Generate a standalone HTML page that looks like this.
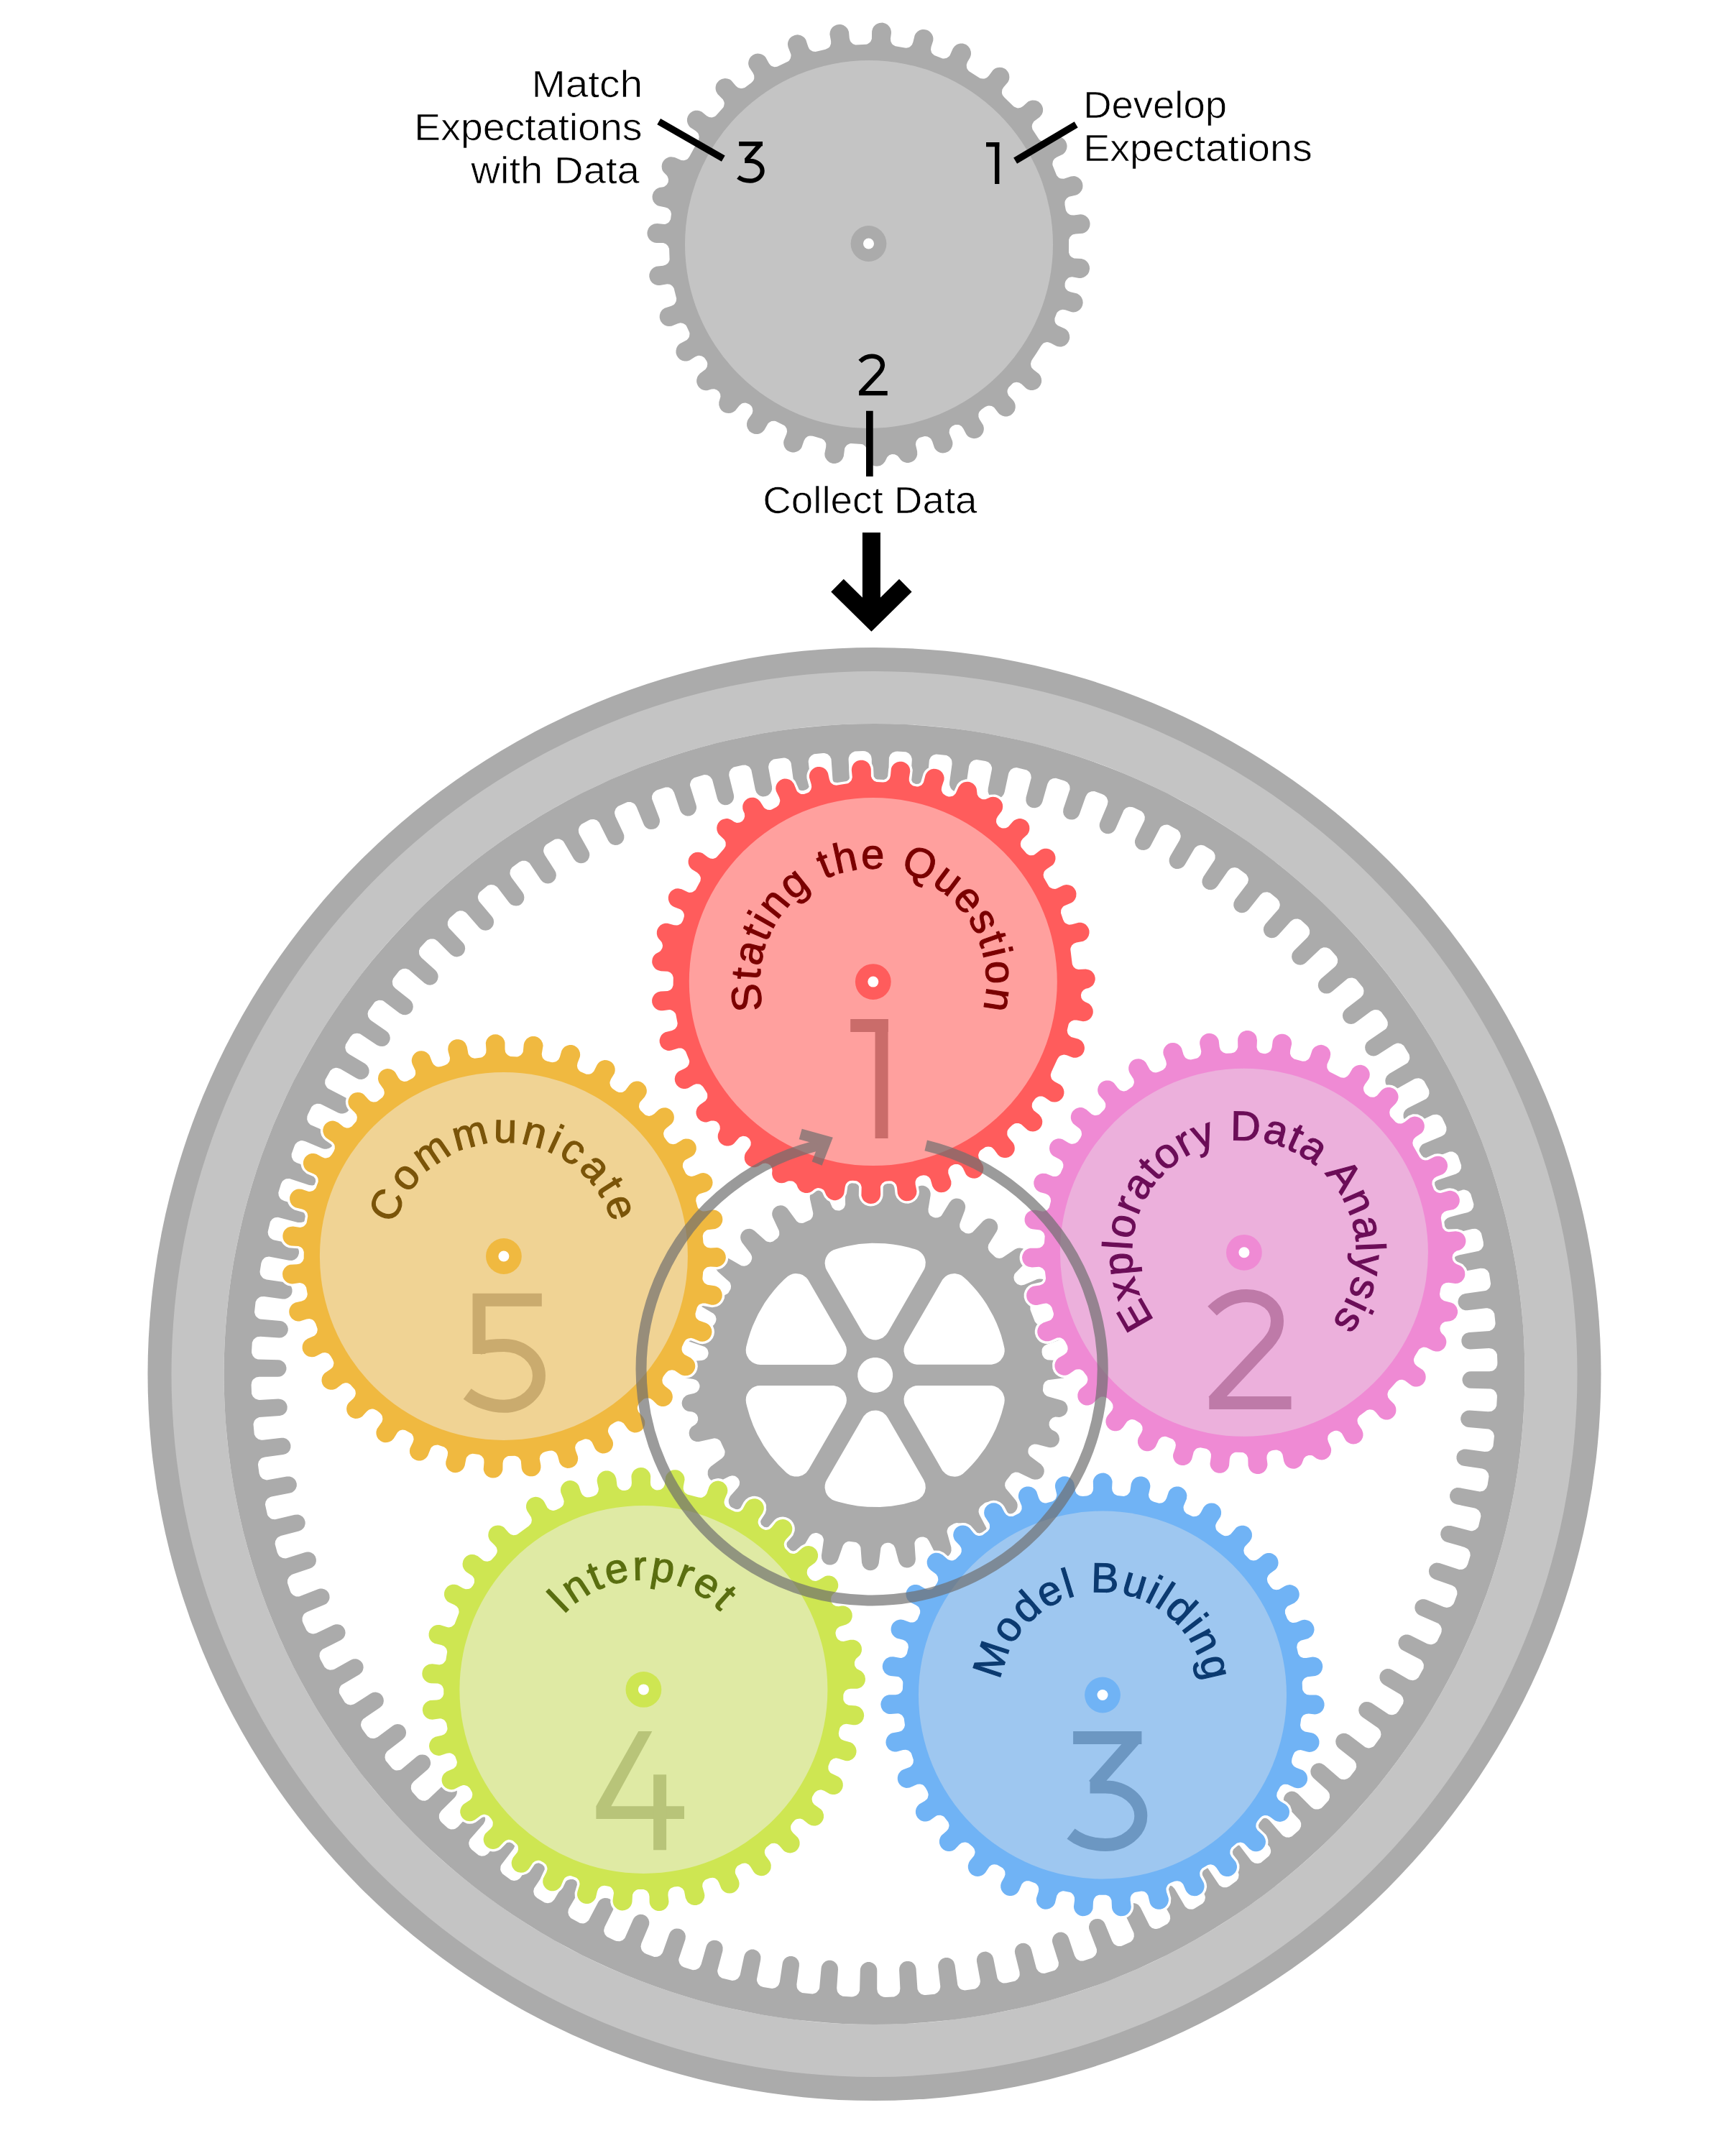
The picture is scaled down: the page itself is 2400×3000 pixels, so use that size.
<!DOCTYPE html>
<html><head><meta charset="utf-8"><style>html,body{margin:0;padding:0;background:#fff;}svg{display:block;}</style></head><body>
<svg xmlns="http://www.w3.org/2000/svg" width="2400" height="3000" viewBox="0 0 2400 3000">
<rect width="2400" height="3000" fill="#fff"/>
<path fill="#ababab" d="M913.2 338L922.9 338.1L926.5 339.5L929.3 342.2L930.9 345.7L931.1 347.6L931.6 361L931.2 362.9L929.3 366.2L926.2 368.6L922.5 369.7L913 370.7L909.7 372.2L907 374.4L904.9 377.2L903.4 381.6L903.3 385.1L904.2 388.5L905.2 390.7L907.4 393.4L910.3 395.5L912.9 396.6L915.3 397.1L918.2 397.1L928.3 395.2L932.1 395.8L933.8 396.7L935.4 397.9L937.6 401.1L941.2 415.4L940.7 419.2L938.9 422.6L937.5 423.9L934 425.7L924.7 428.7L921.8 430.8L920.3 432.6L918.8 435.1L917.8 438.5L917.7 442L918.6 445.4L919.6 447.6L921.8 450.3L924.7 452.4L928 453.7L930.8 454.1L934.3 453.7L942.9 450.2L946.7 449.3L950.5 450L953.8 452.1L955 453.5L959.2 462.5L959.5 464.4L959 468.2L958.2 470L955.7 472.9L945.9 478.2L944.1 479.8L942.4 482.1L941.3 484.2L940.5 487.7L940.5 491.2L941.5 494.5L943.4 497.6L945.9 500L949 501.7L952.4 502.5L955.9 502.4L959.3 501.4L967.1 496.4L970.7 494.9L972.6 494.7L976.4 495.4L979.7 497.5L980.9 499L983.4 502.8L984 504.6L984.3 506.6L983.7 510.4L981.7 513.7L973.8 519.8L971.1 522.9L970.1 525.1L969.2 528.5L969.2 531.4L969.7 533.7L971.1 537L972.9 539.2L975.6 541.5L977.8 542.5L981.2 543.3L984.1 543.3L989.9 541.6L993.7 541.3L997.3 542.4L1000.3 544.9L1002.1 548.2L1002.5 552L1000.3 559.6L1000.3 563.7L1001.7 568.1L1003.8 571L1006.6 573.2L1009.8 574.6L1013.3 575.1L1016.8 574.8L1020 573.5L1022.9 571.4L1028.5 564.4L1031.4 561.9L1033.2 561.1L1037 560.6L1038.9 560.9L1042.4 562.5L1044.8 564.6L1046 566.1L1046.8 567.9L1047.4 571.7L1046.5 575.4L1040.9 583.6L1039.8 585.7L1039 589.2L1039.1 592.7L1040.1 596.1L1042.6 599.9L1045.4 602.1L1049.2 603.7L1052.1 604.1L1054.5 603.9L1057.3 603.2L1060.4 601.5L1063.3 598.5L1068.6 589.3L1070 587.9L1073.4 586.1L1077.2 585.7L1079.1 586L1091.1 592L1092.5 593.3L1094.5 596.6L1095.1 600.4L1094.2 604.1L1090.5 612.9L1090.1 615.7L1090.5 619.2L1091.7 622.5L1093.8 625.4L1095.6 626.9L1098.7 628.6L1102.1 629.5L1105 629.5L1108.4 628.6L1111.5 626.9L1114.1 624.5L1115.4 622.5L1118.5 613.4L1120.4 610L1123.3 607.6L1125.1 606.8L1127.1 606.4L1130.9 606.8L1143.6 610.4L1146.8 612.7L1148.8 616L1149.3 617.8L1149.2 621.7L1147.3 631.2L1147.6 634.7L1148.4 637L1151 640.8L1154.3 643.4L1158.7 644.9L1162.2 644.9L1165.6 644.1L1167.8 643L1170.5 640.8L1172.2 638.6L1173.8 634.7L1175.2 624.1L1176 622.3L1178.4 619.3L1181.8 617.4L1183.6 617L1198.9 618L1200.7 618.6L1203.9 620.9L1205.9 624.2L1206.5 628L1206.5 637.3L1207.3 640.2L1208.9 643.2L1211.4 645.8L1213.4 647.1L1216.7 648.4L1220.2 648.8L1224.7 647.9L1228.3 645.8L1231.3 642.3L1234.4 635.9L1237.3 633.3L1241 632.1L1244.9 632.3L1248.4 634.1L1249.9 635.4L1253.6 640.3L1255.8 642.1L1258 643.1L1261.4 644L1264.3 644L1267.7 643.1L1269.9 642.1L1272.6 639.9L1274.4 637.6L1275.4 635.4L1276.2 632.6L1276.1 628.1L1273.9 618.6L1274.5 614.8L1275.3 613L1277.8 610.1L1279.5 609.1L1284.8 607.5L1286.7 607.1L1290.5 607.5L1293.9 609.4L1295.3 610.8L1297.1 614.2L1300.2 623.4L1302.2 626.3L1305 628.5L1308.2 629.9L1311.7 630.4L1315.2 630.1L1318.5 628.8L1320.5 627.5L1322.9 624.9L1324.6 621.8L1325.4 618.4L1325.4 615.5L1324.9 613.2L1320.9 603.3L1320.6 601.4L1321.2 597.6L1322.1 595.8L1324.7 593L1328.9 591L1332.7 590.9L1334.6 591.3L1337.9 593.3L1340.3 596.4L1344.5 604.6L1346.9 607.2L1349 608.5L1351.6 609.6L1355.1 610.2L1358.6 609.8L1360.9 609L1363.9 607.2L1366.3 604.6L1368 601.5L1368.8 598.1L1368.8 595.2L1368 591.8L1362.8 583.5L1361.4 579.9L1361.4 576L1362 574.2L1362.9 572.4L1365.6 569.7L1370.5 566.3L1374 564.7L1376 564.4L1379.8 565L1383.1 567L1388.9 574.5L1390.9 576.5L1394.5 578.6L1397.9 579.4L1401.4 579.4L1405.8 577.9L1408.6 575.8L1410.8 573.1L1411.9 570.9L1412.7 567.5L1412.7 564.6L1412.3 562.2L1411.2 559.6L1409.7 557.3L1403.1 550.2L1401.7 546.6L1401.5 544.6L1401.7 542.7L1403.2 539.2L1408.9 533.5L1410.6 532.6L1414.3 531.8L1418.1 532.5L1421.4 534.5L1427.7 540.4L1430.2 541.9L1433.6 542.9L1437.1 543L1440.6 542.1L1443.6 540.4L1445.5 538.8L1447.5 536L1448.8 532.7L1449.2 529.9L1448.8 526.4L1447.5 523.1L1445.5 520.2L1438.1 514.6L1435.4 511.7L1434.6 510L1434 506.2L1434.9 502.4L1435.8 500.7L1442 491.6L1448.6 481L1451.2 478.1L1452.8 477.1L1456.5 476.1L1458.5 476.2L1462.1 477.4L1468.7 481.1L1471 482L1474.5 482.6L1476.9 482.4L1481.3 480.9L1484.1 478.8L1486.3 476.1L1487.9 472.2L1488.3 469.4L1487.9 465.9L1486.7 462.6L1485.3 460.6L1483.3 458.6L1481.3 457.2L1471.8 453.1L1469 450.4L1468.1 448.7L1467.5 446.8L1467.4 442.9L1470.3 435.5L1471.5 433.9L1474.6 431.7L1478.3 430.8L1482.1 431.3L1491.1 434.3L1493.5 434.4L1497 433.9L1499.7 432.8L1502.5 430.7L1504.7 428L1506.1 424.8L1506.7 421.3L1506.3 417.8L1505 414.5L1503.7 412.5L1501.7 410.5L1498.7 408.6L1489.3 406.3L1485.7 404.8L1483 402L1482.1 400.3L1481.6 398.4L1481.6 394.5L1482.4 391.6L1483.3 389.9L1486 387.1L1487.7 386.1L1491.5 385.3L1501.3 386.9L1504 386.9L1507.5 386L1510.5 384.3L1513.5 381.4L1515.2 378.3L1516.1 373.8L1515.7 370.3L1514.4 367L1513.1 365L1511.1 363L1509.1 361.6L1504.7 360.1L1494.4 359.4L1490.9 357.7L1489.5 356.4L1488.3 354.9L1487 351.3L1487.1 333.6L1488.5 330L1491.2 327.2L1492.9 326.2L1496.6 325.4L1506.3 324.8L1508.6 324L1511.1 322.6L1512.9 321L1515 318.1L1516.2 314.9L1516.6 311.4L1516.2 308.5L1515 305.2L1512.9 302.4L1510.2 300.2L1506.9 298.7L1503.5 298.2L1494.1 299.5L1490.3 299.3L1488.5 298.7L1485.3 296.5L1483.2 293.2L1482.7 291.4L1481.5 285L1481.5 281.1L1482 279.2L1484.1 276L1487.3 273.8L1497 271.4L1499.5 270.4L1502.4 268.3L1504.9 265L1506.2 261.7L1506.5 258.2L1506 254.7L1504.6 251.5L1502.8 249.2L1500.1 247L1496.9 245.6L1494.5 245.1L1489.9 245.4L1480.1 248.7L1476.3 248.5L1474.4 247.9L1472.8 246.9L1470.1 244.1L1464.5 229.9L1464.3 227.9L1465 224.1L1467 220.9L1470.2 218.7L1479.1 214.4L1481.6 212L1482.9 210L1484.2 206.7L1484.6 203.2L1484.2 200.4L1482.9 197.1L1480.9 194.3L1478.1 192L1474.9 190.6L1472.5 190.1L1469 190.2L1466.3 191L1458.2 195.6L1454.6 196.9L1450.7 196.8L1447.2 195.2L1445.7 193.9L1436.5 180L1435.7 176.2L1435.9 174.3L1436.4 172.4L1438.4 169.1L1446.4 163.1L1449.5 159.3L1450.8 156L1451.1 153.2L1451 150.8L1450 147.4L1448.2 144.4L1444.7 141.3L1440.8 139.7L1436.2 139.4L1433.9 139.9L1430.6 141.3L1423.4 147.7L1420.1 149.7L1416.3 150.4L1414.4 150.1L1410.9 148.6L1409.4 147.3L1397.1 135.3L1394.8 132.2L1394.2 130.4L1393.9 128.4L1394.4 124.6L1396.4 121.3L1402.4 114.2L1403.9 110.9L1404.4 107.5L1404 104L1403.3 101.7L1401.8 99.2L1399.4 96.6L1397.4 95.3L1394.1 94L1390.6 93.7L1387.1 94.2L1384.5 95.3L1381.6 97.4L1375.9 105.3L1373.1 108L1369.6 109.4L1367.6 109.6L1363.8 108.9L1362.1 108L1348 99L1345.7 95.9L1345 94.1L1344.7 90.3L1345.9 86.6L1349.7 80L1350.5 77.8L1351 75.4L1350.9 71.9L1349.4 67.5L1346.9 64.2L1344.1 62.1L1339.7 60.6L1336.2 60.5L1333.8 61L1331.2 62.1L1328.3 64.2L1325.8 67.5L1321.6 77L1320.4 78.5L1317.2 80.7L1313.4 81.5L1311.5 81.4L1300 77.1L1297.1 74.5L1296 72.9L1295 69.1L1295.5 65.3L1298.3 56.5L1298.4 53L1297.9 50.6L1296.5 47.4L1294.3 44.7L1291.4 42.6L1288.8 41.5L1285.3 41L1282.9 41.1L1279.5 42.1L1276.5 43.9L1274.1 46.5L1272.7 49L1270.4 58.6L1268.9 62.2L1266.2 64.9L1264.5 65.9L1260.8 66.7L1258.8 66.5L1245.7 64.2L1242.3 62.3L1241 60.9L1239.3 57.4L1239 53.6L1240 46.1L1239.9 43.6L1239.1 40.2L1238 38L1235 34.5L1232 32.7L1228 31.6L1223.4 31.9L1220.1 33.2L1218.1 34.5L1215.6 37.1L1214.2 39.6L1213.1 43.6L1212.9 54L1211.5 57.5L1210.2 59.1L1207 61.2L1205.2 61.8L1190.4 62.4L1186.8 61.2L1183.9 58.6L1182.9 57L1181.8 53.3L1181 44.2L1179.7 40.9L1178.4 38.9L1176.3 36.9L1173.3 35L1170 34.1L1167.5 33.9L1164.1 34.4L1160.9 35.9L1158.1 38.1L1156 40.9L1154.8 44.2L1154.4 47.7L1156.1 56.9L1156.1 60.8L1154.7 64.4L1153.5 65.9L1152 67.1L1148.4 68.7L1134.6 72L1130.7 71.5L1127.4 69.6L1126 68.2L1124.3 64.7L1121.2 55.3L1119.2 52.5L1117.3 50.9L1114.2 49.2L1109.7 48.3L1105.6 48.9L1101.4 50.9L1098.9 53.3L1097.6 55.3L1096.3 58.6L1095.9 61.5L1096.5 65.6L1100.4 75.4L1100.6 77.3L1099.9 81.1L1097.8 84.4L1096.4 85.6L1081.3 92.8L1077.5 93.2L1073.8 92L1072.2 90.9L1069.8 87.9L1065.1 79.6L1063.1 77.6L1060.1 75.7L1057.8 74.9L1054.3 74.6L1050.8 75.1L1047.6 76.5L1044.8 78.7L1043.1 81L1041.7 84.2L1041.1 87.7L1041.3 90.1L1042.3 93.5L1047.6 101.5L1049.2 105L1049.3 108.9L1048.8 110.7L1047.9 112.5L1045.3 115.3L1036.2 122L1032.4 123.1L1030.5 123.1L1026.8 121.9L1023.8 119.4L1017.4 112L1015.4 110.6L1012.2 109.4L1008.7 109L1004.1 109.9L1000.5 112L997.5 115.5L996.4 117.6L995.6 121L995.6 123.9L996.4 127.3L998.5 130.9L1005.9 138.5L1007.5 142L1007.8 143.9L1007.1 147.7L1006.3 149.5L995.8 161.3L994.2 162.3L990.5 163.4L986.7 163L983.3 161.2L976.3 155.6L973.1 154.2L970.8 153.7L967.2 153.8L963.9 154.8L960.9 156.7L958.8 158.7L957 161.7L956 165.1L955.9 168.6L956.8 172L958.4 175.1L960 176.9L968 182.2L970.9 184.9L971.8 186.6L972.7 190.3L972.1 194.2L959.3 217.8L956.9 220.9L955.4 222L951.7 223.3L947.9 223.1L938.8 219.1L933.7 218.2L930.9 218.6L927.6 219.9L925.6 221.2L923.6 223.2L921.7 226.2L921 228.5L920.6 231.4L921 234.9L921.7 237.2L923.2 239.6L927.6 244L928.8 245.7L930 249.5L929.7 253.5L927.7 257L924.6 259.5L922.7 260.2L917.2 261.1L914.5 262.2L912.5 263.5L909.4 267L907.9 270.9L907.5 273.7L907.9 277.2L909.1 280.5L911.2 283.3L913.9 285.5L916.1 286.6L925.6 288.4L929.3 289.8L932.1 292.4L933.1 294.1L934 297.8L933 305.2L931.1 308.6L929.7 309.9L926.2 311.7L924.3 312L914.4 311L910.1 311.6L907.4 312.7L905.4 314L903.4 316.1L902.1 318.1L900.8 321.4L900.4 324.2L900.8 327.7L902.1 331L904.1 333.8L906.9 336L910.1 337.5Z"/>
<circle cx="1209" cy="340" r="256" fill="#c4c4c4"/>
<circle cx="1208.5" cy="339" r="24.9" fill="#ababab"/>
<circle cx="1208.5" cy="339" r="7.5" fill="#fff"/>
<circle cx="1216.5" cy="1912" r="1011" fill="#ababab"/>
<circle cx="1216.5" cy="1912" r="978" fill="#c4c4c4"/>
<circle cx="1216.5" cy="1912" r="905" fill="#fff"/>
<path fill="#ababab" fill-rule="evenodd" d="M2120.4 1867.6L2119.1 1845.5L2117.1 1823.3L2114.7 1801.3L2111.7 1779.2L2108.2 1757.3L2104.1 1735.5L2099.5 1713.7L2094.4 1692.1L2088.7 1670.7L2082.5 1649.3L2075.8 1628.1L2068.6 1607.1L2060.9 1586.3L2052.6 1565.7L2043.9 1545.3L2034.6 1525.1L2024.9 1505.1L2014.7 1485.4L2003.9 1466L1992.8 1446.8L1981.1 1427.9L1969 1409.2L1956.4 1390.9L1943.4 1372.9L1930 1355.2L1916.1 1337.9L1901.8 1320.9L1887.1 1304.3L1872 1288L1856.5 1272.1L1840.6 1256.6L1824.3 1241.5L1807.6 1226.7L1790.7 1212.4L1773.3 1198.6L1755.6 1185.1L1737.6 1172.1L1719.3 1159.5L1700.7 1147.4L1681.8 1135.8L1662.6 1124.6L1643.1 1113.9L1623.4 1103.6L1603.5 1093.9L1583.3 1084.7L1562.9 1075.9L1542.2 1067.7L1521.4 1059.9L1500.4 1052.7L1479.2 1046L1457.9 1039.8L1436.4 1034.1L1414.8 1029L1393.1 1024.4L1371.3 1020.3L1349.3 1016.8L1327.3 1013.8L1305.2 1011.4L1283.1 1009.5L1260.9 1008.1L1238.7 1007.3L1216.5 1007L1194.3 1007.3L1172.1 1008.1L1150 1009.4L1127.8 1011.4L1105.8 1013.8L1083.7 1016.8L1061.8 1020.3L1040 1024.4L1018.2 1029L996.6 1034.1L975.2 1039.8L953.8 1046L932.6 1052.7L911.6 1059.9L890.8 1067.6L870.2 1075.9L849.8 1084.6L829.6 1093.9L809.6 1103.6L789.9 1113.8L770.5 1124.6L751.3 1135.7L732.4 1147.4L713.7 1159.5L695.4 1172.1L677.4 1185.1L659.7 1198.5L642.4 1212.4L625.4 1226.7L608.8 1241.4L592.5 1256.5L576.6 1272L561.1 1287.9L546 1304.2L531.2 1320.9L516.9 1337.8L503.1 1355.2L489.6 1372.9L476.6 1390.9L464 1409.2L451.9 1427.8L440.3 1446.7L429.1 1465.9L418.4 1485.4L408.1 1505.1L398.4 1525L389.2 1545.2L380.4 1565.6L372.2 1586.3L364.4 1607.1L357.2 1628.1L350.5 1649.3L344.3 1670.6L338.6 1692.1L333.5 1713.7L328.9 1735.4L324.8 1757.2L321.3 1779.2L318.3 1801.2L315.9 1823.3L314 1845.4L312.6 1867.6L311.8 1889.8L311.5 1912L311.8 1934.2L312.6 1956.4L313.9 1978.5L315.9 2000.7L318.3 2022.7L321.3 2044.8L324.8 2066.7L328.9 2088.5L333.5 2110.3L338.6 2131.9L344.3 2153.3L350.5 2174.7L357.2 2195.9L364.4 2216.9L372.1 2237.7L380.4 2258.3L389.1 2278.7L398.4 2298.9L408.1 2318.9L418.3 2338.6L429.1 2358L440.2 2377.2L451.9 2396.1L464 2414.8L476.6 2433.1L489.6 2451.1L503 2468.8L516.9 2486.1L531.2 2503.1L545.9 2519.7L561 2536L576.5 2551.9L592.4 2567.4L608.7 2582.5L625.4 2597.3L642.3 2611.6L659.7 2625.4L677.4 2638.9L695.4 2651.9L713.7 2664.5L732.3 2676.6L751.2 2688.2L770.4 2699.4L789.9 2710.1L809.6 2720.4L829.5 2730.1L849.7 2739.3L870.1 2748.1L890.8 2756.3L911.6 2764.1L932.6 2771.3L953.8 2778L975.1 2784.2L996.6 2789.9L1018.2 2795L1039.9 2799.6L1061.7 2803.7L1083.7 2807.2L1105.7 2810.2L1127.8 2812.6L1149.9 2814.5L1172.1 2815.9L1194.3 2816.7L1216.5 2817L1238.7 2816.7L1260.9 2815.9L1283 2814.6L1305.2 2812.6L1327.2 2810.2L1349.3 2807.2L1371.2 2803.7L1393 2799.6L1414.8 2795L1436.4 2789.9L1457.8 2784.2L1479.2 2778L1500.4 2771.3L1521.4 2764.1L1542.2 2756.4L1562.8 2748.1L1583.2 2739.4L1603.4 2730.1L1623.4 2720.4L1643.1 2710.2L1662.5 2699.4L1681.7 2688.3L1700.6 2676.6L1719.3 2664.5L1737.6 2651.9L1755.6 2638.9L1773.3 2625.5L1790.6 2611.6L1807.6 2597.3L1824.2 2582.6L1840.5 2567.5L1856.4 2552L1871.9 2536.1L1887 2519.8L1901.8 2503.1L1916.1 2486.2L1929.9 2468.8L1943.4 2451.1L1956.4 2433.1L1969 2414.8L1981.1 2396.2L1992.7 2377.3L2003.9 2358.1L2014.6 2338.6L2024.9 2318.9L2034.6 2299L2043.8 2278.8L2052.6 2258.4L2060.8 2237.7L2068.6 2216.9L2075.8 2195.9L2082.5 2174.7L2088.7 2153.4L2094.4 2131.9L2099.5 2110.3L2104.1 2088.6L2108.2 2066.8L2111.7 2044.8L2114.7 2022.8L2117.1 2000.7L2119 1978.6L2120.4 1956.4L2121.2 1934.2L2121.5 1912L2121.2 1889.8ZM349.6 1926.9L350.4 1922.6L351.4 1920.6L352.8 1919L356.4 1916.5L360.7 1915.7L386.5 1915.8L389.5 1915.5L392.3 1914.4L395.3 1912.1L397.1 1909.6L398.4 1905.9L398.5 1902.9L397.5 1899.2L395.3 1896L392.3 1893.7L389.5 1892.6L386.9 1892.3L358.7 1891.6L354.8 1889.9L351.8 1886.8L350.2 1882.7L350.1 1880.1L350.8 1868L352.7 1864.1L356 1861.2L357.9 1860.3L362.3 1859.7L388.3 1861.5L391.8 1861.2L394.6 1860.1L397.6 1857.8L399.4 1855.3L400.7 1851.7L400.8 1848.6L399.8 1845L397.6 1841.7L394.6 1839.5L392.5 1838.6L389.9 1838.1L361.9 1835.6L359.9 1834.8L356.5 1832L355.3 1830.2L354 1826.1L355.6 1811.5L357.7 1807.7L361.1 1805L363.2 1804.2L367.5 1803.9L393.1 1807.4L396.8 1807.4L400.5 1806.1L403.5 1803.8L405.3 1801.4L406.5 1797.7L406.5 1793.9L405.3 1790.3L403 1787.3L399.7 1785.1L396.6 1784.2L370.8 1780.4L366.7 1778.9L365 1777.6L362.4 1774.1L361.5 1769.8L363.4 1757.5L365 1753.4L368 1750.3L370 1749.3L374.2 1748.4L402 1753.8L406.2 1753.9L409.8 1752.7L412.8 1750.4L414.6 1747.9L415.9 1744.2L416 1741.1L415 1737.5L412.8 1734.3L409.8 1732L406.6 1730.8L381.3 1725.4L379.2 1724.7L375.6 1722.2L373.3 1718.5L372.6 1714.3L376 1700L378.6 1696.5L380.4 1695.2L382.4 1694.3L386.7 1693.7L414.3 1701L419 1701.1L422.7 1699.9L425.2 1698.1L427.1 1695.7L428.5 1692.2L428.8 1688.4L428.1 1685.4L426.2 1682.1L423.3 1679.6L420.3 1678.2L395.3 1671.1L391.4 1669.1L389.8 1667.6L387.8 1663.8L387.3 1659.5L390.9 1647.4L393 1643.6L396.4 1641L398.4 1640.2L402.8 1639.9L430.1 1649L434.6 1649.4L437.5 1648.7L440.8 1646.8L443.4 1643.9L444.8 1640.4L445.1 1636.6L444.4 1633.6L442.9 1630.9L440.2 1628.2L437.2 1626.6L412.8 1617.9L409 1615.7L407.6 1614.1L405.8 1610.1L405.6 1605.8L409.5 1595L410.9 1592L414 1588.9L418 1587.3L420.1 1587L424.4 1587.9L448.2 1597.9L451.1 1598.7L454.2 1598.8L457.8 1597.8L460.4 1596.2L463 1593.3L464.2 1590.5L464.7 1586.8L464 1583L462.1 1579.7L459.8 1577.6L457.6 1576.3L431.8 1564.9L428.8 1561.8L427.2 1557.8L427.4 1553.4L428.2 1551L433.6 1540.1L436.8 1537.2L440.9 1535.7L445.3 1536L447.3 1536.8L470.7 1548.4L474 1549.5L477.1 1549.6L480.7 1548.6L483.3 1547L485.9 1544.1L487.1 1541.3L487.6 1537.5L486.8 1533.7L485 1530.5L483.3 1528.8L481.1 1527.4L456.2 1514.4L454.6 1512.8L452.5 1509L452.1 1506.9L452.5 1502.5L459.6 1489.7L463 1487L467.2 1485.8L469.4 1485.9L473.5 1487.3L495.8 1500.3L499.2 1501.7L503.1 1501.9L506.8 1500.9L510 1498.8L511.9 1496.4L513.4 1492.9L513.6 1489.1L512.6 1485.4L510.5 1482.2L507.9 1480.1L485.6 1466.8L482.4 1463.9L481.3 1462L480.2 1457.7L480.9 1453.4L487.5 1442.7L490.5 1439.6L492.4 1438.6L496.7 1437.7L500.9 1438.6L524.5 1454.2L528.4 1455.8L532.2 1456.1L535.2 1455.4L538.5 1453.5L541 1450.6L542.5 1447.1L542.8 1444.1L542 1440.3L540.1 1437L537.6 1434.7L516.3 1419.9L514.6 1418.5L512.3 1414.9L511.5 1410.6L512.5 1406.4L521.2 1394.5L522.9 1393.2L527 1391.7L531.4 1392L533.4 1392.8L556.1 1410L560.4 1412L564.3 1412.3L567.2 1411.6L570.5 1409.7L572.6 1407.4L574.1 1404.7L574.8 1400.9L574.3 1397.2L572.6 1393.7L570.3 1391.3L550 1375.2L547.1 1371.9L546.3 1369.9L545.8 1365.5L547.1 1361.4L554.9 1351.6L556.5 1350.1L560.4 1348.1L564.7 1347.8L568.9 1349.2L590.6 1368.1L594.6 1370.2L598.3 1370.7L602.1 1369.9L605.4 1368L607.5 1365.8L608.9 1363.1L609.7 1359.3L609.4 1356.3L607.9 1352.8L605.7 1350.1L586.5 1332.7L583.9 1329.2L583.2 1327.2L583 1322.8L584.5 1318.8L592.3 1310.3L594.7 1308.1L598.7 1306.4L603 1306.4L605.1 1307L608.7 1309.4L626.9 1327.8L629.3 1329.6L632.1 1330.9L635.8 1331.4L639.6 1330.6L642.3 1329.2L645 1326.5L646.4 1323.8L647.2 1320L646.7 1316.3L645.4 1313.5L643.8 1311.4L624.4 1291.1L622.8 1287L622.9 1282.7L624.7 1278.7L626.4 1276.8L635.5 1268.8L639.6 1267.3L643.9 1267.6L647.8 1269.5L649.4 1271L666.6 1290.7L669.2 1292.9L672 1294.2L675.8 1294.7L679.6 1293.9L682.3 1292.5L684.9 1289.8L686.4 1287.1L687.1 1283.3L686.7 1279.6L685.8 1277.4L684.3 1275.2L666.2 1253.7L664.9 1249.5L664.9 1247.3L666.2 1243.2L667.4 1241.4L678.8 1232.1L683 1231L687.3 1231.5L691.1 1233.7L692.6 1235.3L708.2 1255.8L710.9 1258.4L714.3 1260.1L718.1 1260.6L721.9 1259.9L724.6 1258.4L727.2 1255.8L729 1252.3L729.4 1248.5L728.7 1244.7L727.1 1241.8L711.6 1221L709.7 1217L709.4 1214.9L710.1 1210.6L712.4 1206.9L722.5 1199.5L726.5 1197.8L730.9 1197.7L733 1198.4L736.6 1200.8L752.4 1224.2L755.3 1227.2L758.8 1228.9L762.5 1229.4L766.3 1228.7L769 1227.2L771.7 1224.5L773.1 1221.9L773.9 1218.1L773.4 1214.3L771.9 1211.2L757.9 1189.4L756.3 1185.4L756.1 1183.2L757.1 1179L759.6 1175.4L772.1 1167.8L776.4 1167.2L778.6 1167.5L782.5 1169.4L784.1 1170.9L798.5 1195.5L801.7 1199L805.2 1200.7L808.2 1201.2L811.9 1200.7L814.7 1199.4L817.6 1196.9L819.5 1193.6L820.3 1189.8L820 1186.8L818.8 1183.7L806.1 1161L805.3 1159L804.8 1154.6L806 1150.5L808.8 1147.1L819.8 1141.1L821.8 1140.3L826.1 1140L830.2 1141.3L833.5 1144.2L846.4 1170L849.2 1173.4L851.9 1175L855.5 1176L859.4 1175.8L862.8 1174.3L865.2 1172.4L867.4 1169.2L868.3 1166.2L868.3 1162.4L867.2 1159.2L856.1 1135.7L855.1 1131.5L855.2 1129.3L856.7 1125.2L859.7 1122.1L870.1 1117.2L873.1 1116.1L877.5 1116.1L881.5 1117.7L883.2 1119.1L885.6 1122.7L895.4 1146.6L896.8 1149.3L898.9 1151.5L902.2 1153.4L905.2 1154.1L909 1153.8L912.5 1152.4L914.9 1150.4L917 1147.2L918 1143.6L917.9 1140.5L917.2 1138L907.1 1111.7L907.1 1107.4L908.9 1103.4L912.1 1100.4L914.4 1099.3L925.9 1095.4L930.2 1095.6L934.1 1097.5L935.7 1099L937.9 1102.8L946.2 1127.5L947.8 1130.6L949.9 1132.8L953.2 1134.7L956.2 1135.4L960 1135.2L963.5 1133.7L965.9 1131.8L968 1128.6L969 1124.9L969 1122.6L968.5 1120L960.1 1093.2L960 1091L961.3 1086.9L962.5 1085L965.8 1082.3L979.9 1078.1L984.2 1078.6L988 1080.8L990.7 1084.2L991.4 1086.3L998 1111.3L999.5 1114.7L1002 1117.6L1004.6 1119.2L1008.3 1120.2L1012.1 1119.9L1015.6 1118.5L1018.5 1115.9L1020.4 1112.7L1021.2 1108.9L1020.8 1105.6L1014.5 1080.3L1014.2 1078.2L1014.8 1073.9L1017.1 1070.2L1020.6 1067.6L1032.8 1064.7L1037.2 1064.6L1041.2 1066.3L1042.9 1067.6L1045.3 1071.2L1050.9 1098.9L1052.5 1102.9L1055 1105.8L1057.6 1107.4L1061.3 1108.4L1065.1 1108.1L1068.6 1106.7L1071.5 1104.1L1073.4 1100.8L1074.1 1097.9L1074 1094.4L1069.3 1068.9L1069.1 1066.7L1070.1 1062.5L1072.6 1058.9L1076.2 1056.6L1090.8 1054.4L1092.9 1054.7L1096.9 1056.6L1099.7 1059.8L1100.6 1061.8L1104.5 1090.1L1106.1 1094.5L1108.7 1097.4L1111.3 1099L1114.9 1100L1118 1099.9L1121.6 1098.7L1124.1 1096.9L1126.4 1093.9L1127.7 1090.2L1127.8 1086.9L1124.8 1061.1L1124.7 1058.9L1125.9 1054.7L1128.7 1051.4L1132.5 1049.3L1145 1048L1147.1 1048L1151.3 1049.3L1154.6 1052.2L1156.5 1056.1L1158.5 1084.8L1159.8 1089.1L1162.1 1092.1L1165.4 1094.2L1169 1095.2L1172.1 1095.1L1175.7 1093.9L1178.2 1092.1L1180.5 1089.1L1181.6 1086.2L1181.9 1082.8L1180.6 1056.9L1180.7 1054.7L1182.2 1050.6L1185.2 1047.4L1189.1 1045.6L1200.6 1045.1L1203.8 1045.3L1207.9 1046.9L1210.9 1050L1212 1051.9L1212.8 1056.2L1212.7 1082L1213 1085L1214.1 1087.8L1216.4 1090.8L1218.9 1092.6L1222.6 1093.9L1225.6 1094L1229.3 1093L1232.5 1090.8L1234.8 1087.8L1235.9 1085L1236.2 1082.4L1236.9 1054.2L1238.6 1050.3L1241.7 1047.3L1245.8 1045.7L1248.4 1045.6L1260.5 1046.3L1264.4 1048.2L1267.3 1051.5L1268.7 1055.6L1268.8 1057.8L1267 1083.8L1267.3 1087.3L1268.4 1090.1L1270.7 1093.1L1273.2 1094.9L1276.8 1096.2L1279.9 1096.3L1283.5 1095.3L1286.8 1093.1L1289 1090.1L1289.9 1088L1290.4 1085.4L1292.9 1057.4L1294.9 1053.5L1296.5 1052L1298.3 1050.8L1302.4 1049.5L1317 1051.1L1320.8 1053.2L1323.5 1056.6L1324.3 1058.7L1324.6 1063L1321.1 1088.6L1321.1 1092.3L1322.4 1096L1324.1 1098.5L1327.1 1100.8L1330.8 1102L1334.6 1102L1338.2 1100.8L1341.2 1098.5L1343.4 1095.2L1344.3 1092.1L1348.1 1066.3L1348.7 1064.2L1350.9 1060.5L1354.4 1057.9L1358.7 1057L1371 1058.9L1375.1 1060.5L1378.2 1063.5L1379.9 1067.6L1380.1 1069.7L1374.7 1097.5L1374.6 1101.7L1375.8 1105.3L1377.6 1107.8L1380.6 1110.1L1384.3 1111.4L1387.4 1111.5L1391 1110.5L1394.2 1108.3L1396.5 1105.3L1397.7 1102.1L1403.1 1076.8L1403.8 1074.7L1406.3 1071.1L1410 1068.8L1414.2 1068.1L1428.5 1071.5L1432 1074.1L1433.3 1075.9L1434.2 1077.9L1434.8 1082.2L1427.5 1109.8L1427.4 1114.5L1428.6 1118.2L1430.4 1120.7L1433.4 1123L1436.3 1124L1440.1 1124.3L1443.8 1123.3L1446.4 1121.7L1448.9 1118.8L1450.3 1115.8L1457.4 1090.8L1459.4 1086.9L1460.9 1085.3L1464.7 1083.3L1469 1082.8L1481.1 1086.4L1484.9 1088.5L1487.5 1091.9L1488.3 1093.9L1488.6 1098.3L1479.5 1125.6L1479.1 1130.1L1480 1133.7L1481.7 1136.3L1484.6 1138.9L1488.1 1140.3L1491.9 1140.6L1494.9 1139.9L1498.2 1138L1500.3 1135.7L1501.9 1132.7L1510.6 1108.3L1512.8 1104.5L1514.4 1103.1L1518.4 1101.3L1522.7 1101.1L1533.5 1105L1536.5 1106.4L1539.6 1109.5L1541.2 1113.5L1541.5 1115.6L1540.6 1119.9L1530.6 1143.7L1529.8 1146.6L1529.7 1149.7L1530.7 1153.3L1532.3 1155.9L1535.2 1158.5L1538.7 1159.9L1542.5 1160.2L1546.2 1159.2L1548.8 1157.6L1550.9 1155.3L1552.2 1153.1L1563.6 1127.3L1566.7 1124.3L1570.7 1122.7L1575.1 1122.9L1577.5 1123.7L1588.4 1129.1L1591.3 1132.3L1592.8 1136.4L1592.5 1140.8L1591.7 1142.8L1580.1 1166.2L1579 1169.5L1578.9 1172.6L1579.9 1176.2L1581.5 1178.8L1584.4 1181.4L1587.9 1182.8L1591.8 1183L1595.4 1182.1L1598 1180.5L1599.7 1178.8L1601.1 1176.6L1614.1 1151.7L1615.7 1150.1L1619.5 1148L1623.8 1147.6L1626 1148L1638.8 1155.1L1641.5 1158.5L1642.7 1162.7L1642.6 1164.9L1641.2 1169L1628.2 1191.3L1626.8 1194.7L1626.6 1198.6L1627.6 1202.3L1629.2 1204.9L1632.1 1207.4L1635.6 1208.9L1639.4 1209.1L1643.1 1208.1L1646.3 1206L1648.4 1203.4L1661.7 1181.1L1663 1179.3L1666.5 1176.8L1670.8 1175.7L1675.1 1176.4L1685.8 1183L1688.9 1186L1690.6 1190L1690.6 1194.3L1689.9 1196.4L1674.3 1220L1672.7 1223.9L1672.4 1227.7L1673.4 1231.4L1675 1234L1677.9 1236.5L1681.4 1238L1685.3 1238.2L1688.9 1237.2L1691.5 1235.6L1693.8 1233.1L1708.6 1211.8L1711.7 1208.8L1713.6 1207.8L1717.9 1207L1722.1 1208L1734 1216.7L1736.2 1220.4L1736.8 1222.5L1736.9 1224.7L1735.7 1228.9L1718.5 1251.6L1716.5 1255.9L1716.2 1259.8L1716.9 1262.7L1718.8 1266L1721.1 1268.1L1724.5 1269.8L1727.6 1270.3L1731.3 1269.8L1734.8 1268.1L1737.2 1265.8L1753.3 1245.5L1756.6 1242.6L1758.6 1241.8L1763 1241.3L1767.1 1242.6L1776.9 1250.4L1779.6 1253.9L1780.7 1258L1780.7 1260.2L1779.3 1264.4L1760.4 1286.1L1758.3 1290.1L1757.8 1293.8L1758.6 1297.6L1760.5 1300.9L1762.7 1303L1766.2 1304.7L1769.2 1305.2L1772.9 1304.7L1775.7 1303.4L1778.4 1301.2L1795.8 1282L1799.3 1279.4L1801.3 1278.7L1805.7 1278.5L1809.7 1280L1818.2 1287.8L1820.4 1290.2L1822.1 1294.2L1822.1 1298.5L1821.5 1300.6L1819.1 1304.2L1800.7 1322.4L1798.9 1324.8L1797.6 1327.6L1797.1 1331.3L1797.6 1334.3L1799.3 1337.8L1802 1340.5L1805.4 1342.2L1809.2 1342.7L1812.2 1342.2L1815 1340.9L1817.1 1339.3L1837.4 1319.9L1841.5 1318.3L1845.8 1318.4L1849.8 1320.2L1851.7 1321.9L1859.7 1331L1861.2 1335.1L1860.9 1339.4L1859 1343.3L1857.5 1344.9L1837.8 1362.1L1835.6 1364.7L1834.3 1367.5L1833.8 1371.3L1834.3 1374.3L1836 1377.8L1838.7 1380.4L1842.2 1382.2L1845.9 1382.6L1848.9 1382.2L1851.1 1381.3L1853.3 1379.8L1874.8 1361.7L1876.8 1360.9L1881.2 1360.4L1885.3 1361.7L1887.1 1362.9L1896.4 1374.3L1897.5 1378.5L1897 1382.8L1896.1 1384.8L1893.2 1388.1L1872.7 1403.7L1870.1 1406.4L1868.4 1409.8L1867.9 1412.9L1868.4 1416.6L1870.1 1420.1L1872.7 1422.7L1876.2 1424.5L1880 1424.9L1883.8 1424.2L1886.7 1422.6L1907.5 1407.1L1911.5 1405.2L1913.6 1404.9L1917.9 1405.6L1921.6 1407.9L1929 1418L1930.7 1422L1930.8 1426.4L1929.1 1430.4L1927.7 1432.1L1904.3 1447.9L1901.3 1450.8L1899.6 1454.3L1899.1 1457.3L1899.6 1461L1901.3 1464.5L1904 1467.2L1907.4 1468.9L1911.2 1469.4L1914.2 1468.9L1917.3 1467.4L1939.1 1453.4L1943.1 1451.8L1945.3 1451.6L1949.5 1452.6L1953.1 1455.1L1960.7 1467.6L1961.3 1471.9L1961 1474.1L1959.1 1478L1957.6 1479.6L1933 1494L1929.5 1497.2L1927.8 1500.7L1927.3 1503.7L1927.8 1507.4L1929.1 1510.2L1931.6 1513.1L1934.2 1514.7L1937.9 1515.7L1941.7 1515.5L1944.8 1514.3L1967.5 1501.6L1969.5 1500.8L1973.9 1500.3L1978 1501.5L1981.4 1504.3L1987.4 1515.3L1988.2 1517.3L1988.5 1521.6L1987.2 1525.7L1984.3 1529L1958.5 1541.9L1955.1 1544.7L1953.2 1548L1952.5 1551L1952.7 1554.9L1954.2 1558.3L1956.7 1561.3L1959.3 1562.9L1963 1563.8L1966.1 1563.8L1969.3 1562.7L1992.8 1551.6L1994.8 1550.9L1999.2 1550.7L2003.3 1552.2L2006.4 1555.2L2011.3 1565.6L2012.4 1568.6L2012.4 1573L2010.8 1577L2009.4 1578.7L2005.8 1581.1L1981.9 1590.9L1979.2 1592.3L1977 1594.4L1975.1 1597.7L1974.4 1600.7L1974.7 1604.5L1976.1 1608L1978.7 1610.9L1981.9 1612.8L1984.9 1613.5L1988 1613.4L1990.5 1612.7L2016.8 1602.6L2021.1 1602.6L2025.1 1604.4L2028.1 1607.6L2029.2 1609.9L2033.1 1621.4L2032.9 1625.7L2031 1629.6L2029.5 1631.2L2025.7 1633.4L2001 1641.7L1997.9 1643.3L1995.7 1645.4L1993.8 1648.7L1993.1 1651.7L1993.3 1655.5L1994.8 1659L1997.3 1661.9L2000.6 1663.8L2003.6 1664.5L2005.9 1664.5L2008.5 1664L2035.3 1655.6L2037.5 1655.5L2041.6 1656.8L2043.5 1658L2046.2 1661.3L2050.4 1675.4L2049.9 1679.7L2047.7 1683.5L2046.1 1685L2042.2 1686.9L2017.2 1693.5L2013.8 1695L2010.9 1697.5L2009.3 1700.1L2008.3 1703.8L2008.6 1707.6L2010 1711.1L2012.6 1714L2015.8 1715.9L2019.6 1716.7L2022.9 1716.3L2048.2 1710L2052.5 1709.8L2054.6 1710.3L2058.3 1712.6L2060.9 1716.1L2063.8 1728.3L2063.9 1732.7L2063.3 1734.8L2060.9 1738.4L2057.3 1740.8L2029.6 1746.4L2025.6 1748L2022.7 1750.5L2021.1 1753.1L2020.1 1756.8L2020.4 1760.6L2021.8 1764.1L2024.4 1767L2027.7 1768.9L2030.6 1769.6L2034.1 1769.5L2059.6 1764.8L2063.9 1764.9L2066 1765.6L2069.6 1768.1L2071.9 1771.7L2074.1 1786.3L2073.1 1790.5L2071.9 1792.4L2068.7 1795.2L2066.7 1796.1L2038.4 1800L2034 1801.6L2031.1 1804.2L2029.5 1806.8L2028.5 1810.4L2028.6 1813.5L2029.8 1817.1L2031.6 1819.6L2034.6 1821.9L2038.3 1823.2L2041.6 1823.3L2067.4 1820.3L2069.6 1820.2L2073.8 1821.4L2077.1 1824.2L2079.2 1828L2080.5 1840.5L2080.5 1842.6L2079.2 1846.8L2076.3 1850.1L2072.4 1852L2043.7 1854L2039.4 1855.3L2036.9 1857.1L2034.6 1860.1L2033.4 1863.8L2033.4 1867.6L2034.6 1871.2L2036.4 1873.7L2039.4 1876L2042.3 1877.1L2045.7 1877.4L2071.6 1876.1L2075.9 1876.8L2077.9 1877.7L2081.1 1880.7L2082.9 1884.6L2083.4 1896.1L2083.2 1899.3L2081.6 1903.4L2078.5 1906.4L2076.6 1907.5L2072.3 1908.3L2046.5 1908.2L2043.5 1908.5L2040.7 1909.6L2037.7 1911.9L2035.9 1914.4L2034.6 1918.1L2034.5 1921.1L2035.5 1924.8L2037.7 1928L2040.7 1930.3L2043.5 1931.4L2046.1 1931.7L2074.3 1932.4L2078.2 1934.1L2081.2 1937.2L2082.8 1941.3L2082.9 1943.9L2082.2 1956L2080.3 1959.9L2077 1962.8L2075.1 1963.7L2070.7 1964.3L2044.7 1962.5L2041.2 1962.8L2038.4 1963.9L2035.4 1966.2L2033.6 1968.7L2032.3 1972.3L2032.2 1975.4L2033.2 1979L2035.4 1982.3L2038.4 1984.5L2040.5 1985.4L2043.1 1985.9L2071.1 1988.4L2073.1 1989.2L2076.5 1992L2077.7 1993.8L2079 1997.9L2077.4 2012.5L2075.3 2016.3L2071.9 2019L2069.8 2019.8L2065.5 2020.1L2039.9 2016.6L2036.2 2016.6L2032.5 2017.9L2030 2019.6L2027.7 2022.6L2026.5 2026.3L2026.5 2030.1L2027.7 2033.7L2030 2036.7L2033.3 2038.9L2036.4 2039.8L2062.2 2043.6L2066.3 2045.1L2068 2046.4L2070.6 2049.9L2071.5 2054.2L2069.6 2066.5L2068 2070.6L2065 2073.7L2063 2074.7L2058.8 2075.6L2031 2070.2L2026.8 2070.1L2023.2 2071.3L2020.7 2073.1L2018.4 2076.1L2017.1 2079.8L2017.1 2083.6L2018.4 2087.2L2020.7 2090.2L2023.2 2092L2026.4 2093.2L2051.7 2098.6L2053.8 2099.3L2057.4 2101.8L2059.7 2105.5L2060.4 2109.7L2057 2124L2055.8 2125.9L2052.6 2128.8L2048.5 2130.2L2046.3 2130.3L2018.7 2123L2014 2122.9L2010.3 2124.1L2007.8 2125.9L2005.9 2128.3L2004.5 2131.8L2004.2 2135.6L2005.2 2139.3L2007.3 2142.5L2009.7 2144.4L2012.7 2145.8L2037.7 2152.9L2041.6 2154.9L2043.2 2156.4L2045.2 2160.2L2045.7 2164.5L2042.1 2176.6L2040 2180.4L2036.6 2183L2034.6 2183.8L2030.2 2184.1L2002.9 2175L1998.4 2174.6L1994.8 2175.5L1991.6 2177.7L1989.6 2180.1L1988.2 2183.6L1987.9 2186.6L1988.6 2190.4L1990.5 2193.7L1992.8 2195.8L1995.8 2197.4L2020.2 2206.1L2024 2208.3L2025.4 2209.9L2027.2 2213.9L2027.4 2218.2L2023.5 2229L2022.1 2232L2019 2235.1L2017.1 2236.1L2012.9 2237L2008.6 2236.1L1984.8 2226.1L1981.9 2225.3L1978.1 2225.3L1975.2 2226.2L1972 2228.3L1970 2230.7L1968.8 2233.5L1968.3 2237.2L1969 2241L1970.9 2244.3L1973.2 2246.4L1975.4 2247.7L2001.2 2259.1L2004.2 2262.2L2005.8 2266.2L2005.6 2270.6L2004.8 2273L1999.4 2283.9L1996.2 2286.8L1992.1 2288.3L1989.9 2288.3L1985.7 2287.2L1962.3 2275.6L1959 2274.5L1955.2 2274.5L1952.3 2275.4L1949.1 2277.6L1947.1 2279.9L1945.9 2282.7L1945.4 2286.5L1946.2 2290.3L1948 2293.5L1949.7 2295.2L1951.9 2296.6L1976.8 2309.6L1978.4 2311.2L1980.5 2315L1980.9 2317.1L1980.5 2321.5L1973.4 2334.3L1970 2337L1965.8 2338.2L1961.5 2337.6L1959.5 2336.7L1937.2 2323.7L1933.8 2322.3L1929.9 2322.1L1926.9 2322.8L1923.6 2324.7L1921.1 2327.6L1919.6 2331.1L1919.4 2334.9L1920.4 2338.6L1922.5 2341.8L1925.1 2343.9L1947.4 2357.2L1949.2 2358.5L1951.7 2362L1952.8 2366.3L1952.1 2370.6L1945.5 2381.3L1942.5 2384.4L1938.5 2386.1L1936.3 2386.3L1932.1 2385.4L1908.5 2369.8L1904.6 2368.2L1900.8 2367.9L1897.8 2368.6L1894.5 2370.5L1892 2373.4L1890.7 2376.2L1890.2 2379.9L1891 2383.7L1892.9 2387L1895.4 2389.3L1916.7 2404.1L1918.4 2405.5L1920.7 2409.1L1921.5 2413.4L1920.5 2417.6L1911.8 2429.5L1910.1 2430.8L1906 2432.3L1903.8 2432.4L1899.6 2431.2L1876.9 2414L1872.6 2412L1868.7 2411.7L1865.8 2412.4L1862.5 2414.3L1860.4 2416.6L1858.7 2420L1858.2 2423.1L1858.7 2426.8L1860.4 2430.3L1862.7 2432.7L1883 2448.8L1884.6 2450.3L1886.7 2454.1L1887.2 2458.5L1885.9 2462.6L1878.1 2472.4L1874.6 2475.1L1870.5 2476.2L1866.1 2475.7L1864.1 2474.8L1842.4 2455.9L1838.4 2453.8L1835.4 2453.3L1831.7 2453.8L1828.2 2455.5L1825.5 2458.2L1823.8 2461.7L1823.3 2464.7L1823.8 2468.4L1825.1 2471.2L1827.3 2473.9L1846.5 2491.3L1849.1 2494.8L1849.8 2496.8L1850 2501.2L1848.5 2505.2L1840.7 2513.7L1838.3 2515.9L1834.3 2517.6L1830 2517.6L1827.9 2517L1824.3 2514.6L1806.1 2496.2L1803.7 2494.4L1800.9 2493.1L1797.2 2492.6L1794.2 2493.1L1790.7 2494.8L1788 2497.5L1786.3 2500.9L1785.8 2504.7L1786.3 2507.7L1787.6 2510.5L1789.2 2512.6L1808.6 2532.9L1810.2 2537L1810.1 2541.3L1808.3 2545.3L1806.6 2547.2L1797.5 2555.2L1793.4 2556.7L1789.1 2556.4L1785.2 2554.5L1783.6 2553L1766.4 2533.3L1763.8 2531.1L1761 2529.8L1757.2 2529.3L1754.2 2529.8L1750.7 2531.5L1748.1 2534.2L1746.3 2537.7L1745.9 2541.4L1746.3 2544.4L1747.2 2546.6L1748.7 2548.8L1766.8 2570.3L1768.1 2574.5L1768.1 2576.7L1767.7 2578.8L1765.6 2582.6L1754.2 2591.9L1750 2593L1745.7 2592.5L1741.9 2590.3L1740.4 2588.7L1724.8 2568.2L1722.1 2565.6L1718.7 2563.9L1715.6 2563.4L1711.9 2563.9L1708.4 2565.6L1705.8 2568.2L1704 2571.7L1703.6 2575.5L1704.3 2579.3L1705.9 2582.2L1721.4 2603L1723.3 2607L1723.6 2609.1L1722.9 2613.4L1720.6 2617.1L1710.5 2624.5L1706.5 2626.2L1702.1 2626.3L1700 2625.6L1696.4 2623.2L1680.6 2599.8L1677.7 2596.8L1674.2 2595.1L1671.2 2594.6L1667.5 2595.1L1664 2596.8L1661.3 2599.5L1659.6 2602.9L1659.1 2606.7L1659.6 2609.7L1661.1 2612.8L1675.1 2634.6L1676.7 2638.6L1676.9 2640.8L1675.9 2645L1673.4 2648.6L1660.9 2656.2L1658.7 2656.7L1654.4 2656.5L1652.3 2655.8L1648.9 2653.1L1634.5 2628.5L1631.3 2625L1627.8 2623.3L1624.8 2622.8L1621.1 2623.3L1618.3 2624.6L1615.4 2627.1L1613.5 2630.4L1612.7 2634.2L1613 2637.2L1614.2 2640.3L1626.9 2663L1627.7 2665L1628.2 2669.4L1627 2673.5L1624.2 2676.9L1613.2 2682.9L1609.1 2684.1L1606.9 2684L1602.8 2682.7L1599.5 2679.8L1586.6 2654L1583.8 2650.6L1580.5 2648.7L1576.7 2647.9L1572.9 2648.4L1570.2 2649.7L1567.8 2651.6L1565.6 2654.8L1564.7 2657.8L1564.7 2661.6L1565.8 2664.8L1576.9 2688.3L1577.6 2690.3L1577.8 2694.7L1576.3 2698.8L1573.3 2701.9L1562.9 2706.8L1559.9 2707.9L1555.5 2707.9L1553.4 2707.3L1549.8 2704.9L1547.4 2701.3L1537.6 2677.4L1536.2 2674.7L1534.1 2672.5L1530.8 2670.6L1527.8 2669.9L1524 2670.2L1521.1 2671.3L1518.1 2673.6L1516 2676.8L1515 2680.4L1515.1 2683.5L1515.8 2686L1525.9 2712.3L1525.9 2716.6L1524.1 2720.6L1520.9 2723.6L1518.6 2724.7L1507.1 2728.6L1502.8 2728.4L1498.9 2726.5L1497.3 2725L1495.1 2721.2L1486.8 2696.5L1485.2 2693.4L1483.1 2691.2L1479.8 2689.3L1476.8 2688.6L1473 2688.8L1470.1 2689.9L1467.1 2692.2L1465 2695.4L1464 2699.1L1464 2701.4L1464.5 2704L1472.9 2730.8L1472.6 2735.1L1471.7 2737.1L1469 2740.5L1467.2 2741.7L1453.1 2745.9L1448.8 2745.4L1445 2743.2L1442.3 2739.8L1441.6 2737.7L1435 2712.7L1433.5 2709.3L1431 2706.4L1427.7 2704.5L1424.7 2703.8L1420.9 2704.1L1417.4 2705.5L1414.5 2708.1L1412.6 2711.3L1411.8 2715.1L1412.2 2718.4L1418.5 2743.7L1418.7 2748L1418.2 2750.1L1415.9 2753.8L1412.4 2756.4L1400.2 2759.3L1395.8 2759.4L1393.7 2758.8L1390.1 2756.4L1387.7 2752.8L1382.1 2725.1L1380.5 2721.1L1378 2718.2L1374.7 2716.4L1371.7 2715.6L1367.9 2715.9L1365 2717L1362 2719.3L1359.9 2722.5L1358.9 2726.1L1359 2729.6L1363.7 2755.1L1363.9 2757.3L1362.9 2761.5L1360.4 2765.1L1356.8 2767.4L1342.2 2769.6L1338 2768.6L1336.1 2767.4L1334.5 2765.9L1332.4 2762.2L1328.5 2733.9L1326.9 2729.5L1324.9 2727.1L1321.7 2725L1318.8 2724.1L1315 2724.1L1311.4 2725.3L1308.9 2727.1L1306.6 2730.1L1305.3 2733.8L1305.2 2737.1L1308.2 2762.9L1308.3 2765.1L1307.1 2769.3L1304.3 2772.6L1300.5 2774.7L1288 2776L1285.9 2776L1281.7 2774.7L1278.4 2771.8L1276.5 2767.9L1274.5 2739.2L1273.2 2734.9L1271.4 2732.4L1268.4 2730.1L1264.7 2728.9L1260.9 2728.9L1257.3 2730.1L1254.8 2731.9L1252.8 2734.3L1251.4 2737.8L1251.1 2741.2L1252.4 2767.1L1251.7 2771.4L1250.8 2773.4L1247.8 2776.6L1243.9 2778.4L1232.4 2778.9L1229.2 2778.7L1225.1 2777.1L1222.1 2774L1221 2772.1L1220.2 2767.8L1220.3 2742L1220 2739L1218.5 2735.5L1216.6 2733.2L1214.1 2731.4L1210.4 2730.1L1206.6 2730.1L1203 2731.4L1200 2733.7L1198.2 2736.2L1197.1 2739L1196.8 2741.6L1196.1 2769.8L1194.4 2773.7L1191.3 2776.7L1187.2 2778.3L1184.6 2778.4L1172.5 2777.7L1168.6 2775.8L1165.7 2772.5L1164.8 2770.6L1164.2 2766.2L1166 2740.2L1165.7 2736.7L1164.3 2733.2L1162.3 2730.9L1159.8 2729.1L1156.2 2727.8L1152.4 2727.8L1148.7 2729.1L1145.7 2731.4L1144 2733.9L1143.1 2736L1142.6 2738.6L1140.1 2766.6L1139.3 2768.6L1136.5 2772L1134.7 2773.2L1130.6 2774.5L1116 2772.9L1112.2 2770.8L1109.5 2767.4L1108.7 2765.3L1108.4 2761L1111.9 2735.4L1111.9 2731.7L1110.6 2728L1108.3 2725L1105.9 2723.2L1102.2 2722L1098.4 2722L1094.8 2723.2L1091.8 2725.5L1089.6 2728.8L1088.7 2731.9L1084.9 2757.7L1083.4 2761.8L1082.1 2763.5L1078.6 2766.1L1074.3 2767L1062 2765.1L1057.9 2763.5L1054.8 2760.5L1053.1 2756.4L1052.9 2754.3L1058.3 2726.5L1058.4 2722.3L1057.2 2718.7L1054.9 2715.7L1052.4 2713.9L1048.7 2712.6L1044.9 2712.6L1041.3 2713.9L1038.3 2716.2L1036.5 2718.7L1035.3 2721.9L1029.9 2747.2L1029.2 2749.3L1026.7 2752.9L1023 2755.2L1018.8 2755.9L1004.5 2752.5L1001 2749.9L999.7 2748.1L998.3 2744L998.2 2741.8L1005.5 2714.2L1005.6 2709.5L1004.4 2705.8L1002.6 2703.3L999.6 2701L996.7 2700L992.9 2699.7L989.9 2700.4L986.6 2702.3L984.1 2705.2L982.7 2708.2L975.6 2733.2L973.6 2737.1L972.1 2738.7L968.3 2740.7L964 2741.2L951.9 2737.6L948.1 2735.5L945.5 2732.1L944.3 2727.9L944.4 2725.7L953.5 2698.4L953.9 2693.9L953 2690.3L950.8 2687.1L947.8 2684.8L944.9 2683.7L941.1 2683.4L938.1 2684.1L934.8 2686L932.7 2688.3L931.1 2691.3L922.4 2715.7L921.5 2717.7L918.6 2720.9L914.6 2722.7L910.3 2722.9L899.5 2719L896.5 2717.6L893.4 2714.5L892.4 2712.6L891.5 2708.4L892.4 2704.1L902.4 2680.3L903.2 2677.4L903.3 2674.3L902.3 2670.7L900.2 2667.5L897.8 2665.5L894.3 2664.1L890.5 2663.8L887.5 2664.5L884.2 2666.4L882.1 2668.7L880.8 2670.9L869.4 2696.7L866.3 2699.7L862.3 2701.3L857.9 2701.1L855.5 2700.3L844.6 2694.9L841.7 2691.7L840.2 2687.6L840.2 2685.4L841.3 2681.2L852.9 2657.8L854 2654.5L854.1 2651.4L853.1 2647.8L850.9 2644.6L848.6 2642.6L845.1 2641.2L841.2 2641L838.2 2641.7L835 2643.5L833.3 2645.2L831.9 2647.4L818.9 2672.3L815.5 2675.1L813.5 2676L811.4 2676.4L807 2676L794.2 2668.9L791.5 2665.5L790.3 2661.3L790.9 2657L791.8 2655L804.8 2632.7L806.2 2629.3L806.4 2625.4L805.7 2622.4L803.8 2619.1L800.9 2616.6L797.4 2615.1L793.6 2614.9L789.9 2615.9L786.7 2618L784.6 2620.6L771.3 2642.9L768.4 2646.1L766.5 2647.2L762.2 2648.3L757.9 2647.6L747.2 2641L744.1 2638L743.1 2636.1L742.2 2631.8L743.1 2627.6L758.7 2604L760.3 2600.1L760.6 2596.3L759.9 2593.3L758 2590L755.1 2587.5L751.6 2586L747.7 2585.8L744.8 2586.5L741.5 2588.4L739.2 2590.9L724.4 2612.2L723 2613.9L719.4 2616.2L715.1 2617L710.9 2616L699 2607.3L696.8 2603.6L696.2 2601.5L696.5 2597.1L697.3 2595.1L714.5 2572.4L716.5 2568.1L716.8 2564.2L716.1 2561.3L714.6 2558.6L711.9 2555.9L709.2 2554.4L705.4 2553.7L701.7 2554.2L698.2 2555.9L695.8 2558.2L679.7 2578.5L678.2 2580.1L674.4 2582.2L670 2582.7L665.9 2581.4L656.1 2573.6L653.4 2570.1L652.3 2566L652.3 2563.8L653.7 2559.6L672.6 2537.9L674.7 2533.9L675.2 2530.9L674.7 2527.2L673 2523.7L670.3 2521L667.6 2519.6L663.8 2518.8L660.1 2519.3L657.3 2520.6L654.6 2522.8L637.2 2542L633.7 2544.6L631.7 2545.3L627.3 2545.5L623.3 2544L614.8 2536.2L612.6 2533.8L610.9 2529.8L610.9 2525.5L611.5 2523.4L613.9 2519.8L632.3 2501.6L634.1 2499.2L635.6 2495.8L635.9 2492.7L635.1 2488.9L633.7 2486.2L631.6 2484L628.3 2482.1L624.5 2481.3L620.8 2481.8L618 2483.1L615.9 2484.7L595.6 2504.1L591.5 2505.7L587.2 2505.6L583.2 2503.8L581.3 2502.1L573.3 2493L571.8 2488.9L572.1 2484.6L572.8 2482.5L575.5 2479.1L595.2 2461.9L597.4 2459.3L598.9 2455.8L599.2 2452.7L598.4 2448.9L597 2446.2L594.3 2443.6L591.6 2442.1L587.8 2441.4L584.1 2441.8L581.9 2442.7L579.7 2444.2L558.2 2462.3L556.2 2463.1L551.8 2463.6L549.7 2463.2L545.9 2461.1L536.6 2449.7L535.5 2445.5L536 2441.2L538.2 2437.4L539.8 2435.9L560.3 2420.3L562.9 2417.6L564.4 2414.9L565.1 2411.1L564.6 2407.4L562.9 2403.9L560.3 2401.3L556.8 2399.5L553 2399.1L549.2 2399.8L546.3 2401.4L525.5 2416.9L521.5 2418.8L519.4 2419.1L515.1 2418.4L511.4 2416.1L504 2406L502.3 2402L502 2399.8L502.9 2395.5L505.3 2391.9L528.7 2376.1L531.7 2373.2L533.2 2370.5L533.9 2366.7L533.4 2363L531.7 2359.5L529 2356.8L526.4 2355.4L522.6 2354.6L518.8 2355.1L515.7 2356.6L493.9 2370.6L492 2371.6L487.7 2372.4L483.5 2371.4L479.9 2368.9L472.3 2356.4L471.8 2354.2L472 2349.9L473.9 2346L475.4 2344.4L500 2330L503.5 2326.8L504.9 2324.1L505.7 2320.3L505.2 2316.6L503.9 2313.8L501.4 2310.9L498.1 2309L495.1 2308.3L491.3 2308.5L488.2 2309.7L465.5 2322.4L463.5 2323.2L459.1 2323.7L455 2322.5L451.6 2319.7L445.6 2308.7L444.4 2304.6L444.9 2300.2L445.8 2298.3L448.7 2295L474.5 2282.1L477.9 2279.3L479.8 2276L480.6 2272.2L480.1 2268.4L478.8 2265.7L476.9 2263.3L473.7 2261.1L470 2260.2L466.9 2260.2L463.7 2261.3L440.2 2272.4L436 2273.4L433.8 2273.3L429.7 2271.8L426.6 2268.8L421.7 2258.4L420.6 2255.4L420.6 2251L422.2 2247L423.6 2245.3L427.2 2242.9L451.1 2233.1L453.8 2231.7L456 2229.6L457.9 2226.3L458.6 2223.3L458.3 2219.5L457.2 2216.6L454.9 2213.6L451.7 2211.5L448.1 2210.5L445 2210.6L442.5 2211.3L416.2 2221.4L411.9 2221.4L407.9 2219.6L404.9 2216.4L403.8 2214L399.9 2202.6L400.1 2198.3L402 2194.4L405.3 2191.5L407.3 2190.6L431.8 2182.3L434.4 2181.1L437.3 2178.6L439 2176L439.9 2172.3L439.8 2169.3L438.6 2165.6L436.3 2162.6L433.1 2160.5L430.1 2159.6L427.1 2159.5L424.5 2160L397.7 2168.4L393.4 2168.1L389.5 2166L388 2164.5L385.9 2160.7L382.6 2148.6L383.1 2144.3L385.3 2140.5L386.9 2139L390.8 2137.1L415.8 2130.5L419.2 2129L422.1 2126.5L423.7 2123.9L424.7 2120.2L424.6 2117.2L423.3 2113.5L421 2110.5L417.8 2108.4L414.9 2107.5L410.1 2107.7L382.7 2114.3L378.4 2113.7L376.4 2112.7L373.2 2109.8L372.1 2107.9L368.9 2093.5L369.7 2089.2L372.1 2085.6L375.7 2083.2L377.8 2082.6L403.4 2077.6L406.7 2076.4L409.7 2074.1L411.5 2071.6L412.8 2067.9L412.8 2064.2L411.5 2060.5L409.7 2058L406.7 2055.7L403.1 2054.5L398.9 2054.5L371.2 2059.4L369.1 2059.1L365.1 2057.4L362.1 2054.2L360.6 2050.2L358.9 2037.7L359.9 2033.5L362.6 2030L364.3 2028.8L368.5 2027.4L394.1 2024.1L397.7 2023.1L400.9 2020.9L403.2 2018L404.4 2014.3L404.4 2010.5L403.2 2006.9L401.4 2004.4L398.4 2002.1L394.7 2000.8L391.4 2000.7L365.6 2003.7L363.4 2003.8L359.2 2002.6L355.9 1999.8L353.8 1996L352.5 1981.4L353.8 1977.2L355.1 1975.4L356.7 1973.9L360.6 1972L389.3 1970L393.6 1968.7L396.6 1966.4L398.4 1963.9L399.5 1961L399.7 1957.1L398.7 1953.5L396.6 1950.3L393.6 1948L390.7 1946.9L387.3 1946.6L361.4 1947.9L359.2 1947.8L355.1 1946.3L351.9 1943.3L350.1 1939.4Z"/>
<path fill="#ababab" fill-rule="evenodd" d="M953.5 1917.3L964.7 1919L968.5 1920.3L971.4 1922.8L973.2 1926.4L973.5 1928.3L973.4 1930.3L972.1 1934L969.5 1937L965.9 1938.7L957.2 1940.8L954.4 1942.1L950.9 1945.2L949 1949.5L948.6 1952.6L949.1 1955.7L950.1 1958L951.9 1960.5L953.6 1962L956.3 1963.5L958.7 1964.1L963.2 1964.4L966.7 1965.9L969.5 1968.5L971 1972L971.2 1975.8L969.9 1979.4L967.3 1982.2L962.3 1985.5L959.6 1989.3L958.6 1993.8L959.1 1997.6L960.4 2000.4L962.3 2002.9L964.9 2004.7L968.7 2006L972.5 2006L994 2001.3L997.8 2002L1001.1 2004.1L1002.4 2005.6L1008.3 2018.3L1008.6 2020.2L1008.1 2024.1L1007.3 2025.9L1004.7 2028.9L989.4 2040.3L987.2 2042.5L985.5 2045.1L984.8 2047.2L984.7 2051.9L986 2055.7L988.2 2058.7L991.6 2061L995.2 2061.9L998.4 2061.9L1000.8 2061.2L1014.7 2054.3L1018.5 2053.3L1022.4 2053.8L1024.2 2054.7L1027.1 2057.3L1028.8 2060.8L1029.1 2062.8L1028.6 2066.6L1026.5 2070L1016 2081.7L1014 2085.9L1013.7 2088.4L1014 2091.5L1015.2 2094.4L1017 2097L1019.4 2098.9L1022.3 2100.2L1026 2100.7L1029.1 2100.2L1032.7 2098.4L1050 2085.6L1053.8 2084.6L1057.6 2085.2L1061 2087.2L1064.1 2090.2L1065.1 2091.8L1066.1 2095.6L1065.6 2099.5L1064.8 2101.3L1054.7 2118.3L1053.4 2122.1L1053.3 2125.3L1054.3 2128.9L1055.9 2131.6L1059 2134.2L1061 2135.2L1064 2135.9L1067.1 2135.8L1069.5 2135.2L1073.5 2132.7L1082.2 2122.8L1085.3 2120.4L1089.1 2119.4L1093 2120L1094.8 2120.8L1096.4 2122L1098.7 2125.1L1099.7 2129L1099.1 2132.9L1094.5 2145.5L1094.2 2148.6L1094.7 2151.7L1096.5 2155.3L1099.1 2158L1102.8 2159.8L1106.5 2160.2L1111.1 2159.2L1114.9 2156.5L1116.4 2154.5L1126.3 2137.8L1128.9 2134.9L1130.6 2133.9L1134.4 2132.9L1136.4 2133L1139.3 2133.9L1142.7 2135.9L1144 2137.3L1145.7 2140.9L1146 2142.8L1142.9 2164.4L1143.3 2169.1L1145.1 2172.7L1147.2 2175L1150.5 2176.9L1153.6 2177.6L1156.7 2177.5L1159.7 2176.6L1162.4 2175L1164.5 2172.7L1166 2170L1172.5 2151.4L1173.3 2149.7L1175.9 2146.8L1179.4 2145.1L1181.3 2144.8L1190.9 2146.1L1192.7 2146.9L1195.6 2149.4L1197.4 2152.9L1199 2174.6L1200.4 2179L1202.7 2182L1205.2 2183.8L1208.1 2185L1211.2 2185.3L1214.3 2184.8L1217.2 2183.5L1219.6 2181.6L1221.4 2179L1222.7 2175.2L1225.5 2153.7L1227.4 2150.2L1230.5 2147.8L1234.3 2146.8L1236.9 2146.8L1238.8 2147.2L1242.3 2149.2L1243.6 2150.6L1245.4 2154.1L1250.5 2173L1252.3 2176.6L1254.9 2179.3L1257.7 2180.8L1261.6 2181.6L1264.7 2181.3L1267.7 2180.1L1270.2 2178.3L1272.2 2175.9L1273.4 2173L1273.9 2169.3L1272.4 2147.5L1272.8 2145.6L1274.8 2142.1L1277.9 2139.7L1280.7 2138.7L1284.7 2138.4L1288.4 2139.7L1290 2140.8L1292.4 2143.9L1301.2 2161.5L1303 2164L1306 2166.3L1308.9 2167.5L1312 2167.8L1315.1 2167.3L1318.8 2165.5L1321 2163.4L1322.7 2160.7L1323.6 2157.7L1323.4 2153L1317.6 2132.1L1317.6 2130.1L1318.8 2126.4L1320 2124.8L1323 2122.4L1327.4 2120.1L1331.1 2119L1335 2119.4L1336.8 2120.2L1339.8 2122.7L1352.5 2138.4L1354.9 2140.4L1357.8 2141.7L1361.5 2142.2L1365.5 2141.4L1368.8 2139.5L1370.9 2137.2L1372.1 2135.1L1373 2132.1L1373.1 2129L1372.7 2126.8L1362.6 2107.6L1361.5 2103.8L1361.9 2099.9L1363.8 2096.5L1370.1 2091.2L1371.9 2090.4L1375.8 2090L1379.6 2091.1L1396.7 2104.7L1400.4 2106.5L1403.5 2107L1406.6 2106.6L1409.5 2105.5L1412.5 2103.2L1414.7 2099.9L1415.6 2096.9L1415.7 2093.7L1415 2090.7L1413.1 2087.4L1399.3 2070.9L1398.1 2067.2L1398.4 2063.3L1400.3 2059.8L1407.2 2051L1408.8 2049.9L1412.4 2048.5L1416.4 2048.7L1418.2 2049.4L1435.9 2057.9L1439.6 2058.8L1443.6 2058.6L1446.5 2057.5L1449.5 2055.2L1451.3 2052.6L1452.3 2050.3L1452.8 2047.2L1452.5 2044.1L1451.3 2041.2L1448.3 2037.6L1432.9 2026.1L1430.9 2022.7L1430.4 2020.8L1430.6 2016.9L1431.3 2015L1432.3 2013.3L1435.2 2010.7L1438.9 2009.4L1442.8 2009.7L1459.2 2014L1461.7 2014.3L1466.3 2013.5L1468.3 2012.5L1470.7 2010.6L1472.6 2008L1473.7 2005.1L1474 2002L1473.2 1998L1472.2 1996.1L1470.3 1993.6L1468.3 1992.1L1463.5 1989.6L1460.8 1986.6L1459.6 1982.9L1459.8 1979L1461.6 1975.4L1464.6 1972.8L1468.3 1971.6L1473.8 1971.9L1476.3 1971.5L1480.5 1969.6L1482.8 1967.4L1484 1965.6L1485.2 1962.7L1485.5 1960.2L1485.2 1957.1L1484 1954.2L1482.2 1951.6L1479.8 1949.7L1476.9 1948.4L1458.2 1943.2L1456.3 1942.5L1453.3 1940L1451.4 1936.6L1450.9 1934.7L1451.5 1927.2L1453.2 1923.7L1454.6 1922.3L1458 1920.3L1479.4 1917.5L1483.3 1916.2L1485.8 1914.4L1487.8 1912L1489.2 1908.5L1489.6 1905.4L1489.1 1902.3L1487.8 1899.4L1485.8 1897L1483.3 1895.1L1478.8 1893.8L1457.2 1892.2L1453.7 1890.5L1452.2 1889.1L1450.3 1885.8L1449.5 1881.6L1449.7 1877.6L1450.4 1875.8L1452.8 1872.7L1456.2 1870.7L1474.9 1864.3L1476.9 1863.4L1479.3 1861.4L1480.8 1859.4L1482.1 1856.6L1482.5 1854.4L1482.3 1850.4L1480.3 1846.1L1477.7 1843.4L1474 1841.7L1469.4 1841.2L1447.9 1844.1L1445.9 1843.8L1442.4 1842.1L1439.8 1839.1L1434 1824L1433.4 1822.2L1433.4 1818.3L1434 1816.4L1436.2 1813.2L1454.3 1801L1457.5 1797.6L1458.8 1794.8L1459.2 1791.7L1458.9 1788.6L1457.5 1785.1L1455.5 1782.6L1453 1780.8L1450.1 1779.7L1446 1779.4L1443 1780.1L1424.9 1787.7L1421 1788.5L1419.1 1788.3L1415.4 1786.8L1412.7 1784L1411.1 1781.4L1410.4 1777.5L1411.1 1773.7L1412.1 1772L1427.3 1756.6L1429.6 1753.3L1430.4 1750.3L1430.5 1747.1L1429.8 1744.1L1428.3 1741.3L1425.6 1738.7L1422.9 1737.2L1418.9 1736.4L1415.8 1736.7L1412.3 1738.2L1395.9 1749.3L1394.2 1750.2L1390.4 1751L1386.5 1750.2L1384.8 1749.3L1377.8 1742.7L1375.5 1739.5L1374.6 1735.7L1375.3 1731.8L1386.5 1713.7L1388 1710.2L1388.3 1707.1L1387.8 1704L1386.5 1701.1L1383.9 1698.1L1380.6 1696.2L1377.6 1695.5L1374.5 1695.6L1371.5 1696.5L1368.1 1698.7L1353 1714.7L1349.4 1716.3L1347.5 1716.6L1343.6 1715.9L1338.3 1712.6L1337 1711.2L1335.3 1707.6L1335.2 1703.7L1335.7 1701.8L1342.4 1683.9L1343.2 1679.8L1342.9 1676.7L1341.5 1673.2L1339.5 1670.8L1336.2 1668.6L1333.2 1667.7L1330 1667.6L1327 1668.3L1324.2 1669.8L1321.1 1673.2L1309.9 1691.4L1308.4 1692.7L1304.9 1694.3L1301 1694.5L1298 1693.6L1294.6 1691.6L1293.3 1690.1L1291.7 1686.5L1291.5 1682.6L1294.6 1663.6L1294.7 1660.4L1294 1657.4L1292.5 1654.6L1290.4 1652.4L1287.7 1650.7L1284.7 1649.8L1281.6 1649.8L1278.5 1650.5L1275.8 1652L1273.5 1654.1L1272.3 1656L1268.3 1666.7L1266.2 1670.1L1264.8 1671.4L1261.2 1673L1257.3 1673.2L1255.3 1672.7L1252 1670.6L1249.7 1667.3L1248.9 1663.5L1248.6 1652.2L1247.7 1649.2L1246 1646.5L1243 1643.9L1240.2 1642.6L1237.1 1642.1L1233.3 1642.6L1229.2 1644.8L1227.4 1646.5L1225.8 1649.2L1224.9 1652.2L1222.4 1667.5L1221 1671.1L1219.8 1672.7L1216.6 1675L1212.7 1675.8L1210.8 1675.7L1207.1 1674.2L1204.3 1671.5L1203.3 1669.8L1199.3 1651.7L1197.1 1647.6L1195.4 1645.8L1192.7 1644.2L1190.6 1643.5L1187.5 1643.1L1184.4 1643.6L1181.5 1644.9L1179.1 1646.9L1176.9 1650.2L1175.8 1654.8L1176.1 1676.3L1174.7 1680L1173.5 1681.5L1172 1682.8L1168.4 1684.4L1166.4 1684.6L1162.6 1683.9L1160.8 1683L1158 1680.2L1149.2 1660L1148 1658.2L1145.7 1656L1142.1 1654.2L1138.3 1653.7L1134.4 1654.5L1131.1 1656.4L1128.1 1660L1127 1662.9L1126.7 1665.4L1127 1668.5L1131.1 1687.1L1131.3 1689L1130.6 1692.9L1128.5 1696.2L1127 1697.4L1117.6 1701.7L1115.6 1702L1111.7 1701.4L1108.4 1699.3L1095.4 1681.6L1092.4 1678.9L1088.9 1677.5L1085.8 1677.2L1081.8 1678L1079.1 1679.4L1076.4 1682.1L1074.9 1684.9L1074.2 1687.9L1074.3 1691L1075.2 1694L1083.5 1711.7L1084.1 1713.5L1084.3 1717.4L1083.8 1719.3L1081.8 1722.7L1075.4 1727.4L1071.6 1728.4L1067.7 1727.8L1065.9 1727L1049.6 1712.4L1046.3 1710.5L1043.3 1709.8L1040.2 1709.9L1037.2 1710.8L1034.5 1712.4L1032.3 1714.7L1030.6 1718.3L1030.1 1721.4L1030.6 1725.1L1032.3 1728.7L1044.2 1744.3L1045.9 1747.8L1046.2 1749.8L1046.1 1751.7L1044.8 1755.4L1042.4 1758.4L1039.3 1760.8L1035.5 1761.8L1031.6 1761.3L1012.8 1750.4L1009 1749.1L1005.8 1749L1002.8 1749.8L1000.1 1751.2L997.8 1753.4L996.1 1756.1L995.3 1759.1L995.3 1762.8L996.1 1765.8L998.9 1769.6L1015.1 1784.1L1016.1 1785.8L1017.1 1789.6L1016.6 1793.5L1013.4 1798.9L1012 1800.2L1008.5 1801.9L1006.5 1802.3L1002.7 1801.7L984 1795.3L980.9 1794.8L977.8 1795.2L974.3 1796.6L971.2 1799.3L969.6 1801.9L968.7 1804.9L968.7 1808.7L969.6 1811.7L971.2 1814.4L974.3 1817L993 1827.9L995.4 1831L996.5 1834.7L996.4 1836.7L995.6 1839.7L993.7 1843.1L992.2 1844.5L988.7 1846.2L984.8 1846.4L965.4 1843.9L962.3 1844L959.3 1844.9L957.1 1846.1L954.9 1848.2L953.2 1850.9L952.3 1853.9L952.3 1857.7L953.6 1861.5L955.9 1864.5L959.9 1867L980.6 1874L983.5 1876.5L984.6 1878.2L985.6 1882L985.5 1884.3L984.3 1888L983.1 1889.6L980 1891.9L976.3 1893L955 1894.5L951.5 1895.9L948.5 1898.6L946.9 1901.3L946 1904.3L946 1908L946.9 1911L948.5 1913.7L950.8 1915.8ZM1159.6 1739.2L1166.7 1736.9L1177.3 1734.2L1195.1 1731.1L1213.1 1729.8L1231.3 1730.2L1242.5 1731.4L1253.4 1733.2L1264.4 1735.7L1274 1738.5L1277.6 1740.1L1280.9 1742.4L1283.6 1745.2L1285.7 1748.6L1287.1 1752.3L1287.8 1756.2L1287.3 1762.1L1286.1 1765.8L1235 1854.4L1232.7 1857.6L1228.1 1861.5L1222.6 1863.8L1218.7 1864.4L1214.7 1864.2L1209 1862.4L1205.6 1860.3L1202.7 1857.6L1200.4 1854.4L1150.2 1767.6L1148.6 1764L1147.6 1758.1L1147.9 1754.2L1148.9 1750.4L1150.7 1746.9L1153.1 1743.7L1156.1 1741.2ZM1037.7 1878.6L1038.1 1874.6L1040.7 1864.3L1044 1853.8L1047.1 1845.3L1054.7 1828.7L1063.8 1813.1L1070.2 1803.9L1077.1 1795.2L1083.2 1788.3L1091.1 1780.3L1096 1775.9L1099.4 1773.9L1103.1 1772.6L1107 1772.1L1112.9 1772.7L1116.6 1774.1L1121.5 1777.4L1124.1 1780.4L1175.3 1868.9L1177.4 1874.4L1177.9 1878.4L1177.6 1882.4L1176.6 1886.2L1174.7 1889.8L1172.3 1892.9L1169.2 1895.4L1165.7 1897.3L1161.9 1898.5L1157.9 1898.9L1057.7 1898.9L1053.7 1898.5L1050 1897.3L1046.5 1895.5L1042.1 1891.4L1039.1 1886.3L1038 1882.5ZM1258.5 1872.5L1260.1 1868.9L1311.3 1780.4L1315.4 1776.2L1318.8 1774.1L1322.5 1772.7L1328.4 1772.1L1334.2 1773.2L1337.7 1774.8L1340.9 1777.2L1345.9 1781.8L1353.7 1789.9L1359.8 1797L1366.7 1805.9L1372.8 1815L1381.8 1830.9L1386.5 1840.9L1389.8 1849.3L1392.9 1858L1395.9 1868.9L1397.6 1876.6L1397.7 1880.6L1396.9 1884.5L1395.5 1888.1L1392 1892.9L1388.9 1895.5L1385.4 1897.3L1379.7 1898.8L1275.5 1898.8L1271.6 1898L1267.9 1896.5L1264.6 1894.2L1260.7 1889.8L1258.8 1886.2L1257.5 1880.4L1257.6 1876.4ZM1242.1 1911L1242.1 1915.8L1241.1 1920.5L1239.3 1924.9L1236.6 1928.9L1233.2 1932.3L1229.2 1935L1224.8 1936.8L1220.1 1937.8L1215.3 1937.8L1210.6 1936.8L1206.2 1935L1202.2 1932.3L1198.8 1928.9L1196.1 1924.9L1194.3 1920.5L1193.3 1915.8L1193.3 1911L1194.3 1906.3L1196.1 1901.9L1198.8 1897.9L1202.2 1894.5L1206.2 1891.8L1210.6 1890L1215.3 1889L1220.1 1889L1224.8 1890L1229.2 1891.8L1233.2 1894.5L1236.6 1897.9L1239.3 1901.9L1241.1 1906.3ZM1053.7 1928.3L1057.7 1927.9L1159.9 1928L1165.7 1929.5L1169.2 1931.4L1173.6 1935.4L1175.7 1938.8L1177.6 1944.4L1177.9 1948.4L1177.4 1952.4L1175.3 1957.9L1125.1 2044.7L1121.5 2049.4L1116.6 2052.7L1111 2054.5L1105.1 2054.5L1099.4 2052.9L1094.4 2049.6L1083 2038.3L1071.6 2024.7L1062.4 2011.6L1053.7 1996.1L1048 1983.8L1043.3 1971.1L1039.5 1957.9L1038.1 1952.2L1037.7 1948.2L1038 1944.3L1039.1 1940.5L1042.1 1935.4L1046.5 1931.3L1050 1929.5ZM1273.5 1928.3L1277.5 1927.9L1379.7 1928L1383.6 1928.8L1388.9 1931.3L1393.3 1935.4L1395.5 1938.7L1397.4 1944.3L1397.7 1948.2L1397.3 1952.2L1395.9 1957.9L1393.5 1966.8L1389.8 1977.5L1385.6 1988L1380.7 1998.1L1375.3 2007.7L1370.5 2015.4L1359.8 2029.8L1352.4 2038.3L1345.9 2045L1339.4 2050.9L1336 2052.9L1332.3 2054.2L1328.4 2054.7L1322.5 2054.1L1318.8 2052.7L1315.4 2050.6L1311.3 2046.4L1259.2 1956.1L1258 1952.4L1257.5 1946.4L1258.2 1942.5L1259.7 1938.8L1261.8 1935.4L1264.6 1932.6L1269.7 1929.5ZM1148.6 2062.8L1150.2 2059.2L1201.5 1970.7L1205.6 1966.5L1209 1964.4L1212.8 1963L1218.7 1962.4L1222.6 1963L1228.1 1965.3L1232.7 1969.2L1235 1972.4L1285.2 2059.2L1287.3 2064.7L1287.8 2070.6L1286.5 2076.4L1283.6 2081.6L1279.3 2085.6L1275.8 2087.6L1273.3 2088.5L1257.8 2092.7L1240.3 2095.7L1224.3 2097L1206.6 2096.8L1193.1 2095.4L1179.8 2093.1L1166.4 2089.8L1161.4 2088.3L1157.8 2086.7L1153.1 2083.1L1150.7 2079.9L1148.9 2076.4L1147.6 2070.6L1147.7 2066.7Z"/>
<defs>
<path id="tp_red" d="M1214.8 1523.7 A157.6 157.6 0 1 1 1214.8 1208.5 A157.6 157.6 0 1 1 1214.8 1523.7"/>
<path id="tp_pink" d="M1730.9 1898.8 A156 156 0 1 1 1730.9 1586.8 A156 156 0 1 1 1730.9 1898.8"/>
<path id="tp_blue" d="M1534 2501.5 A143 143 0 1 1 1534 2215.5 A143 143 0 1 1 1534 2501.5"/>
<path id="tp_green" d="M895.4 2503.2 A152.3 152.3 0 1 1 895.4 2198.6 A152.3 152.3 0 1 1 895.4 2503.2"/>
<path id="tp_orange" d="M700.9 1906.2 A158.2 158.2 0 1 1 700.9 1589.8 A158.2 158.2 0 1 1 700.9 1906.2"/>
</defs>
<path fill="#fff" d="M919.1 1354.7L928.3 1355.1L931.5 1357L933.2 1360.3L932.8 1371.6L931.5 1373.7L929.4 1375.2L916.4 1376.4L912.3 1378L908.9 1380.5L906 1384.1L904.2 1388.2L903.5 1392.6L904.2 1397.6L905.6 1401.1L908.1 1404.5L910.6 1406.7L914.3 1408.7L920.8 1409.9L931.2 1408.5L934.8 1409.8L937.1 1412.7L939.2 1424.1L938.7 1426.5L936.4 1429.4L924.2 1433L921 1434.9L917.9 1437.8L916.1 1440.5L914.5 1444.7L914.1 1448.9L914.5 1452.6L916.2 1456.7L918.8 1460.3L922.3 1463.1L926.1 1464.8L929.4 1465.4L933.6 1465.3L945.8 1461.8L949.3 1463L951 1464.8L955.5 1476L955.2 1479.7L952.9 1482.7L943.8 1486.8L938.9 1491L935.7 1497.6L935.5 1504.4L936.7 1508.4L938.9 1512.2L942.1 1515.3L946.2 1517.5L951.7 1518.6L956.3 1518.1L959.9 1516.8L968 1512.1L970.5 1511.7L972.9 1512.3L975 1513.8L979.8 1521L980.9 1524.7L979.8 1528.3L969.6 1536.4L967.1 1539.8L965.5 1543.9L965 1547.7L965.5 1552.1L967.1 1556.2L969.5 1559.6L973.9 1563L979.2 1564.8L984.5 1564.8L991.5 1562.8L994 1563.2L996.2 1564.4L997.7 1566.4L998.3 1568.9L998 1571.4L995.3 1578.6L995.8 1585.9L997.3 1589.4L999.7 1592.8L1002.3 1595L1005.9 1597L1011.8 1598.1L1018.1 1597L1023.7 1593.6L1031.6 1585.1L1035.3 1584.3L1038.8 1585.8L1041 1588.9L1041.1 1592.7L1034.3 1602.6L1032.3 1608.9L1032.6 1614.9L1035.3 1620.7L1040.4 1625.3L1044.2 1627L1047.5 1627.7L1051 1627.7L1055.1 1626.7L1063.6 1622.1L1066 1622.2L1068.3 1623.2L1070 1625L1070.9 1627.3L1070.7 1634.7L1072.1 1639.8L1075.3 1644.6L1080.6 1648.3L1085 1649.6L1089.2 1649.7L1093.6 1648.7L1097.4 1646.9L1101.3 1646.9L1104.5 1649.1L1107.5 1655.4L1110.4 1659L1115 1662.1L1119.5 1663.4L1126.7 1663L1130.8 1661.2L1136.3 1657.1L1138.7 1656.6L1141.1 1657L1144 1659.2L1147 1665.7L1150.9 1670L1155.5 1672.6L1161.8 1673.7L1165.5 1673.2L1169.5 1671.7L1172.2 1669.9L1175.1 1666.8L1177.9 1660.8L1179.4 1650.6L1181.5 1647.5L1185 1646.2L1190.6 1646.7L1193.8 1648.7L1195 1650.9L1194.8 1663.5L1195.8 1667.6L1197.3 1670.6L1199.9 1673.8L1203.5 1676.5L1207.6 1678.1L1211.4 1678.6L1215.8 1678.1L1219.7 1676.6L1222.5 1674.7L1225.4 1671.7L1227.5 1667.8L1228.5 1664.1L1228.7 1651.3L1230.8 1648.2L1234.5 1646.9L1240 1647L1243.1 1649.1L1244.5 1652.7L1245.6 1661.9L1247.6 1666.8L1252.2 1671.6L1255.8 1673.6L1259.3 1674.6L1263.9 1674.7L1268.2 1673.6L1272.6 1671.1L1275.8 1667.7L1278.3 1662.7L1279 1658.4L1276.9 1646L1277.3 1643.5L1279.6 1640.6L1283.8 1639L1287.7 1639.1L1290.7 1641.3L1295.1 1653.8L1297.6 1657.4L1300.1 1659.6L1303.8 1661.6L1308.1 1662.7L1312.6 1662.6L1317 1661.3L1322.4 1657.4L1324.9 1654L1326.3 1650.8L1326.9 1647.5L1326.8 1643.1L1322.7 1631.7L1322.7 1629.2L1324.4 1625.9L1329.3 1623.4L1331.8 1623.4L1335.1 1625L1341.2 1636.4L1346.7 1641.1L1350.2 1642.6L1354.3 1643.3L1357.7 1643L1361.7 1641.8L1365.5 1639.6L1368.6 1636.4L1370.7 1632.5L1371.7 1628.8L1371.8 1624.4L1370.8 1620.3L1364.7 1609.1L1365.2 1605.3L1367.8 1602.4L1372.6 1599.4L1375 1598.9L1377.5 1599.3L1379.6 1600.7L1385.2 1608.4L1387.8 1611L1392.2 1613.5L1396.5 1614.6L1400.9 1614.5L1405.1 1613.2L1408.9 1611L1412.2 1607.6L1414.2 1603.9L1415.1 1600.4L1414.8 1593.6L1412.2 1587.8L1405.6 1580.1L1404.7 1576.5L1405.9 1573L1411.8 1567.4L1415.4 1566.4L1417.8 1566.9L1426.8 1574.9L1430.6 1576.9L1434.3 1577.9L1438.7 1578L1442.8 1577L1445.8 1575.6L1449 1572.9L1451.7 1569.3L1453.3 1565.2L1453.8 1561.5L1453.3 1557.1L1451.8 1553.1L1449.9 1550.4L1440 1541.6L1439.2 1539.2L1439.8 1535.5L1443.5 1530.5L1445.6 1529.2L1448.1 1528.8L1450.5 1529.4L1461 1536L1465.1 1536.9L1469.8 1536.8L1473.8 1535.6L1477.1 1533.7L1480.2 1530.8L1482 1528.1L1483.5 1524.1L1484 1520.4L1483.6 1516.2L1482.5 1513.1L1480.3 1509.5L1477.6 1506.8L1466.8 1500.2L1465.4 1496.8L1465.6 1494.3L1474.3 1475.2L1476.7 1472.2L1479 1471.2L1481.5 1471.2L1491.4 1474.9L1498.3 1475.1L1502.3 1474L1505.6 1472.1L1508.8 1469L1511 1465.4L1512.3 1460.9L1512.4 1456.5L1511.3 1452.2L1509.3 1448.5L1507.1 1446L1503.5 1443.4L1490.8 1439.1L1488.6 1436.1L1488.4 1432.2L1489.9 1426.7L1491.3 1424.6L1493.4 1423.3L1495.9 1422.8L1506.8 1424.7L1511.4 1424.2L1517.9 1421L1522.2 1415.9L1523.7 1412.4L1524.3 1408.3L1524.1 1405L1522.8 1400.7L1520.6 1397.1L1517.9 1394.5L1509 1389.5L1507.7 1387.3L1507.4 1384.8L1508.1 1382.3L1509.6 1380.3L1518.3 1376.9L1522.7 1373.6L1526.1 1368.2L1527.2 1362.3L1526.8 1357.9L1525.2 1354L1522.7 1350.4L1520.2 1348.2L1516.5 1346.2L1512.8 1345.2L1499.5 1345.3L1496.5 1343.2L1495 1339.5L1492.9 1322.6L1493.4 1318.7L1494.9 1316.7L1497 1315.4L1506.2 1313.6L1510.1 1312.1L1515.4 1307.7L1517.9 1303.3L1519 1298.8L1518.9 1294.4L1517.1 1289.1L1512.7 1283.8L1509.1 1281.7L1506 1280.6L1499.6 1280.3L1489.3 1283.2L1485.6 1282.5L1482.9 1279.9L1479.5 1269.9L1479.6 1267.4L1481.5 1264.2L1493.1 1258.9L1495.9 1256.7L1498.5 1253.5L1500 1250.5L1501 1246.2L1500.9 1242L1499.7 1237.7L1497.8 1234.4L1494.9 1231.4L1492.1 1229.5L1488 1228L1483.8 1227.5L1479.4 1228.2L1467.6 1233.5L1464 1232.8L1461.2 1230L1455.5 1219.9L1455.3 1216.2L1457.2 1212.9L1465.2 1207.8L1468.3 1204.7L1470.9 1200.3L1472 1195.7L1471.9 1191.5L1470.6 1187.3L1468.7 1184L1465.7 1180.8L1459.2 1177.6L1452.3 1177.3L1446.3 1179.5L1437.9 1186L1434.3 1186.8L1430.8 1185.4L1424.2 1177.7L1423.3 1174.1L1423.9 1171.7L1432.6 1162.5L1434.5 1159.3L1435.7 1155.2L1435.9 1150.8L1435.2 1147.5L1433.5 1143.7L1430.7 1140.2L1427.7 1137.9L1423.9 1136.2L1420.6 1135.6L1416.2 1135.7L1412.2 1136.9L1408.9 1138.8L1399.5 1148.4L1395.9 1149.1L1392.3 1147.6L1389.8 1144.2L1389.7 1140.4L1396.6 1130.5L1398.6 1124.2L1398.3 1118.4L1396.2 1113.3L1391.6 1108.5L1387.9 1106.5L1384.5 1105.5L1377.7 1105.8L1370.4 1108.8L1367.8 1108.8L1365.4 1107.7L1363.1 1104.6L1362.2 1097.1L1360.1 1092.2L1355.8 1087.5L1350.7 1084.9L1343.8 1084.3L1337.5 1086.3L1334.1 1088.8L1331.9 1091.3L1326.8 1102.2L1325 1103.9L1321.5 1105L1316.3 1103.4L1314.5 1101.7L1313.3 1098.1L1317 1085.8L1316.5 1078.5L1315.1 1075L1312.6 1071.6L1310.1 1069.4L1306.2 1067.3L1302.1 1066.3L1297.7 1066.4L1294 1067.4L1290.1 1069.5L1286.9 1072.6L1284.7 1076.2L1281.1 1088.4L1278.1 1090.7L1274.2 1090.9L1269.9 1088.9L1268.2 1085.6L1269.8 1071.4L1268.7 1066.9L1266.5 1063L1262.9 1059.4L1258.8 1057.2L1254.5 1056.2L1249 1056.5L1242.8 1059.4L1238.3 1064.3L1236.1 1070.5L1235.2 1080.1L1233.3 1083.3L1229.9 1084.9L1220.3 1084.5L1218 1083.5L1215.7 1080.6L1215.1 1068.4L1214.1 1064.9L1212.1 1061.2L1209.9 1058.7L1206.3 1056.1L1202.4 1054.6L1198.6 1054.1L1194.2 1054.6L1190.1 1056.2L1186.5 1058.8L1183.9 1062.1L1182.4 1065.1L1181.4 1069.4L1182.1 1082.5L1181 1084.7L1178 1086.9L1165 1089L1161.1 1088.6L1159.1 1087.2L1157.7 1085.1L1155.1 1074.2L1153.1 1070.5L1150.9 1068L1147.5 1065.5L1143.4 1063.9L1139 1063.4L1134.6 1064.1L1131.1 1065.5L1127.5 1068.2L1124.8 1071.6L1123.1 1075.5L1122.4 1078.7L1122.5 1082.9L1125.7 1094.9L1125.1 1097.3L1122.5 1100L1116.9 1101.6L1113.3 1100.4L1111.6 1098.6L1106.5 1087.1L1104.3 1084.6L1100.9 1082.1L1094.6 1080.1L1087.8 1080.7L1084 1082.5L1080.5 1085.2L1077.9 1088.8L1076.2 1092.9L1075.7 1096.7L1076.2 1101.1L1081.7 1113.5L1081 1117.2L1078.3 1119.9L1072.4 1123.1L1069.9 1123.5L1067.5 1122.8L1064.6 1120.2L1059.8 1112.5L1055.5 1108.7L1049.1 1106.4L1042.5 1106.7L1038.4 1108.3L1035 1110.8L1032.8 1113.3L1030.7 1117.2L1029.7 1121.3L1029.7 1125L1030.7 1129.1L1032.4 1132.9L1032.7 1135.5L1032 1138L1030.4 1140L1028.1 1141.2L1024.3 1141.1L1016.8 1136.7L1010.3 1135.5L1003.8 1136.9L998.3 1140.9L996.1 1143.7L994.4 1147.5L993.7 1150.8L993.9 1155.2L995.1 1159.3L997 1162.5L1005.7 1171.7L1006.3 1174.1L1005.4 1177.7L995.1 1189.9L991.6 1191.4L988 1190.7L979.7 1184.5L973.7 1182.4L966.9 1182.7L963 1184.2L960.2 1186L957.3 1189.1L955.2 1193L954.1 1197.3L954.1 1201L955.4 1206L957.9 1209.9L961.6 1213.3L969.3 1218L971.2 1221.2L971.1 1225L965.8 1234.8L963.1 1237.6L959.5 1238.3L947.3 1233.2L943.5 1232.7L939.3 1233.2L935.2 1234.7L932.4 1236.6L929.5 1239.6L927.3 1243.7L926.3 1247.8L926.3 1251.6L927.4 1255.9L929.4 1259.6L934.4 1264.2L946.2 1269.3L948.2 1272.5L948.3 1275L946.4 1280.8L943.7 1283.4L940.1 1284.1L928.9 1281.2L922.5 1281.8L919 1283.3L915.6 1285.7L913.4 1288.2L911.3 1292.1L910.3 1297.6L910.9 1302.8L913.4 1308L917.8 1313.2L918.4 1317L916.6 1320.5L910.1 1324.5L906.2 1328.8L904.1 1333.9L903.8 1339.7L905.7 1345.8L908.9 1350L913.7 1353.2Z"/>
<path fill="#ff5c5c" d="M922.2 1406.3L931.4 1405L933.3 1405.3L936.8 1406.9L939.5 1409.7L940.3 1411.5L942.7 1424L942 1427.8L939.9 1431.1L938.4 1432.3L934.9 1433.9L925.6 1436.2L922.6 1438L920.1 1440.6L918.5 1443.7L917.6 1447.1L917.7 1450.6L919.2 1455L920.5 1457L923.1 1459.4L926.2 1461.1L929 1461.9L931.4 1462L934.2 1461.6L944 1458.4L947.9 1458.5L949.7 1459.2L951.4 1460.2L954 1463L958.9 1475.3L959.2 1477.2L958.4 1481.1L956.3 1484.3L953.2 1486.5L944.3 1490.7L941.7 1493.2L940.4 1495.2L939.3 1497.8L938.7 1501.3L939.1 1504.8L940.4 1508.1L941.7 1510.1L944.3 1512.5L947.4 1514.2L950.8 1515L953.6 1515L957.1 1514.2L965.1 1509.6L968.7 1508.3L972.6 1508.5L974.4 1509.1L977.5 1511.4L978.7 1512.9L983.7 1520.9L984.2 1522.8L984.2 1526.7L983.7 1528.5L981.6 1531.7L973.5 1537.5L970.4 1541L969.4 1543.2L968.5 1546.6L968.5 1549.5L969 1551.8L970.4 1555.1L972.2 1557.3L974.9 1559.5L977.1 1560.6L980.5 1561.4L983.4 1561.4L989.3 1559.6L993.2 1559.4L996.9 1560.6L999.8 1563.2L1001.5 1566.7L1001.8 1570.6L1001.3 1572.5L999 1578L998.7 1580.8L998.8 1583.2L999.6 1586L1000.6 1588.2L1002.4 1590.5L1004.2 1592L1007.3 1593.7L1010.7 1594.6L1013.6 1594.6L1017 1593.7L1019.2 1592.7L1021.4 1590.9L1028.3 1583L1029.9 1582L1033.7 1580.8L1037.5 1581.2L1039.3 1581.9L1042.5 1584.5L1044.3 1587.9L1044.7 1589.8L1044.5 1593.6L1042.7 1597.1L1037.3 1604.3L1036.2 1607L1035.7 1610.5L1036 1614L1036.8 1616.3L1038.2 1618.7L1040.7 1621.3L1042.7 1622.6L1045.3 1623.7L1047.7 1624.2L1050.6 1624.2L1054.6 1623.1L1061.2 1619.1L1065 1618.5L1068.7 1619.4L1071.8 1621.6L1073.8 1624.8L1074.5 1628.6L1074.1 1632.5L1074.3 1634.9L1075.7 1639.3L1078.3 1642.6L1081.1 1644.7L1084.4 1645.9L1087.9 1646.3L1091.4 1645.7L1096.3 1643.6L1098.3 1643.2L1102.3 1643.5L1104.2 1644.3L1107.3 1646.9L1108.4 1648.6L1110.2 1653.1L1112.7 1656.4L1115.6 1658.5L1119.9 1660L1123.5 1660.1L1126.9 1659.2L1130 1657.5L1133.2 1654.8L1136.7 1653.3L1138.6 1653L1142.3 1653.7L1145.6 1655.6L1146.8 1657L1149.6 1663.2L1152.2 1666.5L1156 1669.1L1160 1670.2L1162.9 1670.2L1166.3 1669.3L1169.4 1667.6L1171.2 1666L1173.3 1663.2L1174.4 1660.5L1175.7 1651.4L1176.8 1647.8L1179.3 1644.8L1181 1643.7L1182.8 1643L1186.6 1642.7L1191.6 1643.3L1193.4 1644.1L1196.4 1646.5L1197.5 1648.1L1198.7 1651.7L1198.4 1663.7L1199.9 1668L1201.9 1670.9L1204.7 1673.1L1207.9 1674.5L1211.4 1675.1L1215.5 1674.5L1218.2 1673.4L1221 1671.3L1222.6 1669.5L1224 1667L1224.8 1664.8L1225.2 1661.7L1224.9 1652L1225.3 1650.1L1227.3 1646.8L1230.4 1644.4L1232.2 1643.7L1237.2 1643.2L1241 1643.6L1244.4 1645.5L1246.9 1648.5L1248 1652.2L1248.9 1661L1250.2 1664.3L1251.6 1666.3L1254.1 1668.7L1257.2 1670.4L1260.6 1671.2L1264.1 1671.1L1266.9 1670.4L1270 1668.7L1272.5 1666.3L1274.4 1663.3L1275.1 1661L1275.5 1657.5L1273.6 1648L1273.5 1644.2L1274.9 1640.5L1276.1 1639L1279.2 1636.7L1281 1636.1L1285 1635.3L1286.9 1635.4L1288.8 1635.8L1292.2 1637.8L1294.5 1640.8L1297.3 1650.4L1299.5 1654.3L1302.1 1656.7L1304.6 1658.2L1306.9 1658.9L1309.7 1659.3L1313.8 1658.8L1317.1 1657.3L1320.5 1654.3L1322.4 1651.3L1323.4 1647.9L1323.4 1643.8L1319.3 1632.4L1319.3 1628.6L1319.8 1626.7L1321.9 1623.5L1323.4 1622.2L1326.7 1620.6L1328.5 1620L1332.4 1619.9L1334.2 1620.4L1337.5 1622.5L1339.8 1625.6L1344 1634.2L1346.4 1636.8L1349.4 1638.6L1352.8 1639.6L1356.3 1639.7L1359.7 1638.9L1362.8 1637.2L1364.7 1635.6L1366.7 1632.7L1368 1629.5L1368.4 1626L1368 1623.1L1367.2 1620.8L1361.8 1611.5L1361.1 1607.7L1361.4 1605.8L1362.9 1602.2L1364.2 1600.8L1371.2 1596.1L1375 1595.4L1378.8 1596.1L1380.5 1597L1383.3 1599.7L1388.6 1607L1391.3 1609.2L1393.5 1610.3L1396.9 1611.1L1399.8 1611.1L1403.2 1610.3L1406.3 1608.6L1408.1 1607L1410.2 1604.1L1411.5 1600.9L1411.8 1597.4L1411.3 1593.9L1409.9 1590.7L1403.7 1583.5L1401.7 1580.2L1401.3 1578.3L1401.4 1574.5L1402 1572.6L1404.3 1569.5L1408.4 1565.6L1411.6 1563.5L1413.5 1563L1417.3 1563L1420.9 1564.5L1429.8 1572.6L1433 1574.1L1437.1 1574.6L1440.6 1574.1L1444.7 1572L1447.3 1569.6L1449.1 1566.6L1449.9 1564.3L1450.3 1560.8L1449.9 1558L1448.6 1554.7L1445.7 1551L1438.1 1544.9L1436.2 1541.5L1435.7 1539.6L1436 1535.8L1436.6 1534L1439.8 1529.4L1441.1 1527.9L1444.4 1525.9L1446.2 1525.4L1450.1 1525.5L1453.6 1527.1L1461.6 1532.4L1463.9 1533.2L1467.4 1533.5L1470.2 1533.2L1473.5 1531.9L1476.3 1529.8L1477.9 1528L1479.6 1524.9L1480.4 1521.5L1480.4 1518.6L1479.6 1515.2L1477.9 1512.1L1475.5 1509.6L1467.2 1504.9L1464.1 1502.5L1463 1500.9L1461.9 1497.2L1461.8 1495.2L1462.9 1491.5L1471.1 1473.7L1473.3 1470.5L1474.8 1469.3L1476.5 1468.4L1480.3 1467.6L1484.1 1468.3L1491.1 1471.1L1493.4 1471.7L1497 1471.8L1499.3 1471.3L1503.5 1469.3L1506 1466.9L1508.1 1463.3L1508.9 1459.8L1508.9 1457L1508.1 1453.5L1506.4 1450.4L1504.8 1448.6L1502.5 1446.9L1500.4 1445.8L1490.4 1442.9L1487.3 1440.6L1486.1 1439.1L1485.3 1437.3L1484.7 1433.5L1486.7 1425.2L1487.6 1423.5L1490.4 1420.9L1494 1419.5L1497.8 1419.5L1507 1421.2L1510.5 1420.8L1512.8 1420.1L1515.8 1418.2L1518.2 1415.7L1519.9 1412.6L1520.7 1409.8L1520.8 1407.4L1520.5 1404.6L1518.9 1400.7L1517.1 1398.4L1515.3 1396.8L1512.8 1395.4L1509.5 1394.1L1506.4 1391.8L1504.4 1388.4L1503.9 1384.5L1504.9 1380.8L1507.3 1377.7L1510.6 1375.7L1514.1 1374.9L1516.7 1373.8L1519.6 1371.7L1521.2 1369.9L1522.8 1366.8L1523.7 1363.4L1523.7 1360.5L1522.8 1357.1L1521.8 1355L1520 1352.7L1518.2 1351.1L1515.1 1349.4L1510.6 1348.5L1500.4 1349L1496.7 1347.9L1493.7 1345.4L1491.9 1341.9L1491.6 1340L1489.3 1321L1489.6 1319.1L1491.2 1315.6L1494 1313L1497.6 1311.6L1507 1309.7L1509.2 1308.6L1511.4 1306.9L1513 1305.1L1514.7 1302L1515.5 1298.6L1515.5 1295L1514.7 1292.3L1513 1289.2L1510.6 1286.6L1507.6 1284.8L1504.2 1283.8L1500.7 1283.7L1491.5 1286.3L1487.7 1286.7L1485.8 1286.3L1482.3 1284.5L1480.9 1283.2L1479.1 1279.8L1476 1270.5L1476.2 1266.6L1476.8 1264.7L1479.1 1261.6L1480.6 1260.4L1491.1 1256L1493.4 1254.3L1495.6 1251.5L1497.2 1247.7L1497.5 1243.1L1496.7 1239.6L1494.6 1236L1492.1 1233.6L1489.6 1232.2L1487.3 1231.4L1483.8 1231L1480.9 1231.4L1478.6 1232.2L1469.9 1236.6L1468 1237L1464.2 1236.6L1460.7 1234.8L1459.4 1233.5L1452.2 1221.1L1451.6 1217.3L1452.5 1213.5L1453.5 1211.8L1456.3 1209.2L1464.4 1203.8L1466 1202L1467.6 1198.9L1468.5 1195.5L1468.4 1192L1467.4 1188.6L1465.6 1185.6L1463 1183.2L1459.9 1181.5L1456.5 1180.7L1453 1180.8L1450.2 1181.5L1448 1182.6L1439.6 1189.1L1437.8 1189.9L1433.9 1190.3L1432 1189.9L1428.6 1188.1L1421.2 1179.5L1420.3 1177.8L1419.8 1174L1420.7 1170.2L1423 1167.1L1429.5 1160.9L1431.3 1157.9L1432.1 1155.6L1432.4 1152.8L1432.1 1149.3L1430.8 1146L1429.5 1144L1426.9 1141.6L1423.8 1139.9L1420.4 1139.1L1417.5 1139.1L1414.1 1139.9L1411 1141.6L1409.1 1143.3L1402.8 1150.5L1399.4 1152.3L1395.5 1152.6L1393.6 1152.2L1390.2 1150.4L1388.3 1148.6L1386.4 1145.2L1386 1143.3L1386.3 1139.5L1388.1 1136.1L1393.6 1128.8L1394.7 1126.1L1395.2 1122.6L1394.9 1119.1L1393.6 1115.8L1391.5 1113L1388.8 1110.8L1385.6 1109.3L1381.4 1108.8L1377.9 1109.3L1371 1112.3L1367 1112.2L1365.1 1111.6L1361.8 1109.2L1359.7 1105.8L1358.7 1097.4L1357.6 1094.7L1356.2 1092.7L1353.7 1090.3L1351.2 1088.9L1348.9 1088.1L1346.1 1087.7L1343.6 1087.9L1340.9 1088.6L1337.8 1090.3L1336 1091.9L1333.6 1095.2L1329.7 1104.1L1327 1106.8L1325.3 1107.8L1321.5 1108.6L1319.6 1108.4L1316.1 1107.2L1312.9 1105.1L1311.6 1103.7L1310 1100.2L1309.8 1098.2L1310.4 1094.4L1313.5 1085.3L1313.6 1081.8L1312.8 1078.4L1311.1 1075.3L1308.7 1072.7L1305.7 1070.9L1302.3 1069.9L1298.8 1069.8L1295.4 1070.6L1292.3 1072.3L1290.4 1073.9L1288.7 1076.2L1287.6 1078.4L1284.9 1088.7L1282.6 1091.9L1281.1 1093.1L1277.5 1094.5L1275.6 1094.6L1270.6 1093.5L1268.9 1092.6L1266.2 1089.9L1264.8 1086.3L1264.8 1082.5L1266.3 1073.4L1266 1069.9L1265.2 1067.6L1263.4 1064.6L1260.8 1062.2L1257.7 1060.5L1254.9 1059.7L1251.4 1059.7L1248 1060.5L1244.9 1062.2L1243.1 1063.8L1241 1066.6L1239.9 1069.3L1239 1079.1L1238 1082.8L1237 1084.5L1234.1 1087.1L1232.3 1087.9L1228.5 1088.4L1219.6 1088L1216 1086.4L1213.3 1083.6L1211.9 1080L1211.8 1070.1L1211.2 1067.3L1209.2 1063.1L1206.8 1060.6L1203.8 1058.7L1200.4 1057.7L1196.9 1057.7L1193.4 1058.5L1191.3 1059.6L1189 1061.3L1187.4 1063.1L1185.7 1066.2L1185 1069L1184.8 1071.4L1185.8 1081.5L1184.8 1085.2L1183.8 1086.8L1180.9 1089.4L1179.1 1090.2L1163.5 1092.7L1159.7 1091.9L1156.6 1089.7L1155.3 1088.2L1153.9 1084.6L1151.9 1075.5L1150.2 1072.5L1148.6 1070.6L1145.8 1068.6L1143.1 1067.5L1140.8 1067L1137.2 1067.1L1133.9 1068.1L1130.9 1069.9L1128.4 1072.5L1126.7 1075.5L1125.9 1079L1125.9 1081.8L1128.7 1091.3L1129.2 1095.1L1128.2 1098.8L1125.9 1101.9L1124.3 1103L1118.7 1105L1114.8 1104.9L1113 1104.3L1109.8 1102L1108.6 1100.5L1104.5 1090.5L1101.2 1086.5L1098.2 1084.7L1094.8 1083.7L1091.3 1083.6L1088.9 1084.1L1085.7 1085.5L1083 1087.7L1080.9 1090.5L1079.6 1093.8L1079.2 1097.3L1079.8 1100.8L1084.1 1109.5L1085.2 1113.1L1085.2 1115.1L1084.1 1118.8L1083.1 1120.4L1080.2 1122.9L1073.5 1126.5L1071.6 1126.9L1067.8 1126.7L1064.3 1125L1062.9 1123.7L1057.5 1115.3L1054.5 1112.3L1051.4 1110.6L1048.7 1109.8L1046.3 1109.7L1043.4 1110.1L1040.1 1111.3L1037.3 1113.4L1035.1 1116.1L1033.6 1119.4L1033.2 1121.7L1033.3 1125.2L1034 1128L1035.8 1131.8L1036.2 1135.8L1035.1 1139.6L1032.6 1142.7L1029.1 1144.6L1025.1 1144.9L1021.3 1143.6L1017.7 1141L1015.5 1139.9L1012.7 1139.1L1010.3 1139L1005.8 1139.9L1003.6 1141L1001.3 1142.7L999.1 1145.4L997.7 1148.7L997.2 1152.1L997.5 1155.6L998.8 1158.9L1000.1 1160.9L1007.9 1168.5L1009.6 1172L1009.7 1175.9L1009.3 1177.8L1007.3 1181.1L997.3 1192.6L995.7 1193.7L992 1194.9L988.2 1194.6L984.8 1192.8L977.5 1187.3L974.8 1186.2L971.3 1185.7L967.8 1186L964.5 1187.3L961.7 1189.4L959.5 1192.1L958.4 1194.3L957.6 1197.7L957.7 1201.2L958.7 1204.6L960.1 1207.1L962.5 1209.6L970.1 1214.3L972.9 1216.9L974.6 1220.3L974.9 1222.3L974.4 1226.1L967.8 1238.2L964.8 1240.6L963 1241.4L959.2 1241.9L957.3 1241.5L948.4 1237.3L943.5 1236.2L940 1236.6L937.7 1237.4L934.7 1239.2L932.7 1241.2L930.6 1244.8L929.8 1248.3L929.9 1251.8L930.9 1255.1L932.7 1258.2L935.2 1260.6L937.9 1262.1L947 1265.5L949.9 1268.1L951.6 1271.6L951.9 1273.5L951.8 1275.4L950.2 1280.8L948.4 1284.1L947 1285.5L943.5 1287.3L941.6 1287.6L937.8 1287.3L928.7 1284.7L925.1 1284.8L921.8 1285.8L918.8 1287.6L916.3 1290.2L914.6 1293.3L913.9 1296L913.8 1299.6L914.6 1303L916.3 1306.1L919.9 1309.9L921 1311.7L922 1315.6L921.8 1317.6L921.3 1319.5L919.1 1322.9L917.6 1324.2L912.2 1327.3L910.2 1329.3L908.8 1331.3L907.7 1334L907.2 1337.5L907.3 1339.9L908.1 1342.6L909.2 1344.8L910.9 1347.1L912.7 1348.7L915.2 1350.1L919.4 1351.2L929.1 1351.7L932.6 1353.3L935.3 1356.1L936.7 1359.7L936.8 1361.6L936.6 1371.1L935.2 1374.7L934 1376.2L932.5 1377.4L929 1379L919 1379.5L915.1 1380.6L912.6 1382L910.8 1383.6L909 1385.9L907.6 1389.1L907.1 1391.4L907.2 1395L908.2 1398.3L910 1401.3L912.6 1403.8L915.7 1405.5L919.1 1406.3Z"/>
<circle cx="1214.8" cy="1366.1" r="256" fill="#ffa09e"/>
<circle cx="1214.8" cy="1366.1" r="24.9" fill="#ff5c5c"/>
<circle cx="1214.8" cy="1366.1" r="7.5" fill="#fff"/>
<g transform="translate(1183.2 1418.1) scale(1)" fill="none" stroke="#ca6c6a" stroke-width="18" stroke-linejoin="miter" stroke-miterlimit="10"><path d="M0 9H52.7M43.35 0V165.8"/></g>
<text font-family="Liberation Sans, sans-serif" font-size="58" fill="#7a0000" stroke="#7a0000" stroke-width="1.1" letter-spacing="2.49" text-anchor="middle"><textPath href="#tp_red" startOffset="50.096%">Stating the Question</textPath></text>
<path fill="#fff" d="M1435.8 1767L1445.2 1766.3L1448.6 1767.8L1450.7 1770.9L1451.4 1780.2L1450.3 1782.4L1448.4 1784.1L1435.3 1786.9L1431.5 1789.1L1428.4 1792L1426 1795.9L1424.7 1800.2L1424.7 1805.3L1426 1809.5L1427.9 1812.8L1430.8 1815.8L1433.5 1817.7L1437.5 1819.2L1443.4 1819.6L1454 1817.1L1457.6 1817.9L1460.2 1820.5L1462.4 1827.9L1462.2 1830.4L1460.2 1833.5L1448 1838.5L1444.9 1840.8L1442.3 1844.1L1440.8 1847L1439.8 1851.4L1439.9 1855.6L1441.3 1860L1443.5 1863.6L1446.6 1866.7L1449.9 1868.6L1454 1869.8L1457.3 1870L1461.4 1869.3L1472.7 1864.7L1475.2 1865.1L1478.3 1867.3L1481.9 1874.5L1481.9 1878.2L1479.9 1881.3L1470.9 1886.5L1467 1890.4L1465 1894.1L1464.1 1897.5L1464.4 1904.3L1466 1908.5L1468.6 1912L1472.6 1915.1L1476.8 1916.7L1481.4 1917.2L1486.8 1916.2L1497.5 1909.3L1499.9 1908.7L1502.4 1909.1L1504.6 1910.4L1508.5 1915.3L1509.9 1918.9L1509.1 1922.6L1499.4 1931.5L1497.1 1935.3L1495.9 1939.3L1495.8 1943.9L1496.8 1948L1498.9 1951.9L1501.1 1954.4L1504.5 1956.9L1508.6 1958.5L1512.4 1959L1516.5 1958.6L1521.7 1956.5L1530.7 1948L1534.2 1946.9L1537.8 1947.9L1543.8 1953.3L1545.1 1956.8L1544.8 1959.3L1537.3 1969.1L1535.6 1972.9L1534.9 1976.2L1535 1979.8L1535.9 1983.8L1538 1987.8L1540.2 1990.3L1543.6 1992.7L1547.8 1994.3L1552.2 1994.8L1556.5 1994.2L1560 1992.7L1563.6 1990.1L1571.6 1979.7L1575.1 1978.6L1578.9 1979.7L1584.1 1983.2L1585.6 1985.2L1586.1 1987.6L1585.8 1990.1L1581.1 1998.3L1579.8 2001.8L1579.3 2006.4L1580.4 2011.8L1582.6 2015.9L1585.5 2019L1589.5 2021.4L1593.5 2022.6L1600.4 2022.3L1606.9 2019.1L1610.8 2014.6L1615.2 2005.2L1618.2 2002.8L1621.9 2002.5L1629.4 2005.5L1631.8 2008.3L1632.4 2010.8L1628.7 2023.1L1628.6 2027.4L1629.2 2030.6L1631 2034.5L1633.9 2038.1L1637.3 2040.6L1641.6 2042.2L1645.8 2042.7L1650.2 2042L1653.7 2040.6L1657.3 2037.9L1661 2032.7L1664 2021.6L1666.5 2018.8L1670.1 2017.8L1677.5 2019.3L1679.6 2020.7L1681.4 2024L1680 2036.7L1680.5 2040.4L1682 2044.3L1683.8 2047.1L1686.9 2050L1690.1 2051.9L1694.2 2053.1L1698.8 2053.2L1703.1 2052.2L1707 2050L1710.2 2046.9L1713.3 2041.1L1714.4 2029L1716.3 2025.9L1719.7 2024.2L1727.9 2024.4L1730.2 2025.4L1732.5 2028.3L1733.4 2041.5L1734.5 2044.7L1736.7 2048.3L1739.4 2051L1743.2 2053.2L1747.4 2054.5L1751.6 2054.6L1754.9 2053.9L1758.9 2052.1L1762.2 2049.5L1764.5 2046.5L1766.2 2042.6L1766.9 2039.3L1766.1 2026.1L1768.1 2022.9L1771.6 2021.3L1776.6 2021.1L1779.8 2023L1781.5 2026.5L1783.1 2035.1L1785.6 2040.1L1790.6 2044.8L1796.8 2047L1803.5 2046.7L1809.5 2043.9L1813.9 2039L1817 2031.2L1818.8 2029.4L1821.1 2028.5L1824.9 2028.8L1830.7 2032.9L1836 2034.7L1841.5 2034.7L1846.9 2032.8L1852 2028.5L1855 2022.6L1855.7 2018.3L1855.3 2014.1L1850.8 2003.3L1850.6 2000.7L1852.2 1997.4L1857.4 1994.5L1859.8 1994.3L1863.3 1995.8L1869.8 2006.7L1872.5 2009.4L1876.1 2011.6L1880.3 2012.8L1883.6 2013.1L1887.8 2012.4L1891.3 2011L1894.9 2008.3L1897.5 2005.1L1899 2002.1L1900 1997.8L1899.9 1993.6L1898.9 1989.9L1892.1 1978.4L1892.4 1974.7L1894.8 1971.6L1903.4 1965.4L1907.1 1964.8L1910.5 1966.3L1916.6 1973.7L1920 1976.5L1924.3 1978.4L1929.3 1979L1933.1 1978.5L1937.2 1976.9L1940.8 1974.3L1943.4 1971L1944.9 1968L1945.9 1963.9L1945.3 1957.1L1942.3 1951.5L1935.1 1944.1L1933.9 1940.5L1934.9 1936.9L1945.9 1924.7L1948.2 1923.5L1951.9 1923.6L1962.1 1930.9L1968.6 1933L1972.2 1932.9L1976.2 1932L1980.2 1929.9L1982.7 1927.7L1985.1 1924.3L1986.8 1920.2L1987.2 1915.7L1986.5 1911.1L1984.8 1907.3L1982 1903.8L1971.6 1896.3L1970.4 1892.8L1970.8 1890.3L1976.7 1880.3L1979.8 1878.3L1983.6 1878.3L1994.2 1883.5L2000.8 1884.1L2005.1 1883L2009 1880.9L2012.2 1877.8L2014.5 1874L2015.8 1868.9L2015.2 1862.5L2012.7 1857.3L2007.7 1851.9L2006.9 1849.5L2007.1 1847L2008.2 1844.7L2010.1 1843.1L2020.6 1841.1L2026.4 1837.5L2029.1 1834.2L2030.6 1831.2L2031.5 1827.1L2031.5 1823.3L2029.6 1817.2L2026.4 1813L2020.9 1809.4L2009.3 1806.1L2007 1803.2L2006.7 1799.3L2008.1 1792.3L2010.5 1789.4L2014 1788.2L2024.4 1789.6L2029.8 1788.9L2033.1 1787.5L2036.5 1785.1L2040.4 1779.7L2041.4 1776.5L2041.9 1772.1L2041.2 1768L2039.8 1764.5L2035 1759L2027.6 1755.7L2025.7 1754.2L2024.4 1752.1L2024 1749.6L2024.5 1747.2L2026 1745.2L2028 1743.9L2034.7 1741.4L2039.2 1737.4L2042.3 1731.5L2042.9 1725.2L2041.9 1720.8L2040.4 1717.9L2037.7 1714.6L2034.2 1712L2027.6 1709.9L2014.6 1710.6L2012.3 1709.4L2010.2 1706.4L2008.4 1694.5L2009.5 1690.9L2012.4 1688.6L2022.2 1686.6L2028 1683.6L2032.3 1678.3L2033.9 1674.4L2034.3 1670.9L2033.9 1666.2L2032.2 1662.1L2029.6 1658.5L2026.1 1655.8L2022.1 1654L2017 1653.3L2013.2 1653.8L2004.3 1656.5L2001.8 1656.3L1998.7 1654.3L1996.3 1648.9L1996 1645L1997.9 1641.8L2009.6 1636.6L2012.9 1633.9L2015.2 1630.9L2017 1626.8L2017.6 1622.7L2017.4 1619.4L2016.1 1615.1L2013.9 1611.5L2010.7 1608.5L2007.4 1606.6L2003.4 1605.4L2000.1 1605.2L1995.9 1605.8L1984.2 1611.1L1980.5 1610.3L1977.8 1607.5L1969.9 1594.1L1968.9 1590.4L1969.4 1587.9L1970.8 1585.9L1978.6 1580.7L1981.6 1577.8L1984.8 1571.7L1985.4 1566.7L1984.7 1562.1L1982.2 1557.1L1979 1553.8L1972.5 1550.5L1965.7 1550.3L1959.7 1552.5L1951.1 1559.2L1947.5 1560L1944 1558.7L1937.6 1551.5L1936.8 1549.2L1937.2 1545.5L1945.8 1536.3L1947.6 1533.1L1948.8 1529.1L1949 1524.7L1948.3 1521.4L1946.6 1517.6L1943.8 1514.1L1940.3 1511.5L1936.8 1510L1932.4 1509.4L1928.2 1509.8L1925 1510.9L1921.5 1513.1L1912.6 1522.6L1910.2 1523.3L1906.5 1522.6L1902.1 1519.1L1900.8 1517L1900.5 1514.5L1901.1 1512.1L1908.1 1501.4L1909.1 1497.1L1909.1 1492.7L1908.1 1489.1L1906.1 1485.4L1903.9 1482.9L1900.3 1480.3L1896.4 1478.8L1892.6 1478.3L1888.4 1478.7L1885.3 1479.8L1882.2 1481.6L1879.1 1484.5L1872.4 1494.8L1870.2 1496L1866.5 1495.9L1853.5 1489.4L1850.6 1486.8L1849.7 1484.4L1849.8 1481.9L1854.1 1472L1854.6 1464.8L1853.6 1461.1L1851.6 1457.4L1849.4 1454.9L1845.8 1452.3L1841.8 1450.8L1837.4 1450.3L1833.1 1451L1829 1452.8L1826 1455.1L1823.2 1458.5L1818.3 1471L1815.2 1473L1811.3 1473L1802 1470.3L1800 1468.8L1798.7 1466.6L1798.4 1464.1L1800.5 1454.8L1800.6 1450.4L1799.5 1445.9L1797 1441.5L1793.8 1438.4L1789.9 1436.3L1785.6 1435.2L1781.8 1435.2L1775 1437.5L1769.9 1442.2L1767.4 1447.4L1765.8 1458.2L1764.6 1460.4L1761.4 1462.5L1756.6 1462.3L1754.3 1461.2L1752.2 1458.1L1752.3 1444.8L1751.4 1441.1L1749.3 1437.4L1746.1 1434.1L1742.3 1431.8L1738.1 1430.5L1733.9 1430.4L1730.6 1431.1L1726.8 1432.8L1723.8 1435.1L1721.1 1438.4L1718.8 1444.8L1718.5 1457.6L1716.3 1460.6L1714.1 1461.7L1705.9 1462.3L1702.5 1460.8L1700.5 1457.7L1698.9 1446.4L1695.9 1440.7L1692.7 1437.6L1689.4 1435.7L1685.2 1434.5L1681 1434.4L1676.7 1435.4L1672.7 1437.5L1670.2 1439.7L1667.7 1443.3L1666.2 1447.2L1665.7 1451.6L1667.7 1464.4L1666.1 1467.7L1662.7 1469.7L1656.7 1471.1L1654.2 1470.8L1652 1469.6L1650.5 1467.6L1647.7 1458.6L1646.2 1455.5L1642.5 1451.3L1638.8 1449L1634.3 1447.6L1629.9 1447.5L1625.6 1448.6L1621.7 1450.8L1616.9 1456.2L1614.9 1462.8L1615.5 1469.1L1619.3 1478.7L1619 1482.4L1616.7 1485.4L1609.3 1488.8L1605.6 1488.6L1603.4 1487.3L1597.3 1476.6L1591.8 1471.8L1588.3 1470.3L1584.2 1469.7L1580.8 1469.9L1576.6 1471.2L1573 1473.4L1569.9 1476.6L1567.8 1480.4L1566.7 1484.7L1566.7 1488.5L1567.8 1492.8L1574.2 1504.1L1573.9 1507.8L1571.4 1510.8L1566.2 1514.3L1563.8 1514.9L1561.3 1514.5L1559.2 1513.2L1553.4 1505.6L1550.6 1503.1L1546.8 1501L1542.2 1499.9L1537.8 1500L1532.6 1501.8L1529 1504.4L1526.1 1507.8L1523.8 1514.2L1524.2 1521.5L1526.9 1526.8L1533.9 1534.5L1534.9 1538.1L1533.8 1541.7L1528.1 1547.4L1524.5 1548.6L1522 1548.2L1512.2 1540L1509.2 1538.5L1505.1 1537.6L1501.3 1537.6L1497.2 1538.5L1493.3 1540.6L1490.8 1542.8L1488.3 1546.2L1486.7 1550.4L1486.2 1554.1L1486.7 1558.5L1488.3 1562.6L1490.8 1566L1500.6 1574.1L1501.5 1577.7L1500.3 1581.4L1496.6 1586.5L1493.4 1588.2L1489.7 1587.9L1480.4 1582.3L1475.1 1580.8L1468.5 1581.5L1465.2 1582.9L1461.8 1585.3L1458.9 1589L1457.1 1593L1456.5 1597.4L1457 1601.8L1458.9 1606.5L1461.8 1610.1L1465.2 1612.6L1473.4 1616.7L1475.1 1618.6L1475.9 1620.9L1475.8 1623.4L1473.2 1629.6L1470.7 1632.6L1467.1 1633.6L1454.4 1629.4L1450 1629.2L1446.7 1629.9L1442.9 1631.6L1439.4 1634.3L1436.8 1637.9L1435.2 1642L1434.7 1645.8L1435.2 1650.2L1436.8 1654.3L1439.3 1657.7L1444.9 1661.7L1455 1664.8L1457.7 1667.3L1458.6 1671L1456.7 1678.4L1455.3 1680.4L1451.9 1682.1L1439.3 1680.1L1432.2 1681.5L1428.9 1683.4L1425.8 1686.3L1424 1689.1L1422.5 1693L1422 1697.4L1422.6 1701.8L1424.4 1705.9L1427.2 1709.3L1430.2 1711.6L1434 1713.3L1446.7 1715.3L1448.7 1716.9L1450.2 1720.3L1449.6 1728.4L1447.7 1731.6L1444.3 1733.2L1433.8 1733.1L1428.5 1734.6L1423.1 1738.4L1420.6 1741.8L1419.2 1745.1L1418.6 1748.4L1418.7 1752.8L1419.9 1756.8L1421.8 1760.1L1424.9 1763.3L1428.5 1765.5L1431.6 1766.6Z"/>
<path fill="#ef8ad4" d="M1436.5 1710.3L1446.5 1711.5L1448.4 1712.2L1451.4 1714.7L1452.5 1716.3L1453.7 1719.9L1453 1729.3L1452.4 1731.1L1450.1 1734.2L1446.8 1736.2L1443 1736.8L1433.4 1736.7L1430 1737.7L1427 1739.5L1424.6 1742.1L1422.6 1746.2L1422 1749.7L1422.6 1753.8L1423.7 1756.5L1425.7 1759.3L1427.5 1760.9L1430.6 1762.6L1435.8 1763.5L1445.5 1762.8L1447.4 1763.2L1450.8 1765.1L1453.3 1768.1L1454 1769.8L1455.1 1779.1L1454.1 1782.9L1451.8 1786L1450.2 1787.1L1446.6 1788.4L1439 1789.5L1436.7 1790.1L1433.6 1791.8L1431.8 1793.4L1429.7 1796.3L1428.4 1799.6L1428.1 1803.1L1428.6 1806.5L1429.7 1809.2L1431.8 1812L1433.6 1813.6L1436.7 1815.3L1440.1 1816.1L1443 1816.1L1451.8 1813.9L1455.6 1813.6L1457.5 1814L1460.9 1815.9L1463.3 1818.9L1465.9 1827.5L1465.9 1829.4L1464.9 1833.1L1462.5 1836.2L1460.9 1837.3L1451.6 1840.5L1447.4 1843.3L1445.8 1845.1L1444.1 1848.2L1443.3 1851.6L1443.3 1854.5L1444.1 1857.9L1445.8 1861L1448.3 1863.5L1451.3 1865.3L1454.6 1866.3L1458.8 1866.3L1461.7 1865.5L1470.6 1861.5L1474.5 1861.3L1476.4 1861.7L1479.7 1863.7L1482.1 1866.8L1484.6 1871.7L1485.3 1873.5L1485.7 1877.3L1484.6 1881L1483.5 1882.6L1480.5 1885.1L1472.4 1889.7L1470 1892.3L1468.3 1895.4L1467.4 1898.8L1467.5 1902.3L1468.5 1905.7L1470.4 1908.7L1472.9 1911.2L1476 1912.8L1479.4 1913.7L1482.3 1913.7L1484.7 1913.2L1487.3 1912.1L1496 1906.1L1497.9 1905.5L1501.7 1905.3L1503.6 1905.8L1506.9 1907.8L1512.4 1914.9L1513.4 1918.7L1513.3 1920.6L1512.2 1924.3L1509.7 1927.2L1503 1932.7L1501.2 1935L1499.8 1938.3L1499.3 1940.6L1499.4 1944.1L1500.1 1946.9L1501.8 1950L1504.2 1952.6L1507.2 1954.4L1510.6 1955.4L1514.1 1955.5L1517.5 1954.6L1520.6 1952.9L1527.2 1946.4L1530.4 1944.2L1532.2 1943.6L1536.1 1943.5L1539.7 1944.9L1541.3 1946.1L1545.3 1949.8L1547.6 1952.9L1548.3 1954.7L1548.6 1958.5L1547.3 1962.2L1541.1 1969.7L1539.5 1972.4L1538.5 1975.8L1538.4 1979.3L1539.3 1982.7L1541.3 1986.3L1543.9 1988.8L1547 1990.4L1550.4 1991.3L1553.3 1991.3L1556.7 1990.4L1558.9 1989.4L1562.5 1986.1L1568.1 1978L1571.3 1975.9L1573.2 1975.3L1575.1 1975.1L1578.9 1975.8L1585 1979.4L1586.5 1980.6L1588.7 1983.7L1589.4 1985.5L1589.6 1989.4L1588.3 1993L1583.7 2000.9L1582.9 2004.4L1583 2007.9L1584 2011.3L1585.8 2014.3L1588.3 2016.8L1591.4 2018.4L1594.9 2019.3L1597.7 2019.3L1601.1 2018.4L1604.2 2016.8L1606 2015.2L1607.8 2012.9L1612.3 2003.2L1615.1 2000.5L1616.8 1999.6L1620.6 1998.8L1622.6 1999L1631.3 2002.6L1632.8 2003.8L1635.1 2006.9L1635.9 2010.7L1635.3 2014.5L1632.2 2023.6L1632 2026L1632.4 2028.9L1633.7 2032.1L1635 2034.2L1637.5 2036.6L1640.6 2038.3L1644.1 2039.1L1647.6 2039L1651.9 2037.5L1654.8 2035.4L1656.4 2033.6L1658.1 2030.5L1660.8 2020.2L1663.1 2017L1664.6 2015.8L1666.3 2014.9L1670.1 2014.3L1678.8 2016.1L1682.1 2018.2L1683.3 2019.7L1684.9 2023.2L1684.9 2027.1L1683.5 2036.6L1683.8 2039.5L1685.1 2042.8L1687.2 2045.6L1689.9 2047.9L1693.1 2049.3L1695.5 2049.7L1699 2049.7L1702.4 2048.7L1704.9 2047.2L1707.4 2044.8L1708.8 2042.8L1710 2039.5L1710.8 2030.1L1711.7 2026.4L1714 2023.3L1717.2 2021.2L1719.1 2020.8L1728.6 2021L1730.4 2021.6L1733.6 2023.8L1734.8 2025.3L1736.3 2028.8L1736.6 2039.2L1738.1 2044.1L1740.2 2047L1742.9 2049.2L1746.2 2050.6L1748.5 2051.1L1752.1 2051L1755.4 2050L1758.4 2048.2L1760.9 2045.6L1762.5 2042.5L1763.4 2039.1L1763.4 2036.8L1762.4 2029.1L1762.7 2025.2L1764.4 2021.7L1765.7 2020.3L1769.1 2018.4L1771 2017.9L1775.5 2017.4L1777.4 2017.7L1780.9 2019.3L1782.4 2020.5L1784.4 2023.8L1786.3 2033.6L1787.9 2037.3L1790.1 2040L1792.4 2041.8L1794.5 2042.8L1797.3 2043.6L1800.8 2043.7L1803.2 2043.2L1805.8 2042.1L1807.8 2040.7L1809.9 2038.7L1811.2 2036.7L1814.1 2029.3L1816.8 2026.5L1820.5 2025L1824.4 2025L1826.2 2025.6L1831.7 2029.4L1835.5 2031L1839 2031.4L1842.5 2030.9L1845.7 2029.4L1848.5 2027.2L1850.6 2024.4L1851.8 2021.1L1852.2 2017.6L1851.8 2014.8L1848 2005.9L1847.1 2002.2L1847.6 1998.3L1848.5 1996.6L1851.1 1993.7L1852.7 1992.7L1856.4 1991.1L1858.3 1990.7L1860.3 1990.8L1863.9 1992L1866.9 1994.5L1871.7 2003.3L1873.3 2005.4L1876.1 2007.6L1879.3 2009L1882.8 2009.6L1886.9 2009L1891 2007L1893.6 2004.6L1894.9 2002.5L1896 1999.9L1896.5 1997.5L1896.4 1994L1894.9 1989.6L1889.3 1981L1888.5 1977.2L1888.6 1975.3L1889.1 1973.4L1891.2 1970.2L1901.9 1962.3L1905.6 1961.2L1909.4 1961.7L1911.2 1962.5L1914.1 1965L1919.6 1971.7L1922 1973.6L1925.2 1975L1927.6 1975.5L1931.1 1975.4L1934.5 1974.4L1937.5 1972.5L1939.9 1970L1941.6 1966.9L1942.4 1963.5L1942.3 1960L1941.6 1957.2L1939.9 1954.1L1933.4 1947.6L1931.2 1944.4L1930.4 1940.6L1930.6 1938.7L1931.9 1935.1L1942.4 1923.3L1943.8 1921.9L1947.2 1920.1L1951 1919.8L1954.7 1921L1963.3 1927.6L1965.4 1928.7L1968.2 1929.4L1971.7 1929.5L1975.1 1928.7L1978.2 1927L1980 1925.4L1982.1 1922.5L1983.4 1919.2L1983.7 1915.7L1983.2 1912.3L1981.8 1909.1L1979.6 1906.3L1971.6 1901L1968.8 1898.3L1967.8 1896.6L1966.9 1892.9L1967 1890.9L1968.4 1887.3L1974 1878L1975.4 1876.7L1978.8 1874.9L1980.8 1874.6L1984.6 1875L1993.6 1879.6L1997.5 1880.6L2000.4 1880.6L2002.7 1880.2L2005.4 1879.1L2008.2 1877L2009.8 1875.2L2011.5 1872.1L2012.3 1868.7L2012.3 1865.8L2011.5 1862.4L2010.4 1860.2L2008.7 1857.9L2005.8 1855.3L2003.9 1851.9L2003.4 1848L2004.4 1844.3L2006.7 1841.2L2010.1 1839.2L2017.8 1838.3L2021.7 1836.8L2025.2 1833.7L2027.2 1830.1L2028.1 1826.7L2028 1823.2L2026.5 1818.8L2024.4 1815.9L2022.6 1814.3L2019.5 1812.7L2009 1810L2005.8 1807.8L2004.6 1806.3L2003.7 1804.5L2003 1800.7L2004.3 1792.9L2005.8 1789.3L2008.4 1786.5L2012 1784.9L2015.8 1784.8L2024.6 1786.1L2028.1 1785.8L2030.3 1785L2033.4 1783.2L2035.8 1780.6L2037.5 1777.5L2038.3 1774.1L2038 1769.5L2037.2 1767.2L2035.8 1764.7L2034.2 1762.9L2031.9 1761.2L2026.1 1758.8L2023.1 1756.6L2021.1 1753.3L2020.5 1749.5L2021.3 1745.8L2023.5 1742.7L2026.7 1740.6L2030.8 1739.4L2033 1738.3L2035.3 1736.6L2037.5 1733.8L2038.5 1731.7L2039.4 1728.3L2039.3 1724.7L2038.3 1721.4L2036.9 1718.9L2035.3 1717.1L2032.4 1715L2029.8 1713.9L2025.2 1713.3L2015.5 1714.3L2011.8 1713.3L2010.2 1712.2L2007.6 1709.3L2006.8 1707.5L2005 1696.3L2004.8 1694.4L2005.7 1690.6L2006.6 1688.9L2009.4 1686.3L2013 1684.8L2022.2 1682.9L2025.3 1681.2L2027.9 1678.8L2029.7 1675.8L2030.7 1672.4L2030.8 1668.9L2029.9 1665.5L2028.3 1662.4L2025.8 1659.8L2023.8 1658.5L2020.5 1657.2L2017.7 1656.8L2015.3 1657L2004.7 1660L2002.8 1660.1L1999.1 1659L1996 1656.6L1994.9 1655.1L1992.4 1648L1992.6 1644.1L1993.3 1642.3L1995.6 1639.2L1998.8 1637.2L2007.1 1634L2009.9 1631.9L2011.5 1630.1L2013.2 1627L2014 1623.6L2014 1620.7L2013.2 1617.3L2011.5 1614.2L2009.1 1611.6L2005.5 1609.6L2002.1 1608.7L1999.2 1608.7L1995.8 1609.6L1986.4 1614.2L1982.6 1614.5L1978.9 1613.4L1975.9 1611L1974.8 1609.4L1966 1594.1L1965.3 1590.3L1966.2 1586.5L1967.1 1584.8L1969.9 1582.1L1977.7 1576.8L1979.3 1575L1981 1571.9L1981.8 1568.5L1981.8 1565.6L1981 1562.2L1979.3 1559.1L1977.7 1557.3L1974.9 1555.2L1971.6 1553.9L1968.1 1553.6L1965.3 1553.9L1962 1555.2L1954.4 1561.2L1951.1 1563.1L1949.2 1563.5L1945.3 1563.2L1941.9 1561.5L1934.6 1553.4L1933.8 1551.6L1933.2 1547.8L1934 1544L1935 1542.4L1942.1 1535.3L1944.6 1531.2L1945.5 1527.8L1945.5 1524.9L1945 1522.5L1943.9 1519.9L1941.4 1516.6L1938.5 1514.5L1934.1 1513L1930.6 1512.9L1927.2 1513.8L1924.1 1515.4L1922.2 1517.1L1915.9 1524.6L1912.5 1526.4L1910.6 1526.8L1906.7 1526.5L1904.9 1525.8L1900.8 1522.8L1899.4 1521.5L1897.5 1518.1L1896.9 1514.3L1897.2 1512.4L1898.9 1508.9L1903.4 1502.8L1904.6 1500.7L1905.4 1498.4L1905.8 1494.9L1905.4 1492.1L1904.1 1488.8L1902 1486L1899.3 1483.7L1897.1 1482.7L1893.7 1481.8L1890.2 1481.9L1886.8 1482.9L1884.3 1484.4L1881.8 1486.8L1877.1 1494.7L1874.6 1497.6L1871.2 1499.4L1869.3 1499.7L1865.4 1499.3L1850.1 1491.5L1848.7 1490.2L1846.7 1486.8L1846.3 1485L1846.4 1481.1L1850.4 1471.9L1851.2 1467L1850.9 1464.1L1849.6 1460.8L1847.5 1458L1845.7 1456.4L1841.6 1454.4L1838.1 1453.8L1834 1454.4L1829.8 1456.4L1828 1458L1825.9 1460.8L1822.8 1469.9L1821 1473.2L1819.6 1474.6L1816.2 1476.4L1812.3 1476.8L1802.2 1474.1L1800.4 1473.4L1797.4 1471.1L1796.2 1469.5L1794.9 1465.9L1795.1 1462L1797.2 1452.4L1796.8 1448.9L1796.1 1446.6L1794.2 1443.6L1791.7 1441.2L1788.6 1439.5L1785.2 1438.7L1782.3 1438.7L1778.9 1439.5L1775.8 1441.2L1774 1442.8L1771.9 1445.6L1770.8 1448.3L1769.6 1457.4L1768.4 1461.1L1767.3 1462.7L1764.2 1465.1L1760.5 1466.2L1757.5 1466.1L1753.8 1465L1752.1 1463.9L1749.6 1461L1748.5 1457.3L1749 1447.4L1748.1 1442.5L1747.1 1440.3L1745.3 1438L1743.5 1436.4L1740.4 1434.8L1737 1433.9L1733.5 1434L1729.1 1435.5L1726.2 1437.6L1723.7 1440.9L1722.4 1444.2L1722.1 1447.6L1722.3 1456.9L1721 1460.5L1718.5 1463.4L1716.8 1464.4L1713.1 1465.4L1707.5 1465.8L1705.5 1465.8L1701.9 1464.6L1698.9 1462.1L1697.9 1460.5L1696.7 1456.8L1695.6 1447.5L1694.1 1444.2L1691.9 1441.5L1689.1 1439.4L1685.8 1438.2L1682.3 1437.8L1678.8 1438.3L1676.2 1439.4L1673.3 1441.5L1671.1 1444.2L1669.7 1447.5L1669.2 1449.8L1669.2 1452.7L1671.3 1463L1670.7 1466.8L1669.9 1468.6L1667.2 1471.4L1665.5 1472.4L1656.9 1474.6L1653.1 1474.1L1649.7 1472.2L1648.4 1470.8L1646.6 1467.4L1644.1 1459.1L1642.7 1456.5L1640.2 1453.9L1638.2 1452.6L1634.9 1451.3L1632.1 1450.9L1628.6 1451.3L1625.3 1452.6L1622.5 1454.7L1620.3 1457.4L1618.8 1460.6L1618.3 1464.1L1618.7 1467.6L1622.1 1476.1L1622.9 1479.9L1622.8 1481.8L1621.4 1485.4L1618.7 1488.2L1617.1 1489.2L1612 1491.5L1608.2 1492.5L1604.4 1491.9L1602.7 1491.1L1599.8 1488.5L1594.1 1478.2L1591.5 1475.7L1587.4 1473.7L1583.9 1473.2L1579.8 1473.7L1576.6 1475.1L1573.8 1477.3L1571.8 1480.2L1570.7 1482.8L1570.2 1485.2L1570.2 1488.1L1570.7 1490.4L1571.8 1493.2L1577.1 1501.6L1577.9 1505.3L1577.7 1507.3L1576.3 1510.8L1575.1 1512.3L1567.7 1517.5L1563.9 1518.4L1562 1518.3L1558.4 1517L1555.5 1514.3L1549.9 1507L1547.6 1505.3L1544.4 1503.8L1542 1503.4L1538.5 1503.4L1535.1 1504.4L1532.1 1506.3L1529.7 1508.8L1528 1511.9L1527.2 1515.3L1527.2 1518.2L1528 1521.6L1529.1 1523.8L1535.6 1531.1L1537.7 1534.4L1538.2 1536.2L1538.2 1540.1L1536.7 1543.6L1530.1 1550.3L1528.4 1551.3L1524.6 1552.1L1522.7 1552L1519 1550.6L1511.6 1543.9L1507 1541.5L1504.6 1541L1501.8 1541L1498.4 1541.9L1496.2 1542.9L1492.7 1546L1490.9 1549L1489.9 1552.4L1489.8 1555.9L1490.6 1559.3L1492.7 1562.9L1495 1565.1L1502.4 1570.7L1504.4 1574L1505 1577.8L1504.8 1579.7L1503.3 1583.2L1500.4 1587.5L1499.1 1588.9L1495.9 1591.1L1492.1 1591.8L1490.2 1591.7L1486.6 1590.2L1478.3 1585.2L1475.5 1584.4L1472 1584.3L1468.6 1585.2L1465.5 1586.8L1463 1589.3L1461.1 1592.3L1460.4 1594.6L1460 1598.1L1460.4 1600.9L1461.6 1604.2L1463.7 1607L1465.5 1608.6L1473.9 1612.9L1476.9 1615.2L1478.1 1616.8L1479.4 1620.4L1479.2 1624.3L1475.4 1632.8L1472.6 1635.5L1470.9 1636.4L1469 1637L1465.1 1636.9L1455.4 1633.1L1450.2 1632.7L1446.8 1633.5L1443.7 1635.2L1441.9 1636.8L1439.8 1639.7L1438.3 1644L1438.3 1647.5L1439.1 1651L1440.8 1654.1L1442.4 1655.9L1445.2 1657.9L1447.3 1658.9L1454.8 1660.9L1458.2 1662.7L1459.6 1664L1461.6 1667.3L1462.1 1671.2L1459.9 1679.9L1457.7 1683L1456.1 1684.2L1452.5 1685.5L1450.6 1685.7L1440.9 1683.7L1435.8 1684L1433.5 1684.8L1431 1686.2L1429.2 1687.8L1427.4 1690.1L1426.4 1692.2L1425.6 1695.6L1425.6 1699.2L1426.6 1702.5L1428.1 1705L1430.5 1707.6L1433.5 1709.4Z"/>
<circle cx="1730.9" cy="1742.8" r="256" fill="#ecb0dc"/>
<circle cx="1730.9" cy="1742.8" r="24.9" fill="#ef8ad4"/>
<circle cx="1730.9" cy="1742.8" r="7.5" fill="#fff"/>
<g transform="translate(1680 1793.9) scale(1)" fill="none" stroke="#be7aa8" stroke-width="18" stroke-linejoin="miter" stroke-miterlimit="10"><path d="M6.6 30.2C20 17 36 9 54 9C79 9 97 24 97 44C97 58 91 67 83 76L8 156M2.3 158H116.5"/></g>
<text font-family="Liberation Sans, sans-serif" font-size="58" fill="#6b0d57" stroke="#6b0d57" stroke-width="1.1" letter-spacing="1.47" text-anchor="middle"><textPath href="#tp_pink" startOffset="50.258%">Exploratory Data Analysis</textPath></text>
<path fill="#fff" d="M1238.5 2335.5L1248.1 2336.3L1251.3 2338.3L1252.9 2341.7L1252.1 2350.9L1250.7 2353L1248.5 2354.3L1234.9 2355.1L1231.8 2356.1L1228 2358.5L1225 2361.7L1222.5 2366.7L1221.8 2371.3L1222.3 2375.7L1223.8 2379.6L1225.7 2382.4L1228.7 2385.3L1232 2387.2L1238.2 2388.6L1248.8 2387.7L1252.2 2389.1L1254.4 2392.1L1255.5 2400.2L1254.8 2402.6L1252.4 2405.4L1239.7 2408.3L1236 2410.3L1233.5 2412.5L1231 2415.9L1229.4 2420L1228.9 2424.4L1229.6 2428.8L1231 2432.3L1233.5 2435.7L1236 2437.9L1239.9 2440L1244 2441L1247.5 2441L1259.8 2438.2L1262.2 2438.9L1264.9 2441.6L1267.4 2449.2L1266.8 2452.9L1264.2 2455.6L1254.2 2459.5L1249.8 2462.9L1247.7 2465.7L1246 2469.6L1245.3 2476.4L1246.4 2480.7L1248.6 2484.6L1251.6 2487.8L1255.4 2490.1L1260.3 2491.4L1265 2491.3L1269 2490.1L1277.2 2486.1L1279.7 2485.9L1282.1 2486.7L1284 2488.3L1287.3 2494L1288.1 2497.9L1286.8 2501.3L1275.7 2508.8L1273.5 2511.3L1271.4 2515.2L1270.4 2519.3L1270.5 2523.7L1271.7 2528L1274 2531.8L1277.2 2534.8L1280.5 2536.7L1284.8 2538L1289 2538.1L1295.5 2536L1304.1 2529.9L1307.8 2529.3L1311.2 2530.8L1316.3 2537.1L1317 2540.8L1316.3 2543.2L1307 2552L1303.8 2558.5L1303.3 2562.3L1303.8 2566.5L1304.8 2569.6L1307 2573.2L1310.2 2576.3L1314.1 2578.4L1318.4 2579.5L1322.2 2579.5L1326.5 2578.4L1330.2 2576.4L1339.5 2567.5L1343.2 2567L1346.7 2568.7L1351.6 2573.1L1352.8 2575.4L1353 2577.8L1352.3 2580.2L1346.4 2587.5L1344.6 2590.7L1343.3 2595.6L1343.4 2600.2L1344.6 2604.3L1347.1 2608.2L1350.3 2611.3L1355.3 2613.7L1362.1 2614.4L1369 2612L1373.5 2608.1L1379 2599.7L1382.3 2597.9L1386 2598.1L1391.8 2601.4L1394.4 2604.3L1395 2607.9L1389.4 2619.7L1388.8 2623L1388.9 2627.4L1390.1 2631.5L1392.4 2635.3L1395.6 2638.3L1399.5 2640.5L1403.8 2641.5L1407.5 2641.5L1411.9 2640.5L1415.5 2638.5L1419.5 2634.6L1424.6 2623.5L1427.5 2621.1L1431.2 2620.7L1438.7 2623.5L1441.2 2626.3L1441.8 2628.7L1438.5 2640.8L1438.9 2648L1440.4 2651.5L1442.9 2654.9L1446.3 2657.7L1449.3 2659.2L1452.7 2660.1L1456.9 2660.2L1460.2 2659.6L1464 2657.9L1467.5 2655.1L1470.2 2651.3L1471.6 2647.9L1473.7 2638.8L1475.1 2636.7L1477.2 2635.3L1479.6 2634.8L1487.5 2636.3L1490.5 2638.5L1491.5 2640.8L1490.4 2653.3L1491 2657.5L1492.5 2661L1495.1 2664.6L1498.6 2667.3L1502.7 2669.1L1506.8 2669.8L1511.2 2669.3L1514.4 2668.3L1518 2666.1L1520.6 2663.4L1522.8 2659.8L1523.9 2656.7L1525.1 2643.9L1526.5 2641.8L1529.8 2640.1L1537.9 2640.1L1541.2 2641.8L1543 2645.1L1543.5 2654.9L1545.5 2661L1550.3 2666.5L1556.5 2669.4L1560.7 2669.8L1565.1 2669.1L1569.1 2667.4L1572.7 2664.4L1575.8 2659.8L1577.1 2655.4L1577.3 2651.5L1576 2642.1L1576.6 2639.7L1578.1 2637.6L1580.2 2636.3L1586.7 2635L1590.6 2635.4L1593.5 2637.7L1597 2650.4L1599.2 2654L1602.4 2657.1L1606.3 2659.2L1609.9 2660.2L1614.4 2660.3L1618.5 2659.3L1621.4 2657.8L1624.9 2655L1627.3 2651.6L1628.8 2648.1L1629.3 2640.9L1625.9 2628.8L1627.2 2625.3L1629 2623.6L1636.6 2620.8L1640.3 2621.2L1643.1 2623.6L1647.3 2633.1L1651.3 2637.9L1657.4 2641.1L1664.6 2641.6L1668.9 2640.4L1672.7 2638.1L1675.7 2634.9L1678 2630.8L1679.1 2625.4L1678.6 2620.9L1677.3 2617.2L1673 2609.3L1672.7 2606.8L1673.3 2604.4L1674.8 2602.4L1680.5 2598.9L1684.3 2597.9L1687.8 2599.1L1695.8 2609.9L1698.8 2612.2L1702.9 2614L1707.2 2614.6L1711.7 2614.1L1715.8 2612.5L1719.2 2610L1721.4 2607.5L1723.5 2603.6L1724.4 2599.5L1724.4 2595.1L1722.1 2588.9L1715.5 2580.4L1714.8 2576.8L1716.1 2573.3L1722.2 2568L1725.8 2567.1L1728.3 2567.7L1737.4 2576.5L1743.6 2579.4L1747.8 2579.8L1751.6 2579.3L1755.5 2577.8L1758.3 2575.9L1761.2 2572.9L1763.3 2569L1764.4 2564.7L1764.3 2560.3L1763 2556L1761.2 2552.7L1751.5 2543.4L1750.8 2539.7L1752.3 2536.2L1756.6 2531L1758.8 2529.8L1761.3 2529.5L1763.7 2530.1L1771.3 2535.7L1774.6 2537.3L1778.9 2538.3L1784.4 2537.9L1788.7 2536.3L1792.3 2533.6L1795.1 2530.2L1796.9 2526.1L1797.3 2518.9L1795 2512.4L1790.6 2507.7L1781.9 2502.5L1779.9 2499.3L1780 2495.6L1783.8 2488.5L1785.7 2486.9L1789.4 2486.1L1801.6 2491.3L1805.3 2491.8L1809.5 2491.3L1813.7 2489.7L1817.3 2487.2L1820.2 2483.5L1821.9 2479.7L1822.6 2475.3L1822.4 2472L1821.2 2468L1818.9 2464.2L1813.9 2459.9L1803.7 2455.9L1801.1 2453.2L1800.5 2449.5L1803 2441.8L1804.6 2439.9L1808.1 2438.5L1820.3 2441.3L1824 2441.3L1828 2440.3L1831.9 2438.2L1834.5 2436L1836.9 2432.6L1838.4 2429.1L1839 2424.7L1838.5 2420.3L1836.9 2416.2L1834.3 2412.6L1828.9 2408.8L1816.7 2406.2L1813.8 2404L1812.5 2400.5L1813.6 2392.4L1815.7 2389.4L1818 2388.2L1830.9 2388.8L1834.1 2388.2L1838 2386.4L1841.4 2383.7L1843.7 2380.7L1845.5 2376.6L1846.2 2372.5L1845.7 2368L1844.7 2364.9L1842.5 2361.3L1839.3 2358.2L1836 2356.3L1832 2355.2L1819.5 2354.6L1817.4 2353.3L1815.5 2350L1815.2 2342L1816 2339.6L1817.6 2337.7L1819.9 2336.6L1829.2 2335.8L1832.8 2334.9L1836.9 2332.6L1840.1 2329.6L1842.3 2326L1843.4 2322.8L1843.8 2319.3L1843.4 2315.1L1842.3 2312L1840 2308.2L1836.9 2305.3L1833.6 2303.4L1826.5 2302L1814.2 2303.7L1810.9 2302L1809.5 2299.9L1807.7 2292.1L1808.6 2288.4L1811.4 2285.9L1823.1 2282.3L1827.5 2278.9L1829.9 2275.5L1831.6 2271.4L1832.1 2267.7L1831.6 2263.2L1829.9 2259.1L1827.5 2255.7L1825 2253.5L1821.1 2251.4L1817 2250.4L1812.5 2250.5L1799.9 2254.5L1796.4 2253.4L1793.9 2250.4L1791.4 2244.2L1791.7 2240.5L1794 2237.6L1803 2233.2L1807.6 2229.2L1810.8 2222.7L1811 2215.8L1809.8 2211.6L1807.4 2207.8L1804.2 2204.8L1799.2 2202.4L1794.6 2201.6L1789.6 2202.3L1778.3 2208.4L1775.8 2208.8L1773.4 2208.3L1771.3 2206.8L1767.6 2201.4L1766.4 2197.7L1767.4 2194.1L1777.5 2186L1780 2182.6L1781.6 2178.5L1782.1 2174L1781.4 2169.7L1780 2166.2L1777.4 2162.6L1774.1 2160L1771.1 2158.5L1767 2157.5L1763.2 2157.5L1756.4 2159.8L1746.4 2167.7L1744 2168.1L1740.4 2166.9L1734.8 2161L1733.8 2157.5L1734.9 2153.9L1742.2 2146.2L1745.1 2139.9L1745.5 2135.7L1744.8 2131.4L1743.1 2127.3L1740.8 2124.3L1737.3 2121.5L1733.2 2119.7L1728.9 2119.1L1724.7 2119.5L1721.5 2120.6L1717.8 2122.9L1708.9 2132.9L1705.3 2133.7L1701.7 2132.4L1696.4 2128.4L1695 2126.3L1694.6 2123.8L1695.1 2121.4L1700.3 2113.6L1701.9 2109.8L1702.7 2105.2L1702 2100.2L1700.2 2096.1L1697.5 2092.7L1693.9 2090L1689.8 2088.4L1682.9 2088.2L1679.5 2089.1L1675.8 2091.1L1671.9 2095L1666.7 2104.4L1663.7 2106.5L1659.9 2106.6L1652.7 2103.1L1650.4 2100.1L1650 2097.6L1654.5 2085.8L1654.9 2082.2L1654.5 2078L1653.4 2074.9L1651.1 2071.1L1648 2068.2L1645 2066.4L1640.5 2065.1L1636.3 2065L1632 2066L1629 2067.5L1625.7 2070.1L1623.1 2073.7L1618.5 2085.8L1615.4 2087.9L1611.6 2087.9L1605.1 2086L1603.2 2084.5L1601.9 2082.3L1601.5 2079.9L1603.7 2070.7L1603.9 2067.2L1602.8 2061.8L1600.6 2057.7L1597.5 2054.5L1593.7 2052.2L1589.4 2051L1585 2050.9L1578.1 2053.2L1573.1 2057.9L1570.4 2063.7L1569 2073.9L1566.8 2077L1563.4 2078.4L1555.4 2077.7L1552.2 2075.7L1551 2073.5L1551 2061.1L1550 2057L1548.6 2054L1545.9 2050.8L1542.9 2048.5L1538.9 2046.7L1534.7 2046L1530.1 2046.5L1526.1 2048L1522.5 2050.6L1520.3 2053.1L1518.3 2056.8L1517.4 2060.5L1517.3 2073.5L1515.1 2076.5L1512.9 2077.7L1504.9 2078.4L1501.4 2077L1499.3 2073.9L1497.3 2061.7L1493.6 2055.9L1490.2 2053.2L1486.1 2051.4L1481.7 2050.7L1477.3 2051.2L1473.4 2052.7L1470.6 2054.6L1467.7 2057.6L1465.6 2061.5L1464.4 2068.3L1466.7 2081L1465.1 2084.4L1463.1 2085.9L1455.3 2088.1L1451.7 2087.3L1449.1 2084.7L1445.2 2073.6L1441.1 2068.7L1438.3 2066.8L1434.2 2065.3L1430 2064.8L1425.6 2065.5L1421.5 2067.3L1418.1 2070L1415.4 2073.6L1414 2077.1L1413.3 2081.5L1413.8 2085.6L1418.2 2097.5L1417.3 2101.1L1414.3 2103.7L1408.3 2106.5L1405.8 2106.6L1403.4 2105.9L1401.5 2104.2L1397.2 2096L1394.8 2093L1391.3 2090.2L1386.6 2088.3L1382.2 2087.8L1377.9 2088.4L1373.8 2090.2L1370.2 2093.1L1367.7 2096.5L1366.3 2099.8L1365.7 2106.6L1367.6 2112.8L1373.1 2121.2L1373.5 2124.9L1371.9 2128.2L1366.5 2132.2L1362.9 2133.6L1359.3 2132.7L1350.5 2122.7L1347.7 2120.9L1343.5 2119.3L1339.4 2118.9L1335 2119.6L1331.5 2121L1327.9 2123.6L1325.1 2127.1L1323.4 2130.9L1322.8 2134.2L1322.9 2138.4L1323.9 2142.1L1325.9 2145.8L1333.9 2154.8L1334.3 2158.6L1333.3 2160.9L1327.8 2166.7L1324.2 2167.9L1320.6 2167L1313.1 2160.4L1307.1 2157.7L1300.3 2157.4L1296.3 2158.6L1293.2 2160.3L1289.8 2163.5L1287.5 2167.3L1286.3 2171.6L1286.2 2176L1287.5 2180.9L1289.8 2184.7L1292.8 2187.7L1300 2192.9L1301.3 2195L1301.8 2197.4L1301.3 2199.9L1297.7 2205.5L1294.8 2208L1291.1 2208.5L1279.9 2202.5L1275.7 2201.5L1271.3 2201.6L1267.1 2202.8L1263.3 2205.1L1260.6 2207.7L1258.3 2211.5L1257.1 2215.8L1257 2220L1257.6 2223.3L1259.4 2227.3L1263.8 2232L1274.2 2237.3L1276.4 2240.3L1276.7 2244L1273.5 2251.4L1271.7 2253.2L1268.2 2254.3L1255.8 2250.3L1248.9 2250.6L1245 2252.1L1242.2 2253.9L1239.3 2257L1237.4 2260.2L1236.2 2264.5L1236.1 2268.9L1237.2 2273.2L1239.3 2277.1L1242.2 2280.2L1245 2282L1257.8 2286.3L1260 2289.3L1260.4 2291.8L1258.6 2299.6L1256.2 2302.5L1252.6 2303.5L1243 2301.8L1236.5 2302.4L1230.6 2305.4L1226.2 2310.7L1224.7 2314.6L1224.2 2318.4L1224.7 2322.8L1226.2 2326.7L1228.1 2329.5L1231.3 2332.5L1235 2334.5Z"/>
<path fill="#70b3f5" d="M1239.2 2332L1249.1 2332.9L1250.9 2333.6L1253.9 2336L1255.9 2339.3L1256.3 2341.2L1255.9 2350.5L1255.3 2352.4L1253.1 2355.5L1249.8 2357.6L1246 2358.3L1236.8 2358.3L1233.3 2359.3L1230.3 2361.1L1227.9 2363.7L1225.9 2367.8L1225.3 2371.3L1225.9 2375.4L1227.3 2378.6L1229 2380.9L1231.8 2383.1L1233.9 2384.2L1236.7 2384.9L1239.4 2385.1L1249.1 2384.2L1251 2384.6L1254.4 2386.3L1255.8 2387.7L1257.7 2391L1259 2400.4L1258 2404.1L1255.7 2407.2L1254.2 2408.4L1250.6 2409.7L1241 2411.5L1238.9 2412.6L1236.1 2414.8L1234 2417.7L1232.8 2420.9L1232.4 2424.4L1232.9 2427.9L1234.4 2431.1L1236.1 2433.4L1237.9 2435L1241 2436.7L1244.4 2437.5L1247.3 2437.5L1256.4 2435.1L1260.2 2434.7L1263.9 2435.8L1266.9 2438.3L1268 2439.9L1270.9 2448.8L1270.6 2452.6L1269.9 2454.4L1267.6 2457.5L1266 2458.7L1256.8 2462.2L1254.3 2463.6L1252.5 2465.2L1250.7 2467.5L1249.6 2469.6L1248.8 2473.1L1248.8 2475.9L1249.6 2479.4L1251.3 2482.4L1254.3 2485.4L1257.4 2487.1L1260.8 2487.9L1265.4 2487.6L1276.3 2482.7L1280.1 2482.4L1283.8 2483.6L1285.4 2484.7L1287.8 2487.7L1290.4 2492.5L1291.6 2496.2L1291.6 2498.1L1290.6 2501.9L1289.6 2503.5L1286.6 2506L1278.9 2510.6L1276.4 2513.2L1274.7 2516.3L1273.9 2519.7L1274 2523.3L1275 2526.6L1276.8 2529.6L1279.4 2532.1L1281.8 2533.5L1285.2 2534.5L1288.7 2534.6L1291.1 2534.1L1293.8 2533L1302.6 2526.7L1304.4 2526.1L1308.3 2525.8L1311.9 2527L1313.5 2528.1L1319.4 2535.5L1320.5 2539.2L1320.5 2541.1L1319.4 2544.8L1317 2547.8L1309.8 2554.1L1308.5 2556.1L1307.4 2558.8L1306.9 2561.2L1307 2564.7L1308 2568.1L1309.8 2571.1L1312.4 2573.5L1315.5 2575.2L1318.9 2576L1321.7 2576L1325.2 2575.2L1328.3 2573.5L1334.9 2566.6L1338 2564.3L1341.8 2563.4L1343.7 2563.5L1347.4 2564.8L1348.9 2566L1353 2569.5L1355.4 2572.6L1356.5 2576.3L1356.5 2578.2L1355.3 2581.9L1349.2 2589.6L1347.9 2592L1346.8 2596L1346.9 2599.6L1347.9 2602.9L1349.7 2605.9L1352.2 2608.4L1356.4 2610.4L1359.9 2611L1362.3 2610.8L1365 2610.1L1367.2 2609L1369.5 2607.2L1371.1 2605.4L1376.5 2597.3L1379.6 2595.1L1381.5 2594.4L1383.4 2594.2L1387.2 2594.8L1393.7 2598.5L1395.3 2599.6L1397.6 2602.7L1398.3 2604.5L1398.5 2608.4L1397.3 2612L1393.6 2618.6L1392.7 2620.9L1392.2 2623.2L1392.3 2626.8L1393.3 2630.1L1395.2 2633.1L1397.7 2635.6L1400.8 2637.2L1404.2 2638.1L1407.1 2638.1L1410.5 2637.2L1413.6 2635.6L1415.4 2634L1417.5 2631.1L1421.7 2621.6L1424.4 2618.8L1426.1 2617.9L1427.9 2617.3L1431.8 2617.2L1440.5 2620.5L1442.1 2621.7L1444.4 2624.8L1445.3 2628.5L1444.8 2632.3L1441.9 2641.2L1441.8 2643.6L1442.3 2647.1L1443.4 2649.8L1445.5 2652.6L1448.2 2654.8L1450.4 2655.9L1453.8 2656.7L1457.3 2656.6L1460.7 2655.6L1464.5 2653.1L1466.1 2651.3L1467.8 2648.2L1470.4 2637.4L1472.6 2634.2L1474.1 2633L1477.7 2631.5L1479.6 2631.3L1488.7 2633L1490.5 2633.8L1493.3 2636.5L1494.9 2640L1495.1 2643.8L1493.9 2653.1L1494.3 2656L1495.5 2659.3L1496.9 2661.3L1499.4 2663.7L1502.5 2665.4L1505.9 2666.2L1509.4 2666.1L1512.8 2665.1L1515.3 2663.7L1517.9 2661.3L1519.7 2658.3L1520.5 2656L1521 2646.2L1521.9 2642.5L1524.1 2639.3L1525.6 2638.1L1529.1 2636.7L1538.6 2636.7L1542.1 2638.1L1543.7 2639.3L1544.9 2640.8L1546.5 2644.3L1547 2654.8L1547.8 2657.7L1549.4 2660.8L1552.4 2663.7L1555.5 2665.4L1558.9 2666.2L1562.4 2666.1L1565.2 2665.4L1568.3 2663.7L1570.1 2662.1L1572.2 2659.3L1573.3 2656.6L1573.8 2653.2L1572.6 2643.9L1572.8 2640L1574.4 2636.5L1577.2 2633.9L1579 2633L1588.1 2631.4L1591.9 2632.1L1593.6 2633.1L1595.1 2634.3L1597.3 2637.5L1599.9 2648.3L1601 2650.4L1602.7 2652.7L1604.5 2654.3L1607.6 2656L1611 2656.8L1614.6 2656.7L1617.9 2655.7L1620.9 2653.9L1623.4 2651.3L1625 2648.2L1625.9 2644.8L1625.8 2641.3L1622.9 2632.4L1622.4 2628.6L1622.7 2626.7L1624.4 2623.2L1625.7 2621.8L1629 2619.8L1634.1 2617.8L1637.9 2617.2L1641.7 2618L1643.4 2618.9L1646.1 2621.7L1649.8 2630.4L1651.2 2632.7L1654.1 2635.7L1657.2 2637.4L1661.8 2638.3L1665.3 2637.9L1668.5 2636.6L1671.4 2634.6L1673 2632.7L1674.4 2630.3L1675.4 2626.9L1675.6 2624.5L1675.2 2621.6L1674.4 2619.3L1669.6 2610.4L1669.2 2606.6L1669.5 2604.7L1670.2 2602.8L1672.5 2599.8L1680.6 2594.9L1684.4 2594.3L1688.1 2595.2L1689.8 2596.2L1692.5 2599L1697.8 2607L1700.5 2609.2L1702.7 2610.2L1706.1 2611.1L1709.7 2611L1713 2610L1716 2608.1L1718.5 2605.6L1720.1 2602.5L1721 2599.1L1721 2596.2L1720.1 2592.8L1719.1 2590.6L1713.5 2583.7L1711.7 2580.3L1711.3 2578.4L1711.6 2574.6L1713.4 2571.1L1720.4 2565L1722.2 2564.2L1726 2563.6L1729.7 2564.5L1731.4 2565.5L1738.4 2572.8L1742.6 2575.4L1746 2576.2L1748.9 2576.2L1751.3 2575.8L1753.9 2574.7L1756.8 2572.6L1759.3 2569.3L1760.6 2566L1761 2562.5L1760.4 2559L1758.4 2554.9L1756.7 2552.9L1749.5 2546.6L1747.7 2543.2L1747.3 2541.3L1747.7 2537.5L1749.5 2534.1L1753 2529.7L1755.9 2527.2L1757.7 2526.5L1759.6 2526L1763.4 2526.3L1766.9 2528L1774 2533.2L1777.4 2534.5L1780.9 2534.9L1784.3 2534.3L1787.6 2532.9L1790.3 2530.7L1792.4 2527.9L1793.5 2525.2L1794 2521.7L1793.9 2519.3L1792.9 2516L1791.4 2513.5L1789 2510.9L1781.2 2506.3L1778.3 2503.7L1776.5 2500.3L1776.2 2498.4L1776.7 2494.5L1781.1 2486.3L1784.1 2483.8L1785.8 2483.1L1787.7 2482.7L1791.6 2483L1800.7 2487.3L1803.6 2488.1L1806 2488.3L1809.5 2487.7L1812.7 2486.3L1815.4 2484.1L1817.5 2481.2L1818.8 2477.9L1819.1 2474.4L1818.6 2471L1817.2 2467.8L1815.4 2465.5L1812.7 2463.3L1803.6 2459.8L1800.3 2457.8L1798 2454.7L1797.3 2452.9L1797 2451L1797.5 2447.1L1799.2 2442L1801 2438.6L1802.4 2437.2L1805.8 2435.4L1809.7 2435L1818.9 2437.5L1821.7 2437.9L1825.2 2437.5L1829.1 2435.9L1831.8 2433.7L1834.4 2429.9L1835.4 2426.5L1835.5 2423L1835 2420.6L1833.9 2417.9L1832.6 2415.9L1830 2413.5L1827.5 2412.1L1825.1 2411.2L1815.5 2409.5L1812.2 2407.5L1810.9 2406L1809.9 2404.4L1809 2400.6L1810.3 2391.3L1812.2 2388L1813.6 2386.6L1817 2384.9L1820.8 2384.5L1829.4 2385.4L1832.4 2385L1835.7 2383.7L1837.7 2382.4L1840.1 2379.9L1841.8 2376.8L1842.6 2373.3L1842.5 2369.8L1841.5 2366.4L1839.7 2363.4L1837.1 2361L1834.7 2359.6L1831.3 2358.6L1822 2358.6L1818.2 2357.9L1814.9 2355.8L1812.7 2352.6L1812.1 2350.8L1811.7 2341.5L1812.1 2339.6L1814.1 2336.3L1815.5 2334.9L1819 2333.2L1830 2332.1L1833.3 2330.8L1835.3 2329.5L1837.7 2326.9L1839.4 2323.8L1840.3 2319.3L1839.9 2315.8L1838.7 2312.5L1837.3 2310.5L1834.8 2308.1L1832.3 2306.7L1830 2305.9L1826.5 2305.5L1817.4 2307.1L1813.5 2307.1L1810 2305.7L1808.4 2304.5L1806.2 2301.3L1804.2 2292.2L1804.8 2288.4L1805.6 2286.6L1806.8 2285.1L1809.9 2282.8L1820 2279.9L1824.4 2277.1L1826.6 2274.3L1828 2271.1L1828.6 2267.7L1828.2 2264.2L1826.9 2260.9L1824.8 2258L1822.1 2255.8L1818.9 2254.4L1815.4 2253.8L1813 2254L1810.9 2254.5L1803.7 2257.4L1799.9 2258.1L1798 2257.9L1794.4 2256.4L1791.7 2253.6L1790.8 2251.9L1788 2245L1787.9 2241.1L1788.4 2239.3L1790.5 2236L1791.9 2234.7L1800.9 2230.4L1804.8 2227.1L1806.6 2224.1L1807.4 2221.8L1807.8 2218.9L1807.6 2216.5L1806.6 2213.1L1804.8 2210.1L1802.2 2207.7L1798.1 2205.7L1794.6 2205.1L1790.5 2205.7L1787.5 2206.9L1779.5 2211.7L1775.7 2212.3L1771.9 2211.5L1770.2 2210.5L1767.6 2207.7L1764.6 2203.2L1763.6 2201.5L1762.9 2197.7L1763 2195.8L1764.5 2192.2L1767.1 2189.4L1774.9 2183.7L1776.6 2181.4L1778.1 2178.2L1778.6 2174.7L1778.2 2171.2L1777 2167.9L1774.9 2165.1L1772.1 2162.9L1770 2161.8L1767.2 2161.1L1763.7 2161L1761.3 2161.4L1758.1 2162.9L1750.9 2169L1747.6 2171L1743.8 2171.6L1740.1 2170.7L1738.4 2169.8L1731.9 2163L1731 2161.2L1730.3 2157.5L1731.1 2153.7L1732 2152L1738.8 2144.8L1741.1 2140.9L1741.9 2138.1L1741.9 2134.6L1741.5 2132.3L1740 2129L1737 2125.6L1734 2123.7L1730.6 2122.7L1727.1 2122.7L1723.1 2123.7L1720.1 2125.6L1712.3 2134.8L1708.9 2136.7L1705.1 2137.3L1703.2 2137L1699.7 2135.3L1695.3 2132.1L1692.6 2129.3L1691.8 2127.5L1691.1 2123.7L1691.3 2121.8L1692.9 2118.3L1698 2110.4L1699 2107L1699.1 2103.5L1698.3 2100L1696.6 2097L1694.2 2094.4L1691.1 2092.6L1688.9 2091.8L1685.4 2091.4L1682.5 2091.8L1679.2 2093.1L1677.2 2094.4L1674.8 2097L1670.5 2104.9L1668.1 2107.9L1664.8 2109.8L1660.9 2110.3L1659 2110L1650.6 2105.9L1648 2103.1L1647.1 2101.3L1646.5 2097.5L1646.8 2095.6L1650.9 2085.7L1651.4 2080.5L1650.5 2077L1648.9 2073.9L1646.4 2071.4L1643.4 2069.6L1640.1 2068.6L1636.5 2068.5L1633.1 2069.3L1630.9 2070.4L1628.2 2072.6L1626.1 2075.4L1623.1 2084.6L1621.2 2088L1618.3 2090.5L1616.5 2091.2L1612.7 2091.7L1610.8 2091.3L1605.4 2089.8L1601.9 2088.1L1600.5 2086.8L1598.6 2083.5L1598 2079.7L1600.2 2070L1600.4 2067.4L1599.8 2064L1597.8 2059.8L1595.4 2057.3L1592.4 2055.4L1589 2054.5L1585.5 2054.4L1582.1 2055.2L1579.9 2056.3L1577.1 2058.5L1575.4 2060.8L1573.8 2064.6L1572.3 2075L1571.5 2076.8L1569 2079.8L1567.4 2080.8L1563.7 2081.9L1554.4 2081.1L1551 2079.3L1549.6 2078L1547.6 2074.6L1547.1 2070.8L1547.6 2061.6L1547.1 2059.2L1545.7 2056L1543.4 2053.2L1541.2 2051.5L1538 2050.1L1535.6 2049.6L1532.1 2049.7L1528.7 2050.7L1525.7 2052.5L1523.3 2055.1L1521.6 2058.1L1520.8 2060.9L1521.1 2070.8L1520.6 2074.6L1518.7 2078L1517.3 2079.3L1513.9 2081L1512 2081.4L1506.5 2081.9L1502.7 2081.5L1500.9 2080.8L1497.8 2078.4L1496 2075L1494.7 2065.6L1494 2062.9L1492.3 2059.8L1489.3 2056.8L1485.2 2054.8L1481.7 2054.2L1478.2 2054.6L1474.9 2055.9L1472.9 2057.2L1470.5 2059.8L1469.1 2062.3L1468.3 2064.5L1467.9 2067.4L1468.1 2070.1L1470.3 2079.6L1470.2 2081.5L1468.9 2085.2L1467.7 2086.7L1464.7 2089.1L1455.6 2091.6L1453.7 2091.6L1450 2090.4L1447 2087.9L1445.2 2084.5L1442.1 2075.3L1440.1 2072.5L1438.3 2070.9L1435.2 2069.2L1431.7 2068.4L1428.2 2068.5L1424.8 2069.5L1421.8 2071.3L1419.4 2073.8L1417.7 2076.9L1416.9 2080.4L1416.9 2083.2L1417.4 2085.6L1421.5 2095.5L1421.6 2099.4L1421.1 2101.2L1419.1 2104.5L1417.6 2105.8L1409.2 2109.9L1405.4 2110.1L1403.5 2109.7L1400.1 2107.8L1397.7 2104.8L1393.4 2096.8L1391 2094.3L1389 2092.9L1385.7 2091.6L1382.9 2091.3L1379.4 2091.6L1376.1 2092.9L1373.3 2095L1370.7 2098.3L1369.5 2101.6L1369.1 2105.1L1369.5 2107.9L1370.2 2110.2L1376.3 2119.8L1376.9 2121.6L1377 2125.5L1376.5 2127.4L1374.4 2130.6L1366.8 2136.2L1363.1 2137.1L1361.1 2137L1357.5 2135.7L1354.6 2133.2L1349 2126.2L1346.7 2124.4L1343.5 2122.9L1340 2122.4L1336.5 2122.8L1333.2 2124L1330.4 2126.1L1328.2 2128.8L1326.8 2132.1L1326.2 2135.5L1326.4 2138L1327.4 2141.3L1328.8 2143.8L1335 2150.3L1337.1 2153.5L1337.7 2155.4L1337.7 2159.2L1336.3 2162.8L1329.8 2169.6L1326.3 2171.2L1324.4 2171.4L1322.4 2171.3L1318.8 2170L1311.4 2163.5L1306.9 2161.2L1303.4 2160.7L1301 2160.8L1297.6 2161.8L1295.1 2163.3L1292.6 2165.7L1290.7 2168.7L1289.7 2172.1L1289.7 2175.6L1290.7 2179.6L1292.6 2182.6L1295.1 2185L1302.5 2190.4L1304.6 2193.7L1305.3 2197.5L1305.1 2199.4L1303.6 2203L1300.6 2207.5L1297.9 2210.3L1296.2 2211.3L1292.4 2212.1L1290.5 2212L1286.9 2210.6L1278.7 2205.8L1275.3 2204.9L1271.8 2205L1268.4 2206L1265.4 2207.8L1263.4 2209.9L1261.5 2212.9L1260.5 2216.3L1260.4 2218.7L1260.9 2222.1L1262.3 2225.4L1264.1 2227.6L1265.9 2229.2L1274.5 2233.5L1277.7 2235.7L1278.8 2237.3L1280.2 2240.9L1280.1 2244.7L1276.4 2253.4L1273.7 2256.1L1272 2257L1270.1 2257.6L1266.3 2257.6L1256.7 2254.1L1253.3 2253.6L1250.9 2253.7L1247.5 2254.7L1245.1 2256.2L1242.5 2258.6L1240.7 2261.6L1239.7 2265L1239.6 2268.5L1240.4 2271.9L1242.1 2275L1244.5 2277.5L1247.5 2279.4L1256.4 2281.8L1259.9 2283.5L1262.5 2286.4L1263.3 2288.1L1263.9 2291.9L1261.8 2301L1259.6 2304.2L1258.1 2305.4L1254.5 2306.9L1252.6 2307L1242.8 2305.3L1238 2305.6L1235.7 2306.4L1233.2 2307.8L1231.4 2309.4L1229.7 2311.7L1228.3 2314.9L1227.7 2318.4L1228.1 2321.9L1228.9 2324.1L1230.7 2327.2L1233.2 2329.6L1236.3 2331.3Z"/>
<circle cx="1534" cy="2358.5" r="256" fill="#9ec7f0"/>
<circle cx="1534" cy="2358.5" r="24.9" fill="#70b3f5"/>
<circle cx="1534" cy="2358.5" r="7.5" fill="#fff"/>
<g transform="translate(1485.8 2408.9) scale(1)" fill="none" stroke="#6c97c2" stroke-width="18" stroke-linejoin="miter" stroke-miterlimit="10"><path d="M7.3 9H102.6M95.9 7.6L36 75M30.7 77.6H52.2C79.4 77.6 101.5 95.6 101.5 117.85C101.5 140.1 79.4 158.1 52.2 158.1C33 158.1 16 152 4.2 142.8"/></g>
<text font-family="Liberation Sans, sans-serif" font-size="58" fill="#0b3a70" stroke="#0b3a70" stroke-width="1.1" letter-spacing="2.25" text-anchor="middle"><textPath href="#tp_blue" startOffset="50.208%">Model Building</textPath></text>
<path fill="#fff" d="M599.4 2345.7L608.7 2345.9L612 2347.7L613.8 2351L613.5 2357.9L612.1 2360L610.1 2361.5L597.2 2362.7L593.1 2364.4L589.7 2366.8L586.7 2370.5L584.8 2375.1L584.3 2379.5L585 2384.2L586.7 2388L588.9 2390.8L591.4 2393L595.1 2395L601.6 2396.2L612.1 2394.8L615.6 2396L617.9 2398.9L619 2405L617.9 2408.6L616.2 2410.4L603.7 2413.8L600.4 2415.7L597.4 2418.6L595 2422.4L594 2425.5L593.5 2429.9L594.3 2434.3L596 2438.1L598.7 2441.6L601.7 2443.9L605.6 2445.6L608.8 2446.3L613 2446.2L625.1 2442.8L628.6 2444.1L630.3 2445.9L632.3 2451.3L632.2 2453.8L631.2 2456.1L629.4 2457.8L618.1 2462.9L615.6 2465.1L613 2468.7L611.7 2472L611.1 2476.2L612.1 2482.7L614.4 2486.8L617.3 2489.8L620 2491.7L624.2 2493.3L628.4 2493.7L632.7 2493L644.7 2487.5L648.3 2488.1L651.2 2490.8L653.7 2496.2L653.2 2499.9L651.7 2501.9L641.2 2509.2L638.7 2512.8L636.9 2518L636.8 2522.7L637.8 2527L640.4 2531.4L643.6 2534.5L649.8 2537.4L653.3 2537.8L657.5 2537.4L661.8 2535.7L670.7 2529L673.1 2528.3L676.8 2529.1L680.7 2532.9L682.3 2536.5L681.6 2540.1L672.4 2549.4L670.5 2552.7L669.3 2556.9L669.2 2561.1L669.8 2564.4L671.5 2568.3L674.3 2571.7L677.3 2574L681.2 2575.7L685.5 2576.5L688.9 2576.2L692.9 2575L696.2 2573.2L705.4 2564L709.1 2563.4L712.6 2565L716.9 2569.2L717.6 2572.8L716.1 2576.4L710.5 2583.7L708.5 2588.5L708.1 2592L708.5 2596.2L711.4 2602.4L714.5 2605.6L718.9 2608.2L723.2 2609.2L727.8 2609.1L733.1 2607.3L736.7 2604.8L743.9 2594.3L746 2592.9L749.6 2592.3L754.6 2594.6L757.3 2597.5L757.9 2601.1L752.3 2613.1L751.7 2617.5L752.1 2621.7L753.2 2624.8L755.5 2628.6L758.6 2631.5L762.7 2633.7L766.8 2634.7L770.5 2634.7L774.6 2633.7L777.6 2632.3L780.4 2630.1L783.1 2626.8L788.4 2615.6L790.4 2614.2L794.1 2613.7L799.9 2615.8L802.4 2618.6L803 2622.3L799.6 2633.8L799.9 2639.7L801.5 2643.7L803.3 2646.4L806.4 2649.3L810.2 2651.5L814.5 2652.5L819 2652.4L822.6 2651.5L826.5 2649.3L829.7 2646.2L831.9 2642.7L835.5 2630L838.3 2627.7L842.2 2627.3L847.5 2628.8L849.9 2631.6L850.5 2634.1L849.2 2646.8L850.5 2651.7L852.8 2655.5L856 2658.6L860.1 2660.8L865.5 2661.9L869.9 2661.5L876.1 2658.6L880.9 2653.1L882.8 2647.7L883.3 2638.8L884.5 2635.1L886.3 2633.4L888.6 2632.5L894.8 2632.5L898.1 2634.3L899.5 2636.4L900.5 2649.5L903.4 2655.7L906.3 2658.7L909 2660.6L913 2662.1L917.4 2662.6L921.1 2662.1L925.2 2660.5L928.8 2657.8L931.6 2654.4L933.3 2650.5L933.9 2647.3L933.1 2633.9L934.1 2631.6L937.1 2629.4L942.7 2628.5L945.2 2629.1L947.2 2630.5L948.6 2632.6L951.4 2644.6L953.6 2648.2L957 2651.4L960.7 2653.4L964.3 2654.4L968.6 2654.5L971.8 2653.9L975.7 2652.2L978.7 2649.9L981.3 2646.6L982.8 2643.6L983.8 2639.5L983.8 2635.7L980.7 2623.4L982 2619.9L983.9 2618.3L989.8 2616.3L993.5 2616.8L996.2 2619.3L1000.3 2629.3L1004.5 2634.3L1008.3 2636.6L1012.4 2637.8L1015.7 2638L1020 2637.3L1023.9 2635.6L1027.4 2632.8L1030 2629.3L1031.6 2625.1L1032.1 2621.4L1031.6 2617L1026.3 2604.6L1027 2601L1029.8 2598.3L1034.8 2596L1038.5 2596.7L1040.4 2598.2L1045.3 2606.3L1047.6 2609L1051.2 2611.6L1055.5 2613.3L1059.9 2613.7L1065.3 2612.6L1069.4 2610.4L1072.6 2607.3L1075.8 2600.8L1076.1 2594L1074.3 2588.7L1068 2579.8L1067.3 2577.4L1068.2 2573.8L1072.5 2569.7L1076.1 2568.2L1079.8 2568.9L1089.1 2578.6L1092.4 2580.5L1096.4 2581.6L1099.7 2581.9L1104.1 2581.1L1108 2579.4L1111.6 2576.5L1114 2573.1L1115.5 2569.6L1116.2 2565.4L1115.9 2562.1L1114.7 2558.1L1112.9 2554.8L1104.1 2545.7L1103.6 2542L1104.4 2539.6L1108.2 2535.4L1110.4 2534.3L1112.9 2534.1L1115.3 2534.8L1123.9 2541.6L1128.8 2543.6L1135.4 2543.8L1139.4 2542.6L1142.5 2540.9L1145.9 2537.7L1148.2 2533.9L1149.4 2529.6L1149.4 2524.5L1148.2 2520.3L1145.8 2516.3L1142.6 2513.3L1135.1 2508.3L1133.6 2506.2L1133.2 2502.5L1135.9 2497.2L1138.8 2494.6L1142.5 2494L1154.5 2499.9L1158.8 2500.6L1162.2 2500.4L1166.2 2499.2L1170 2496.9L1173.1 2493.8L1175.3 2489.7L1176.3 2485.6L1176.2 2481.1L1175.2 2477.5L1173.2 2473.8L1168.2 2469.1L1158.5 2464.7L1156.2 2461.8L1155.8 2458.1L1157.9 2452.9L1160.8 2450.4L1163.2 2449.9L1175.4 2453.6L1178.7 2453.8L1182.8 2453.1L1186.3 2451.7L1189.7 2449.2L1191.9 2446.7L1193.9 2443L1195 2438.7L1195 2434.9L1193.9 2430.6L1191.8 2426.7L1188.7 2423.5L1185.1 2421.3L1173 2417.6L1170.7 2414.7L1170.4 2410.8L1172.2 2405.1L1175 2402.7L1177.5 2402.2L1186.7 2403.8L1190.6 2403.8L1195.5 2402.5L1199.3 2400.2L1202.4 2397L1204.6 2392.9L1205.6 2388.6L1205.2 2383.1L1202.4 2376.8L1196.9 2372L1192.6 2370.4L1181.5 2369.3L1179.3 2368.3L1177 2365.3L1176.8 2359.8L1178 2356.1L1180.9 2353.8L1194.4 2353L1197.6 2351.9L1201.1 2349.7L1203.8 2347.1L1206 2343.5L1207.1 2340.3L1207.5 2336.1L1206.8 2331.5L1204.2 2326.4L1200.6 2322.8L1194.4 2319.3L1192.4 2315.9L1192.3 2313.3L1193.3 2310.9L1199.2 2305.1L1202.1 2298.9L1202.5 2295.3L1202.1 2291.2L1199.4 2285.1L1195.5 2281.2L1190.3 2278.7L1183.9 2278.1L1172.1 2280.5L1168.7 2278.9L1166.7 2275.7L1166 2271.6L1167.5 2268.2L1170.8 2266.1L1179.3 2263.4L1184 2260.3L1187.9 2254.7L1189.3 2248.2L1188.9 2243.8L1187.3 2239.9L1185.5 2237.1L1182.3 2234.1L1178.6 2232.1L1174.9 2231.1L1170.7 2231L1166.3 2231.8L1163.8 2231.4L1161.6 2230.1L1160 2228L1159.6 2224.2L1160.5 2221.8L1166.1 2216.4L1169.2 2210.5L1169.7 2204.2L1168.3 2198.8L1166.1 2195.2L1162.9 2192.2L1159.6 2190.3L1155.4 2189L1151 2189L1146.9 2189.9L1135.4 2196.3L1131.7 2195.9L1128.7 2193.5L1126.4 2189.1L1126.6 2185.4L1128 2183.2L1135.4 2177.7L1138 2175.1L1140.5 2170.7L1141.6 2166.4L1141.5 2162L1140.2 2157.5L1137.8 2153.8L1133.7 2150.1L1127.3 2147.7L1120 2148.2L1114.6 2150.9L1107.1 2157.5L1103.5 2158.5L1100 2157.3L1095.3 2152.5L1094.2 2149L1094.7 2146.5L1103.3 2136.5L1105.7 2130.1L1105.8 2125.9L1105.1 2122.6L1103.4 2118.8L1100.7 2115.3L1097.6 2113L1093.6 2111.2L1089.2 2110.6L1084.8 2111.1L1080.9 2112.6L1078.1 2114.4L1069.3 2124.4L1066.9 2125.3L1063.2 2124.7L1059.1 2121.2L1058.1 2117.6L1058.7 2115.2L1064.8 2105.7L1066.2 2100.6L1065.6 2093.7L1063.9 2089.9L1061.8 2087.1L1058.1 2084.1L1054.3 2082.4L1049.9 2081.7L1046.6 2081.9L1041.4 2083.7L1037.6 2086.4L1034.7 2090.1L1030.4 2098L1028.5 2099.6L1026.1 2100.3L1023.6 2100.1L1014.9 2096L1011.9 2093.4L1011 2089.8L1015.4 2078L1015.9 2073.8L1015.2 2069.4L1013.4 2065.3L1010.7 2061.9L1007.7 2059.6L1003.6 2057.8L999.4 2057.1L996.1 2057.4L992.1 2058.6L988.3 2060.8L983.9 2066.1L980.1 2077L978.6 2078.9L976.4 2080.1L972.5 2080.2L957.9 2076.3L955.9 2074.8L954.2 2071.5L956.1 2059L954.6 2051.8L952.7 2048.6L949.8 2045.5L947.1 2043.7L943.2 2042.2L939.4 2041.7L935 2042.2L930.9 2043.8L927.5 2046.3L924.5 2049.9L922.8 2053.7L920.9 2066.5L919.3 2068.5L917.1 2069.7L913.2 2069.8L910 2067.9L908.8 2065.7L908.6 2052.9L907.6 2049.2L905.6 2045.5L902.6 2042.3L899.8 2040.4L895.9 2038.9L891.5 2038.4L887.7 2038.9L883.6 2040.6L880 2043.2L877.4 2046.5L875.9 2049.4L874.9 2053.5L875.1 2066.1L873.9 2068.3L871.9 2069.9L867.5 2070.6L865.1 2069.9L863.2 2068.3L861.7 2064.7L860.6 2055.7L858.5 2050.9L856.3 2048.1L853.1 2045.5L846.6 2043.1L842.2 2043L837.9 2044.1L834 2046.2L830.4 2049.8L828.2 2053.9L827.1 2059.3L829.4 2071.9L829 2074.4L827.7 2076.5L825.7 2078L819.8 2079.8L815.9 2079.7L812.8 2077.6L808.3 2065.6L806.5 2062.8L803.4 2059.9L800.2 2058L796.1 2056.8L792.8 2056.6L788.7 2057.3L784.6 2059L781.6 2061.3L778.8 2064.8L777 2068.9L776.4 2073.2L776.8 2077.4L781.2 2089.2L780.2 2092.8L777.3 2095.4L771.1 2098.2L768.6 2098.3L766.3 2097.5L764.4 2095.9L760 2087.6L757.7 2084.5L753.6 2081.4L749.5 2079.8L745.1 2079.3L740.7 2080L736.7 2081.7L733.2 2084.5L729.5 2090.3L728.6 2093.7L728.5 2098L730.4 2104.3L735.9 2112.7L736.4 2115.1L735.9 2117.6L733.5 2120.6L718.3 2131.9L715.9 2132.7L712.2 2131.9L703.3 2122.6L699.7 2120.4L696.6 2119.3L692.4 2118.9L688 2119.5L684 2121.3L680.5 2124.1L678.2 2127.1L676.5 2130.9L675.8 2134.2L675.9 2138.4L676.9 2142L678.9 2145.7L687.7 2155L688.2 2158.7L686.5 2162.2L681.3 2167.9L677.8 2169.3L674.2 2168.5L665.9 2161.9L660.8 2159.8L654.2 2159.6L650.7 2160.6L647.1 2162.6L643.7 2165.8L641.4 2169.6L640.1 2174.5L640.2 2179.1L642 2184.4L644.5 2188L655.5 2196.2L656.5 2198.4L656.6 2200.9L654.9 2204.6L652 2207.2L648.3 2207.8L636.3 2201.9L632 2201.2L628.6 2201.4L624.6 2202.6L620.8 2204.9L617.7 2208L615.6 2211.9L614.6 2215.6L614.5 2220L615.6 2224.3L617.6 2228L622.6 2232.7L632.3 2237.1L634.6 2240L635 2243.7L629.6 2257.7L626.9 2260.2L624.5 2260.9L612.5 2257.6L605.3 2258.1L601.8 2259.6L598.4 2262L595.5 2265.5L594.1 2268.4L593.1 2272.5L593.2 2277L594.4 2281.2L596.7 2285L599.4 2287.7L603.2 2290L615.7 2293.4L618.1 2296.3L618.6 2298.7L616.9 2308.7L614.7 2311.7L611.2 2312.9L600.9 2311.8L594.8 2312.9L589 2316.5L584.9 2322.5L583.9 2326.2L583.8 2330.4L584.5 2333.7L586.3 2337.7L589 2341L592 2343.3L595.8 2345Z"/>
<path fill="#cee652" d="M599.7 2342.2L609.4 2342.5L613 2344L614.5 2345.2L615.7 2346.7L617.2 2350.3L617.3 2357.3L615.9 2360.9L613.2 2363.7L611.5 2364.7L607.8 2365.5L598.1 2366.1L594.8 2367.4L592 2369.5L589.4 2372.8L588.2 2376L587.8 2379.5L588.7 2384.1L589.8 2386.2L592 2389L594.2 2390.7L597.5 2392.2L601.6 2392.7L612.2 2391.3L614.1 2391.6L617.6 2393.1L619.1 2394.4L621.2 2397.7L622.5 2405L622.3 2407L620.8 2410.5L618.1 2413.3L614.6 2414.8L605.6 2416.8L602.6 2418.5L600.7 2420.1L598.7 2422.9L597.4 2426.2L597 2429.7L597.6 2433.2L599 2436.4L601.2 2439.1L603.5 2440.9L606.7 2442.3L610.2 2442.9L612.6 2442.7L621.5 2439.8L625.3 2439.3L627.2 2439.6L630.7 2441.3L633.3 2444.1L635.7 2450.7L635.9 2452.6L635 2456.4L634.1 2458.1L631.3 2460.8L621.5 2464.9L617.5 2468.3L615.7 2471.3L614.7 2474.6L614.6 2478.2L615.4 2481.6L617.1 2484.7L619.6 2487.2L622.6 2489L625.9 2490L628.4 2490.2L631.8 2489.7L640.6 2485.2L644.3 2484L646.2 2484L649.9 2485L653 2487.4L654.1 2488.9L656.7 2493.8L657.2 2495.7L657.3 2497.7L656.4 2501.4L654.1 2504.5L645.7 2509.9L643.9 2511.5L641.8 2514.4L640.3 2518.7L640.2 2522.2L641.3 2526.3L643.1 2529.3L645.7 2531.7L648.8 2533.4L651.6 2534.1L654 2534.3L656.8 2533.9L660.7 2532.3L669.1 2525.9L672.8 2524.8L674.7 2524.8L678.4 2525.9L680.1 2527L683.4 2530.8L685.3 2534.1L685.8 2536L685.5 2539.9L684.8 2541.7L682.4 2544.8L675.2 2551.5L673.8 2554L672.8 2557.4L672.6 2559.8L673.2 2563.3L674.6 2566.5L676.8 2569.2L679.1 2571L682.3 2572.4L685.8 2573L688.2 2572.8L690.9 2572.1L694 2570.4L700.8 2563.2L703.8 2560.9L707.6 2559.8L709.5 2559.9L713.2 2561.1L714.8 2562.2L718.9 2565.9L720 2567.5L720.7 2569.3L721.1 2573.2L720 2576.9L713.9 2584.8L712 2589.2L711.6 2592L712 2595.5L712.7 2597.8L714.2 2600.3L716.6 2602.9L720.2 2604.9L724.7 2605.8L728.2 2605.5L731.5 2604.2L734.4 2602.1L736.1 2600.1L741.4 2592L744.5 2589.7L748.2 2588.7L750.1 2588.8L752 2589.3L756.5 2591.7L759.4 2594.2L760.4 2595.9L761.5 2599.6L761.4 2601.5L760.2 2605.2L755.7 2614L755.2 2617.5L755.3 2619.9L756.3 2623.3L758.2 2626.3L760.7 2628.7L763.8 2630.4L766.6 2631.2L770.1 2631.2L773.5 2630.4L775.7 2629.3L778.4 2627.1L780.2 2624.9L783.7 2616.4L785.8 2613.1L789 2610.9L792.8 2610.1L794.7 2610.2L801.7 2612.8L803.3 2614L805.6 2617.1L806.5 2620.8L806.4 2622.8L803.4 2632.3L803 2635.3L803.1 2637.7L804.1 2641.1L805.9 2644.1L808.5 2646.5L811.6 2648.2L815 2649.1L818.5 2649L821.9 2648L824.9 2646.1L826.9 2644.1L828.8 2641.1L831 2631.6L832.5 2628.1L835.3 2625.4L837 2624.4L840.8 2623.7L842.7 2623.9L847.7 2625L849.4 2625.8L850.9 2627L853.1 2630.2L854 2634L852.6 2643.6L852.6 2646.4L853.7 2650.4L855.6 2653.4L859 2656.4L862.2 2657.9L865.7 2658.4L869.2 2658L872.5 2656.8L874.5 2655.4L876.5 2653.4L877.9 2651.4L879 2648.7L879.5 2646.3L880 2636.6L881.6 2633L884.4 2630.4L886.1 2629.5L888 2629L893.6 2628.9L895.5 2629.1L899.1 2630.6L900.6 2631.8L902.7 2635L903.5 2638.8L903.6 2646.4L903.9 2648.8L904.7 2651.1L906.5 2654.1L908.6 2656.1L911.6 2657.9L915 2658.9L917.4 2659.1L920.2 2658.7L923.5 2657.4L926.3 2655.4L928.6 2652.6L930 2649.4L930.5 2645.9L929.4 2636.9L929.7 2633L931.3 2629.5L932.6 2628.1L934.2 2627L937.8 2625.6L942.8 2625L944.8 2625.3L946.6 2625.9L949.8 2628.1L951.9 2631.3L953.8 2641L956 2645.6L957.6 2647.4L959.9 2649.1L962 2650.2L965.5 2651L969 2650.9L973.3 2649.5L976.2 2647.4L978.4 2644.6L980 2640.8L980.4 2637.3L979.8 2633.9L977.2 2625L977.5 2621.2L978.2 2619.4L980.6 2616.3L982.2 2615.2L987.4 2613.2L991.2 2612.7L993.1 2613L995 2613.6L998.1 2615.9L1000.1 2619.2L1003.6 2628.1L1005.8 2630.8L1008.7 2632.9L1011.9 2634.2L1015.4 2634.5L1018.3 2634.2L1021.6 2632.9L1024.4 2630.8L1026.6 2628.1L1028.1 2624.9L1028.6 2621.4L1028.4 2619L1027.7 2616.2L1023.1 2606.9L1022.8 2605L1023.2 2601.1L1025 2597.7L1026.3 2596.3L1032.5 2593L1036.3 2592.5L1038.2 2592.8L1041.7 2594.6L1044.2 2597.5L1048.8 2605.1L1050.9 2607.2L1053.9 2609.1L1057.3 2610.1L1059.7 2610.2L1063.2 2609.7L1066.4 2608.3L1069.1 2606L1071.2 2603.2L1072.5 2599.9L1072.8 2595.3L1072.3 2592.9L1071.2 2590.3L1064.8 2581.4L1063.8 2577.7L1063.9 2575.7L1064.3 2573.8L1066.2 2570.5L1072.1 2565.8L1073.8 2565.1L1077.7 2564.7L1081.4 2565.8L1084.4 2568.2L1090.7 2575.4L1092.7 2576.7L1096 2578L1099.5 2578.4L1103 2577.8L1106.2 2576.4L1108.9 2574.2L1111 2571.3L1112.1 2568.7L1112.6 2566.3L1112.5 2562.8L1111.8 2560L1110.1 2556.9L1103.2 2550.3L1101 2547.2L1100.3 2545.3L1100.1 2541.5L1100.6 2539.6L1102.6 2536.3L1106 2532.6L1107.7 2531.6L1109.5 2530.9L1113.4 2530.6L1117 2531.8L1124.8 2538.1L1128.8 2540L1132.3 2540.6L1134.7 2540.4L1138.1 2539.4L1140.6 2538L1143.1 2535.5L1145 2532.5L1146 2529.2L1146 2525L1144.5 2520.6L1142.4 2517.8L1132.6 2510.8L1130.4 2507.6L1129.6 2503.9L1129.7 2501.9L1130.2 2500L1133 2495.2L1134.2 2493.7L1137.3 2491.4L1141 2490.4L1142.9 2490.5L1146.6 2491.8L1154.5 2496.2L1158 2497.1L1161.5 2497L1164.9 2496L1167.9 2494.2L1170.3 2491.6L1172 2488.5L1172.8 2485.1L1172.7 2481.6L1172 2478.8L1170.3 2475.7L1168.7 2473.9L1166.4 2472.2L1156.6 2467.6L1155.1 2466.4L1152.9 2463.2L1152.4 2461.3L1152.4 2457.4L1155 2451L1156.2 2449.4L1159.3 2447.2L1163.1 2446.3L1166.9 2447L1176.1 2450.1L1178.5 2450.3L1181.3 2449.9L1184.6 2448.6L1186.6 2447.3L1189 2444.7L1190.7 2441.7L1191.5 2438.2L1191.5 2435.4L1190.7 2431.9L1189 2428.9L1186.6 2426.3L1183.6 2424.5L1174.5 2422.1L1171 2420.5L1169.5 2419.2L1167.4 2416L1166.8 2412.2L1167 2410.2L1168.3 2404.8L1169.2 2403.1L1172 2400.4L1173.7 2399.5L1177.5 2398.7L1187 2400.3L1190.1 2400.3L1193.6 2399.5L1196.6 2397.8L1199.2 2395.4L1201.3 2391.8L1202.2 2387.2L1201.8 2383.7L1200.5 2380.5L1199.2 2378.4L1197.2 2376.4L1195.2 2375.1L1190.8 2373.6L1180.6 2372.8L1177.2 2371.1L1175.7 2369.8L1173.7 2366.5L1173.3 2364.6L1173.3 2359.5L1173.5 2357.6L1175.1 2354.1L1176.3 2352.6L1179.6 2350.5L1183.4 2349.8L1192.6 2349.8L1195.4 2349L1198.5 2347.4L1201 2344.9L1202.4 2342.9L1203.7 2339.6L1204 2336.1L1203.1 2331.6L1201 2328L1198.5 2325.6L1192 2321.9L1189.7 2318.7L1189 2316.8L1188.9 2312.7L1190.4 2309L1191.6 2307.4L1196.1 2303.5L1197.4 2301.5L1198.7 2298.2L1199 2295.3L1198.7 2291.8L1197.9 2289.6L1196.5 2287.1L1194.9 2285.3L1192.6 2283.5L1190.4 2282.4L1187.7 2281.7L1183 2281.8L1173.6 2284L1169.7 2283.5L1166.4 2281.6L1165.1 2280.2L1163.3 2276.8L1162.5 2273.2L1162.5 2271.3L1163.7 2267.6L1164.8 2266L1167.8 2263.5L1177.3 2260.4L1180.8 2258.4L1182.9 2256.4L1184.2 2254.4L1185.5 2251.1L1185.8 2248.2L1185.5 2244.7L1184.2 2241.4L1182.1 2238.6L1179.4 2236.4L1176.2 2235L1173.8 2234.5L1170.9 2234.5L1166.6 2235.3L1162.6 2234.7L1159.2 2232.7L1156.8 2229.4L1156 2225.5L1156.7 2221.6L1158.8 2218.3L1162.1 2215.6L1163.7 2213.8L1165.8 2209.6L1166.2 2207.3L1166.2 2204.4L1165.2 2200.4L1163.3 2197.4L1160.8 2194.9L1157.7 2193.3L1154.3 2192.4L1150.8 2192.5L1148 2193.3L1139.7 2198.3L1136.1 2199.8L1134.2 2199.9L1130.4 2199.2L1127.2 2197L1125.9 2195.6L1123.5 2191.7L1122.9 2189.8L1122.7 2187.9L1123.3 2184.1L1125.4 2180.8L1133.3 2175L1135.2 2173L1137 2170L1138 2166.6L1138.1 2163.1L1137 2159.1L1135.2 2156.1L1131.7 2153L1129.6 2152L1126.8 2151.2L1124.4 2151.1L1120.9 2151.6L1118.3 2152.7L1116.2 2154.1L1108.9 2160.5L1105.3 2161.9L1103.4 2162L1099.6 2161.2L1098 2160.2L1092.4 2154.5L1091.5 2152.8L1090.7 2149L1091.5 2145.2L1093.6 2141.9L1099.7 2135.6L1101.2 2133L1102.2 2129.6L1102.3 2126.1L1101.8 2123.7L1100.4 2120.5L1098.2 2117.8L1095.9 2116L1092.7 2114.6L1089.2 2114.1L1085.7 2114.4L1082.4 2115.7L1079.6 2117.8L1073.9 2124.9L1071.1 2127.5L1069.3 2128.3L1065.5 2128.9L1063.6 2128.6L1060.1 2126.9L1057.2 2124.6L1056.1 2123.1L1054.7 2119.5L1054.6 2117.5L1055.4 2113.8L1061 2105.6L1062.7 2100.8L1062.8 2098.3L1062.5 2095.5L1061.2 2092.2L1059.9 2090.2L1057.3 2087.8L1054.2 2086.1L1050.8 2085.3L1047.3 2085.4L1042.9 2086.8L1040.1 2088.9L1037.6 2092.1L1033.1 2100.2L1030.2 2102.7L1028.4 2103.4L1026.5 2103.8L1022.6 2103.5L1013.2 2099.1L1010.1 2096.8L1008.9 2095.3L1007.6 2091.7L1007.5 2089.7L1008.3 2086L1012 2077.3L1012.4 2073.8L1011.8 2070.3L1010.4 2067.1L1008.2 2064.4L1005.9 2062.6L1002.7 2061.2L999.2 2060.6L995.7 2061L992.4 2062.3L989.6 2064.4L988 2066.2L986.6 2068.7L983.2 2078.6L980.8 2081.6L977.4 2083.5L975.5 2083.9L971.7 2083.6L956.5 2079.5L953.3 2077.3L952.1 2075.7L950.7 2072.1L950.8 2068.3L952.6 2059L952.2 2055.5L951.4 2053.2L950 2050.7L947.5 2048.2L945.5 2046.8L942.3 2045.5L939.4 2045.2L935.9 2045.5L932.6 2046.8L929.8 2048.9L927.6 2051.6L926.1 2054.8L924.7 2066.3L923 2069.8L920 2072.3L918.3 2073.1L914.4 2073.6L912.3 2073.2L910.5 2072.5L907.4 2070.2L905.4 2066.9L904.9 2063L905.2 2054L904.4 2050.6L903.3 2048.4L901.1 2045.7L898.2 2043.6L895 2042.3L891.5 2041.9L888 2042.5L884.8 2043.9L882 2046.1L880.3 2048.4L878.9 2051.6L878.4 2054L878.9 2063.4L878.4 2067.2L876.5 2070.6L873.5 2073L869.8 2074.1L867.2 2074.1L865.3 2073.8L861.9 2071.9L859.4 2069L858.6 2067.2L857.3 2057.3L855.6 2052.9L853.8 2050.6L851.1 2048.4L848.9 2047.3L846.2 2046.6L842 2046.6L838.6 2047.6L835.6 2049.4L833.2 2051.9L831.2 2056.1L830.6 2059.6L830.8 2062.2L832.9 2071.7L832.3 2075.6L830.3 2078.9L828.9 2080.2L825.4 2081.9L820.6 2083.2L816.7 2083.5L814.8 2083.1L813 2082.3L810.1 2079.8L808.3 2076.4L805.2 2067.1L803.1 2064.3L801.3 2062.7L798.2 2061L795.4 2060.3L793 2060.1L789.6 2060.6L786.3 2062.1L784.1 2063.8L781.9 2066.6L780.4 2069.8L779.9 2073.2L780.3 2076.7L783.8 2085.4L784.7 2089.1L784.1 2092.9L783.2 2094.7L782 2096.2L778.9 2098.5L773.8 2100.9L770.1 2101.9L768.2 2101.8L764.5 2100.6L761.6 2098L757.1 2089.5L755.2 2087L751.9 2084.5L748.6 2083.2L745.1 2082.8L741.6 2083.4L738.4 2084.8L735.7 2087L733.9 2089.3L732.8 2091.4L732.1 2094.2L732 2097.7L732.5 2100.1L733.6 2102.7L739.1 2111.3L739.9 2115.1L739.2 2118.9L738.3 2120.6L735.6 2123.4L719.9 2135.1L718.1 2135.8L714.3 2136.2L710.5 2135L707.5 2132.6L701.2 2125.3L699.2 2124L695.9 2122.7L692.4 2122.4L688.9 2122.9L685.7 2124.3L683 2126.5L681.2 2128.8L679.8 2132L679.3 2135.5L679.4 2137.9L680.4 2141.3L681.8 2143.8L688.6 2150.4L690.9 2153.5L691.8 2157.3L691.7 2159.2L691.2 2161.1L689.2 2164.4L683.5 2170.7L681.8 2171.7L678.1 2172.8L674.3 2172.3L672.5 2171.6L664.7 2165.3L660.1 2163.3L657.3 2162.9L654.9 2163.1L652.1 2163.8L649 2165.5L646.4 2167.9L644.4 2171.5L643.5 2176L643.8 2179.5L645.1 2182.8L647.2 2185.7L649.1 2187.4L657.1 2192.7L659.3 2195.8L659.9 2197.6L660 2201.5L659.5 2203.3L657.8 2206.6L655.2 2209.4L653.5 2210.4L651.7 2211.1L647.9 2211.3L644.2 2210L636.3 2205.6L632.8 2204.7L629.3 2204.8L625.9 2205.8L622.9 2207.6L620.5 2210.2L618.8 2213.3L618.1 2216L618 2219.6L618.5 2221.9L619.9 2225.1L622.1 2227.9L624.4 2229.6L632.5 2233.2L635.7 2235.4L637.9 2238.6L638.6 2242.4L638.4 2244.4L632.7 2259.5L631.5 2261L628.4 2263.4L624.7 2264.4L622.7 2264.3L612.1 2261.1L609.6 2260.9L606.8 2261.3L603.5 2262.6L601.5 2263.9L599.1 2266.5L597.4 2269.6L596.6 2273L596.6 2276.5L597.6 2279.9L599.5 2282.9L601.5 2284.9L604.5 2286.7L614.1 2289L617.7 2290.5L620.4 2293.2L621.4 2294.9L622.2 2298.6L620.3 2309.9L619.4 2311.6L616.8 2314.5L615.2 2315.5L611.4 2316.4L601.5 2315.3L596.9 2315.8L594.3 2316.9L592.3 2318.2L590.2 2320.3L588.9 2322.3L587.8 2324.9L587.3 2328.4L587.6 2331.9L588.9 2335.2L591 2338L593.7 2340.3L596.9 2341.7Z"/>
<circle cx="895.4" cy="2350.9" r="256" fill="#dfeaa4"/>
<circle cx="895.4" cy="2350.9" r="24.9" fill="#cee652"/>
<circle cx="895.4" cy="2350.9" r="7.5" fill="#fff"/>
<g transform="translate(829.4 2408.9) scale(1)" fill="none" stroke="#b8c479" stroke-width="18" stroke-linejoin="miter" stroke-miterlimit="10"><path fill="#b8c479" stroke="none" d="M58.9 0H77.9L20.9 104.3H122.6V122H0V104.3Z"/><path d="M88.7 60.3V165.4"/></g>
<text font-family="Liberation Sans, sans-serif" font-size="58" fill="#5a6e10" stroke="#5a6e10" stroke-width="1.1" letter-spacing="3.49" text-anchor="middle"><textPath href="#tp_green" startOffset="49.818%">Interpret</textPath></text>
<path fill="#fff" d="M401.8 1736.2L414.4 1737.3L417.6 1739.2L419.3 1742.5L418.9 1751.8L417.6 1753.9L415.5 1755.3L402.4 1756.5L398.2 1758.1L394.8 1760.6L391.9 1764.2L390.1 1768.2L389.5 1772.6L390.1 1777.7L391.6 1781.2L394.1 1784.6L396.6 1786.7L400.3 1788.8L406.8 1789.9L417.1 1788.7L420.6 1789.9L422.9 1792.9L424.3 1800.8L423.7 1803.3L421.4 1806.1L408.8 1809.6L405.6 1811.5L402.5 1814.3L400.2 1818.1L399.1 1821.3L398.7 1825.4L399.4 1830.1L401.1 1833.9L403.4 1836.9L406.7 1839.5L409.7 1841L413.7 1842L417.5 1842L430.2 1838.6L433.6 1839.9L435.9 1843L438.1 1849.4L437.7 1853.1L435.3 1855.9L425.7 1860L420.9 1864L417.7 1870.1L417.2 1877.4L418.4 1881.6L420.7 1885.4L423.9 1888.5L428 1890.7L433.4 1891.8L437.9 1891.4L441.5 1890.1L449.5 1885.8L452 1885.5L454.4 1886.2L456.4 1887.7L459.8 1893.3L460.8 1897.1L459.6 1900.6L449.2 1908.2L446.4 1911.7L444.7 1915.5L444 1920.1L444.4 1924.3L446 1928.4L447.8 1931.2L450.9 1934.1L454.7 1936.2L459 1937.3L462.8 1937.3L468.9 1935.4L478.1 1928.5L481.8 1927.7L485.2 1929.1L490.5 1935.2L491.4 1938.9L490.8 1941.3L482.3 1949.9L480.1 1953.5L479 1956.7L478.6 1960.2L479 1964.4L480.6 1968.5L482.4 1971.3L485.5 1974.2L489.4 1976.3L493.7 1977.4L498.1 1977.3L502.4 1976.1L505.7 1974.2L515 1964.7L518.7 1964L522.2 1965.5L527.3 1969.8L528.5 1972L528.9 1974.4L528.2 1976.9L522.6 1984.5L520.9 1987.8L519.9 1992.1L520.3 1997.6L522 2002L524.6 2005.5L528 2008.3L532.1 2010.1L539.4 2010.6L545.8 2008.2L550.1 2004.4L555.7 1995.2L558.9 1993.3L562.6 1993.4L569.7 1997.2L571.3 1999.1L572.1 2002.8L566.9 2015L566.4 2018.8L566.8 2023L568.5 2027.3L570.9 2030.7L574.6 2033.6L578.4 2035.4L581.7 2036L586.1 2035.9L590.1 2034.7L593.9 2032.4L598.2 2027.3L602.2 2017.2L605 2014.7L608.6 2014.1L616.3 2016.6L618.2 2018.3L619.6 2021.7L616.7 2034L616.8 2037.6L617.7 2041.7L619.2 2044.7L622 2048.1L624.9 2050.3L628.7 2052L633.3 2052.7L637.7 2052.2L641.8 2050.6L645.4 2048L649.2 2042.5L651.9 2030.5L654.1 2027.5L657.7 2026.3L665.6 2027.4L668.7 2029.6L669.8 2031.8L669.2 2044.8L669.8 2048.1L671.6 2051.9L674.3 2055.4L677.9 2058L682 2059.6L685.8 2060.1L690.2 2059.6L694.1 2058.1L696.9 2056.3L699.8 2053.2L701.7 2049.9L702.9 2045.9L703.4 2033.5L705.7 2030.6L708 2029.5L716.1 2029.2L719.5 2030.8L721.4 2034L722.5 2044.9L724.6 2050L726.8 2052.8L730.1 2055.4L736.3 2057.8L740.9 2057.9L745.2 2056.8L749.1 2054.7L752.3 2051.6L754.8 2047.2L755.9 2042.9L755.9 2039L754.3 2029.7L754.7 2027.3L756.1 2025.2L758.2 2023.8L764.7 2022.2L768.5 2022.4L771.5 2024.6L775.8 2037.5L777.6 2040.3L780.9 2043.3L784.5 2045.3L788.8 2046.4L793.3 2046.3L797.5 2045.1L800.8 2043.2L803.9 2040.3L805.7 2037.5L807.2 2033.6L807.5 2026.7L803.6 2014.4L804.1 2011.9L806.5 2009.1L813.9 2006L817.6 2006.2L820.6 2008.5L825.9 2019L830.6 2023.4L833.6 2024.8L837.9 2025.8L842.1 2025.7L846.4 2024.5L850.2 2022.2L853.2 2019L855.4 2015.1L856.4 2011.5L856.4 2007.1L855.5 2003L849.5 1991.8L850 1988.1L852.5 1985.2L858.2 1981.6L860.7 1981.1L863.1 1981.6L865.2 1983L870.6 1990.5L873.3 1993.3L877.1 1995.6L882 1996.9L886.5 1996.8L890.7 1995.6L894.5 1993.3L897.7 1989.9L899.7 1986.2L900.7 1982.8L900.4 1975.9L897.7 1970.1L891.2 1962.5L890.3 1958.8L891.5 1955.3L897.4 1949.8L899.7 1948.9L903.4 1949.3L912.5 1957.3L916.2 1959.4L919.9 1960.4L924.1 1960.5L927.3 1959.8L931.2 1958.1L934.2 1955.8L937 1952.4L938.7 1948.3L939.4 1943.9L938.9 1939.7L937.4 1935.6L935.5 1932.8L925.7 1924L924.9 1921.6L925.5 1918L930.2 1911.5L933.6 1909.8L937.3 1910.3L945.6 1915.8L951.9 1917.8L958.7 1917.1L962.5 1915.4L965.4 1913.3L968.3 1909.7L970.1 1905.6L970.8 1901.2L970.3 1896.8L968.3 1892.1L965.5 1888.7L962.2 1886.1L954.4 1881.9L952.8 1880L952 1877.6L952.2 1875.2L955 1869.1L957.6 1866.2L961.2 1865.3L973.1 1869.8L977.3 1870.3L981.7 1869.6L985.8 1867.8L988.8 1865.5L991.6 1862.1L993.3 1858L994 1853.6L993.5 1849.4L992 1845.3L990.1 1842.5L985.2 1838.4L974.2 1834.5L971.6 1831.9L970.9 1828.2L973.1 1820.5L974.6 1818.5L978 1816.9L990.8 1819.3L997.6 1818.1L1001.4 1816L1004.5 1813.1L1006.3 1810.3L1007.9 1806.4L1008.3 1802L1007.7 1797.6L1005.9 1793.5L1003.1 1790L997.4 1786.4L985.3 1784.3L982.2 1782.2L980.9 1778.7L981.6 1770.7L983.6 1767.6L985.8 1766.3L998.3 1766.4L1002.4 1765.4L1005.4 1764L1008.6 1761.3L1011.3 1757.8L1012.7 1754.3L1013.4 1749.9L1012.9 1745.5L1011.4 1741.5L1009.5 1738.8L1006.3 1735.7L1002.6 1733.7L998.9 1732.8L986 1732.7L983.8 1731.4L981.9 1728.3L981.2 1720.2L982.6 1716.8L985.7 1714.7L997.9 1712.7L1003.5 1709.2L1006.5 1705.5L1008.2 1701.5L1008.9 1697.1L1008.4 1692.7L1006.9 1688.8L1005 1686L1002 1683.1L998.1 1680.9L991.4 1679.8L978.7 1682L975.3 1680.4L973.8 1678.4L971.7 1670.6L972.5 1667L975.1 1664.4L986.3 1660.5L991.2 1656.4L993.1 1653.6L994.6 1649.5L995.1 1645.3L994.4 1640.9L992.6 1636.8L989.9 1633.4L986.9 1631.1L982.8 1629.3L978.4 1628.6L974.2 1629.1L962.4 1633.5L958.8 1632.5L957 1630.8L953.5 1623.5L953.7 1619.8L955.8 1616.7L965.3 1611.6L969.2 1607.7L971.2 1604L972.1 1600.5L971.8 1593.7L970.2 1589.6L967.6 1586L964.1 1583.2L960.1 1581.5L955 1580.8L950.4 1581.5L946.6 1583.2L939 1588.2L936.5 1588.7L934 1588.3L931.9 1586.9L928 1581.6L926.6 1578L927.5 1574.3L937.6 1565.5L939.4 1562.8L941 1558.6L941.4 1554.4L940.8 1550L939 1546L936.2 1542.5L933.2 1540.2L929.4 1538.5L926.1 1537.8L921.9 1538L915.5 1540.3L905.5 1548.9L903 1549.4L899.5 1548.3L893.7 1542.7L892.5 1539.2L893.4 1535.5L900.1 1527.9L902.8 1522L903.1 1515.2L902.2 1511.7L900.2 1508L896.9 1504.7L893.1 1502.4L888.9 1501.1L884.7 1501L880.2 1502.1L875.8 1504.7L872.8 1507.6L867.6 1514.8L865.5 1516.1L863.1 1516.6L860.6 1516L855 1512.4L852.5 1509.5L852.1 1505.8L858.2 1494.5L859.2 1490.4L859.1 1486L858.1 1482.3L856 1478.4L852.9 1475.2L849.1 1473L844.8 1471.7L840.6 1471.6L836.3 1472.6L833.3 1474.1L829 1477.9L823.3 1488.7L820.3 1491L816.6 1491.2L809.2 1488L807.5 1486.3L806.4 1482.7L810.4 1470.2L810.2 1463.4L808.7 1459.4L806.8 1456.7L803.8 1453.8L800.5 1451.9L796.2 1450.7L791.8 1450.6L787.5 1451.6L783.8 1453.6L780.6 1456.7L778.7 1459.4L774.4 1472.1L771.4 1474.3L767.5 1474.5L761.1 1472.9L759 1471.4L757.7 1469.3L757.2 1466.9L758.9 1457.8L759 1453.7L757.9 1449.2L755.4 1444.8L752.2 1441.7L748.3 1439.6L744 1438.5L739.6 1438.6L733.1 1441L730.3 1443.1L727.7 1446.4L725.6 1451.5L724.4 1462.2L722.4 1465.4L719.1 1466.9L711 1466.5L708.7 1465.5L706.4 1462.5L706 1450L705 1446.5L703 1442.8L700 1439.6L697.2 1437.8L693.3 1436.2L689.5 1435.8L685.1 1436.2L681 1437.9L677.4 1440.5L674.8 1443.8L673.3 1446.8L672.3 1450.8L672.8 1463.9L671.6 1466.1L668.5 1468.2L660.6 1469.3L657.1 1468L654.8 1465L653.1 1455.3L650.3 1449.5L644.9 1444.7L638.3 1442.7L634.1 1442.8L629.9 1444L626.1 1446.3L622.9 1449.7L620.4 1454.6L619.7 1459.2L620 1463L622.5 1472.2L622.2 1474.7L621.1 1476.9L619.1 1478.5L612.8 1480.6L608.9 1480.8L605.8 1478.8L600.6 1466.7L598 1463.4L594.4 1460.8L590.3 1459.2L586.5 1458.7L582.1 1459.2L578.2 1460.7L575.4 1462.5L572.4 1465.8L570.4 1469.5L569.3 1473.8L569.7 1479.8L574.5 1490.6L574.4 1494.3L572.3 1497.4L565.2 1501.2L562.7 1501.5L559.2 1500.1L552.6 1489.8L550 1487.3L546.4 1485.1L543.3 1484L538.8 1483.6L534.7 1484.2L531.2 1485.7L527.8 1488.1L525.6 1490.6L523.6 1494.3L522.7 1497.8L522.5 1502.4L523.6 1506.7L530.6 1517.3L531.2 1519.8L530.9 1522.3L529.6 1524.4L523.3 1529.4L520.9 1530.1L517.3 1529.4L508.4 1520.1L504.8 1517.9L501.7 1516.8L497.5 1516.4L493.1 1517L489 1518.8L485.6 1521.6L483.3 1524.6L481.6 1528.4L480.8 1532.8L481.1 1536.1L482 1539.5L484 1543.2L492.8 1552.5L493.4 1555L492.5 1558.6L487.1 1564.6L483.6 1566L480 1565.2L471.7 1558.6L466.6 1556.5L463.1 1556.1L458.9 1556.5L452.7 1559.4L449.5 1562.5L447.2 1566.3L445.9 1571.2L446 1575.6L447.2 1579.9L449.6 1583.8L452.8 1586.8L460.4 1591.9L461.9 1593.9L462.4 1596.4L462 1598.9L458.7 1604.6L455.8 1607.3L452.2 1607.9L440.3 1602.1L437 1601.5L432.6 1601.6L428.5 1602.8L424.7 1605.1L421.7 1608.3L419.5 1612.2L418.5 1615.9L418.5 1620.3L419.5 1624.6L421.5 1628.3L426.6 1632.9L436.4 1637.3L438.8 1640.2L439.2 1643.9L436.3 1651.4L433.6 1653.9L431.1 1654.5L419 1651.1L411.8 1651.6L408.3 1653L404.9 1655.5L402.7 1658L400.6 1661.9L399.6 1666L399.7 1670.4L400.9 1674.7L403.2 1678.5L406.4 1681.6L409.7 1683.5L422 1686.9L423.7 1688.7L424.8 1692.3L423.3 1700.2L421 1703.2L417.5 1704.4L407.2 1703L401.8 1703.7L398 1705.4L395.1 1707.6L391.2 1713.2L389.9 1717.4L389.8 1721.6L390.5 1724.9L392.2 1728.7L394.5 1731.7L397.8 1734.4Z"/>
<path fill="#f0b940" d="M405.5 1733.4L415.2 1733.9L418.7 1735.5L420.2 1736.8L421.4 1738.3L422.8 1741.9L422.7 1751.2L421.3 1754.8L418.6 1757.6L416.9 1758.5L413.1 1759.3L403.3 1759.8L400 1761.1L398 1762.5L395.6 1765L393.5 1769.1L393 1772.6L393.5 1776.8L394.6 1779.4L396.7 1782.2L399.4 1784.5L401.6 1785.5L404.4 1786.3L406.8 1786.4L417.2 1785.1L421 1786.1L422.7 1787L424.1 1788.3L426.1 1791.6L427.8 1800.8L427 1804.6L424.8 1807.8L423.3 1809.1L419.8 1810.5L410.8 1812.5L407.7 1814.2L405.9 1815.8L403.8 1818.7L402.5 1821.9L402.2 1825.4L402.7 1828.9L403.8 1831.6L405.9 1834.4L408.6 1836.6L410.8 1837.7L414.2 1838.5L417.1 1838.5L426.5 1835.6L430.4 1835.1L434.1 1836.1L435.7 1837.1L437.2 1838.4L439.2 1841.7L441.6 1848.8L441.7 1850.7L440.9 1854.5L438.7 1857.6L437.2 1858.8L428 1862.7L424.2 1865.5L422.5 1867.8L421.4 1870L420.7 1872.7L420.6 1876.3L421.4 1879.7L423.5 1883.3L426 1885.7L429.1 1887.4L433.7 1888.3L437.2 1887.9L439.8 1887L448.4 1882.4L452.2 1882L456 1883L457.6 1884.1L460.1 1887L462.9 1891.7L464.2 1895.3L464.4 1897.2L463.5 1901L462.5 1902.7L459.7 1905.3L451.6 1910.7L449.4 1913.4L448 1916.6L447.5 1920.1L447.6 1922.5L448.6 1925.9L450.4 1928.9L453 1931.3L456.1 1933L459.5 1933.8L463 1933.8L465.8 1933L468 1931.9L476.4 1925.4L480.1 1924.2L482.1 1924.2L484 1924.6L487.4 1926.4L493.6 1933.5L494.4 1935.2L494.9 1939.1L493.9 1942.8L491.6 1945.9L485.1 1952.1L483.2 1955.1L482.5 1957.3L482.1 1960.2L482.5 1963.7L483.7 1967L485.1 1969L487.6 1971.4L490.7 1973.1L494.1 1973.9L497.7 1973.8L501 1972.8L504 1971L510.3 1964L513.4 1961.5L517.1 1960.5L519 1960.5L520.9 1960.9L524.4 1962.7L528.6 1966.1L531.1 1969.1L531.9 1970.9L532.4 1974.7L531.4 1978.4L524.5 1988.3L523.4 1992.3L523.5 1995.8L524.5 1999.2L526.3 2002.2L529.8 2005.3L533 2006.7L535.4 2007.2L538.9 2007.1L541.7 2006.3L544.8 2004.7L547.7 2001.7L553.1 1992.9L556.1 1990.6L558 1989.9L559.9 1989.5L563.7 1990L571.9 1994.5L573.3 1995.8L575.1 1999.2L575.6 2003.1L574.5 2006.8L570.4 2015.3L569.9 2018.8L570.2 2022.3L571.5 2025.6L573.6 2028.4L576.3 2030.6L579.5 2032L581.9 2032.5L585.4 2032.4L588.8 2031.4L591.8 2029.6L593.8 2027.6L595.2 2025.6L599.2 2015.4L600.3 2013.8L603.4 2011.5L605.2 2010.9L609.1 2010.6L618 2013.6L621 2016.1L622.8 2019.5L623.1 2021.4L622.7 2025.2L620.3 2033.7L620.2 2037.2L620.7 2039.5L622.1 2042.8L624.3 2045.5L627.2 2047.6L629.8 2048.7L633.3 2049.2L636.8 2048.8L640.1 2047.6L643.4 2045L645.1 2042.8L646.6 2039.5L648.6 2029.2L649.4 2027.5L652.1 2024.7L653.8 2023.7L657.5 2022.8L666.7 2024.1L670.1 2026L672.5 2029L673.2 2030.8L673.5 2034.7L672.7 2044.6L673.2 2046.9L674.6 2050.2L676.8 2052.9L679.6 2055L682.9 2056.2L685.8 2056.6L689.3 2056.2L692.6 2055L694.6 2053.6L697 2051.1L698.4 2048.6L699.4 2045.2L699.5 2036L700.2 2032.2L702.2 2029L705.4 2026.7L707.2 2026.1L716.5 2025.7L720.2 2027L721.8 2028.2L724.1 2031.2L724.8 2033.1L725.7 2043L726.5 2045.9L727.5 2048.1L729.3 2050.3L732 2052.5L734.2 2053.6L736.9 2054.3L741.1 2054.3L744.5 2053.4L747.5 2051.5L749.9 2049L751.6 2045.9L752.4 2042.5L752.4 2039L750.7 2029.7L751.5 2025.9L752.4 2024.2L755.1 2021.5L758.6 2019.9L764 2018.7L767.9 2018.6L769.8 2019.1L773.1 2021.1L774.3 2022.6L776 2026L778.4 2034.9L780.2 2038L782.8 2040.4L785.9 2042.1L789.3 2042.9L792.8 2042.8L796.2 2041.8L799.2 2040L801.2 2038L802.6 2036L803.8 2032.7L804.2 2029.2L803.8 2026.3L800.8 2018.1L800.1 2014.3L800.9 2010.6L803.1 2007.4L804.6 2006.1L813.2 2002.5L815.1 2002.3L818.9 2003L820.6 2003.8L823.5 2006.5L828 2015.9L829.8 2018.2L831.6 2019.8L834.7 2021.5L838.1 2022.4L841.6 2022.3L845 2021.3L848 2019.4L850.5 2016.9L852.1 2013.8L852.9 2011L853 2007.5L852.1 2004.1L847.4 1996L846 1992.4L845.9 1990.4L846.8 1986.7L849 1983.5L850.5 1982.3L855.2 1979.3L858.7 1977.8L860.7 1977.6L864.4 1978.4L867.7 1980.5L873.3 1988.3L875.5 1990.5L878.5 1992.3L882.5 1993.4L886 1993.3L889.4 1992.3L892.4 1990.5L894.8 1987.9L896.5 1984.8L897.2 1982.1L897.3 1978.6L896.9 1976.2L894.8 1972L888.2 1964.3L886.9 1960.6L886.8 1958.7L887.1 1956.7L888.7 1953.2L895.5 1946.8L897.2 1945.9L901 1945.2L904.8 1946L908 1948.2L914.4 1954.4L917 1955.9L920.3 1956.9L923.8 1957L926.2 1956.5L929.4 1955.1L931.7 1953.3L933.9 1950.6L935.3 1947.4L935.9 1943.9L935.5 1940.4L934.2 1937.1L932.2 1934.3L925.2 1928.7L922.6 1925.8L921.8 1924L921.3 1920.2L922.3 1916.4L923.3 1914.8L926.5 1910.4L929.4 1907.7L931.1 1906.9L934.9 1906.2L938.7 1907L946.9 1912.5L948.9 1913.5L952.3 1914.3L956.9 1914L960.8 1912.4L963.5 1910.2L965.6 1907.3L966.9 1904.1L967.3 1901.2L967.1 1898.8L966.4 1896L964.7 1892.9L961.1 1889.6L952.2 1884.7L949.7 1881.7L949 1880L948.5 1878.1L948.8 1874.2L951.9 1867.4L954.2 1864.3L955.8 1863.2L957.5 1862.4L961.4 1861.8L965.1 1862.7L973.8 1866.4L977.3 1866.8L980.8 1866.2L984 1864.8L986.3 1863L988.5 1860.3L989.9 1857.1L990.5 1853.6L990.1 1850.1L988.8 1846.8L986.8 1844L985 1842.4L982.5 1841L972.6 1837.6L969.6 1835.1L968.5 1833.5L967.8 1831.7L967.4 1827.9L969.9 1818.9L972.2 1815.8L973.8 1814.7L977.5 1813.4L981.3 1813.6L989.8 1815.7L992.8 1815.7L996.2 1814.9L999.3 1813.2L1001.9 1810.7L1003.2 1808.7L1004.5 1805.5L1004.8 1802L1004.3 1798.5L1002.3 1794.3L999.8 1791.8L996.8 1790L994.5 1789.2L984.2 1787.7L980.8 1785.8L979.5 1784.4L977.7 1781L977.4 1779L978.2 1769.8L980 1766.3L982.9 1763.8L984.7 1763L988.5 1762.5L997.8 1763L1001.3 1762.1L1003.4 1761.1L1006.2 1758.8L1008.2 1756L1009.3 1753.4L1009.9 1749.9L1009.5 1746.4L1008.2 1743.1L1006.2 1740.2L1003.4 1738L1000.2 1736.6L997.8 1736.1L988.7 1736.5L984.9 1736L983.1 1735.2L980.2 1732.7L978.5 1729.2L977.7 1719.8L978.8 1716.1L979.9 1714.5L982.8 1712.1L984.6 1711.3L995.2 1709.9L998.4 1708.6L1000.4 1707.3L1002.8 1704.7L1004.9 1700.6L1005.4 1697.1L1005 1693.6L1003.8 1690.3L1002.4 1688.3L999.9 1685.9L996.8 1684.2L993.4 1683.4L990.5 1683.4L982 1685.3L978.1 1685.5L976.3 1685L972.9 1683L970.6 1679.9L968.2 1670.9L968.6 1667.1L969.4 1665.3L971.9 1662.3L973.5 1661.2L983.1 1658.2L986 1656.5L987.9 1654.9L989.9 1652.1L991.2 1648.8L991.6 1645.3L991 1641.8L989.6 1638.6L987.4 1635.9L984.6 1633.8L981.3 1632.5L978.4 1632.1L974.9 1632.5L966.3 1636.1L962.5 1637L960.6 1636.8L957 1635.5L954.2 1632.9L950.1 1624.4L949.8 1622.4L950.3 1618.6L952.2 1615.3L953.6 1614L962.4 1609.3L964.7 1607.5L966.3 1605.7L967.9 1602.6L968.7 1599.9L968.8 1597.4L968.5 1594.6L967.2 1591.3L965.1 1588.5L962.4 1586.3L958.5 1584.7L953.9 1584.4L950.5 1585.2L940.3 1591.5L936.6 1592.3L932.8 1591.6L931 1590.7L928.2 1588L925 1583.5L924 1581.9L923.1 1578.1L923.2 1576.2L924.5 1572.6L927.1 1569.7L934.2 1564.1L936.3 1561.2L937.6 1557.9L937.9 1554.4L937.4 1550.9L936 1547.7L933.7 1545L931.5 1543.2L928.3 1541.8L925.9 1541.3L922.4 1541.4L919.6 1542.2L916.5 1543.9L910.1 1550L906.8 1552.1L903 1552.9L899.2 1552.1L897.5 1551.2L890.8 1544.7L889.2 1541.2L889 1539.3L889.6 1535.5L890.4 1533.7L897 1526.3L899.3 1521.7L899.8 1519.4L899.8 1516.5L898.9 1513.1L897.9 1510.9L894.8 1507.4L891.8 1505.6L888.4 1504.6L884.9 1504.5L880.9 1505.6L877.9 1507.4L875.5 1509.9L870.1 1517.3L866.8 1519.4L865 1519.9L861.1 1519.9L857.6 1518.4L852.9 1515.3L851.4 1514L849.3 1510.9L848.4 1507.1L848.6 1505.2L850 1501.6L854.9 1493.4L855.7 1490L855.6 1486.4L854.9 1483.7L853.2 1480.6L850.8 1478L847.7 1476.2L844.4 1475.2L840.9 1475.1L837.4 1475.9L834.3 1477.6L832.5 1479.2L830.8 1481.5L826.2 1490.8L823.3 1493.4L821.6 1494.3L819.7 1494.8L815.8 1494.7L807.3 1491L805.8 1489.7L803.6 1486.5L802.9 1482.7L803.6 1478.9L806.8 1470.7L807.2 1467.8L806.8 1464.3L805.5 1461L804.2 1459L802.1 1457L799.1 1455.1L795.8 1454.1L792.2 1454L788.8 1454.9L785.7 1456.6L783.2 1459L781.4 1462L778.9 1470.8L777.2 1474.2L774.3 1476.8L772.6 1477.6L768.8 1478.2L766.8 1477.9L761.6 1476.7L758 1475.2L755.3 1472.4L754.4 1470.6L753.7 1466.8L755.6 1455.1L755 1451.6L753 1447.4L750.6 1444.9L747.6 1443.1L744.2 1442.1L740 1442.1L737.2 1442.8L735.1 1443.9L732.8 1445.6L730.6 1448.4L729.5 1450.5L728.7 1453.5L727.8 1463.2L727.1 1465L724.8 1468L721.4 1470L719.5 1470.4L710.1 1470L706.6 1468.3L704 1465.5L703.1 1463.8L702.5 1460L702.5 1450.7L701.8 1447.9L700.1 1444.8L697.7 1442.2L695.6 1440.9L692.4 1439.6L689.5 1439.3L686 1439.6L682.7 1440.9L679.9 1443L677.7 1445.7L676.6 1447.9L675.8 1451.3L676.5 1461L676.2 1464.9L674.4 1468.3L671.4 1470.8L669.6 1471.6L660.4 1472.8L656.6 1471.8L655 1470.8L652.4 1468L651.5 1466.2L649.7 1456.3L647.5 1451.6L646 1449.8L643.7 1448.1L641.5 1447L638.1 1446.2L634.6 1446.2L631.2 1447.2L628.2 1449.1L625.1 1452.5L623.7 1455.8L623.2 1459.9L623.6 1463L626 1471.9L625.6 1475.7L624.9 1477.5L622.4 1480.5L619 1482.3L613.7 1484L609.9 1484.5L608 1484.2L606.2 1483.5L603.1 1481.1L601.2 1477.8L597.7 1468.7L595.9 1466.4L593.2 1464.2L590 1462.7L586.5 1462.2L583 1462.6L579.7 1463.8L576.9 1465.9L574.7 1468.7L573.3 1471.9L572.7 1475.3L572.9 1477.8L573.7 1480.7L577.9 1489.7L578.2 1493.5L577.8 1495.4L577 1497.2L574.5 1500.1L566.2 1504.6L562.4 1505L560.5 1504.6L557.1 1502.9L554.5 1499.9L549.9 1492.1L547.9 1490L544.9 1488.2L542.6 1487.4L539.1 1487.1L536.2 1487.4L532.9 1488.7L530.1 1490.8L527.9 1493.5L526.5 1496.7L525.9 1500.9L526.5 1504.3L527.6 1507L533.8 1515.8L534.7 1519.6L534.7 1521.5L534.2 1523.4L532.3 1526.7L525 1532.5L523.2 1533.2L519.3 1533.6L515.6 1532.5L512.6 1530.1L506.3 1522.9L504.3 1521.5L501 1520.2L497.5 1519.9L494 1520.4L490.8 1521.8L488.1 1524L486 1526.9L484.7 1530.2L484.3 1533L484.7 1536.5L486 1539.8L487.3 1541.8L493.7 1547.9L496 1551.1L496.9 1554.8L496.3 1558.6L495.5 1560.4L489.3 1567.4L485.8 1569.2L483.9 1569.5L482 1569.5L478.3 1568.3L470.5 1562L465.9 1560L463.1 1559.6L460.7 1559.7L457.9 1560.5L454.8 1562.2L452.3 1564.6L450.4 1567.6L449.3 1571.6L449.4 1575.1L450.9 1579.5L453 1582.4L454.9 1584.1L462.9 1589.4L465.1 1592.5L465.7 1594.4L465.8 1598.2L464.4 1601.9L461.6 1606.5L459 1609.4L457.4 1610.4L453.6 1611.4L451.7 1611.4L448 1610.1L440.3 1605.8L436.8 1605L433.3 1605.1L429.9 1606.1L426.9 1607.9L424.4 1610.4L422.8 1613.5L422 1616.3L421.9 1619.8L422.8 1623.3L423.8 1625.4L425.6 1627.7L428.3 1629.9L436.6 1633.5L439.9 1635.6L442 1638.8L442.6 1640.7L442.7 1644.5L439.4 1653.2L436.7 1656.1L435.1 1657.1L431.3 1658L429.4 1657.9L419.8 1654.8L416.8 1654.4L414.4 1654.6L411.6 1655.3L408.5 1657L406 1659.4L404.1 1662.4L403.1 1665.8L403.1 1669.3L403.9 1672.8L406 1676.4L408.5 1678.8L411 1680.2L420.4 1682.5L424 1684L426.7 1686.8L427.6 1688.5L428.3 1692.3L426.6 1701.5L425.7 1703.3L423.1 1706L421.4 1707L417.6 1707.9L407.7 1706.5L403.6 1706.9L400.3 1708.1L398.3 1709.5L396.2 1711.5L394.9 1713.5L393.8 1716.2L393.3 1719.6L393.6 1723.1L394.9 1726.4L397 1729.3L399.7 1731.5L402.9 1732.9Z"/>
<circle cx="700.9" cy="1748" r="256" fill="#f0d394"/>
<circle cx="700.9" cy="1748" r="24.9" fill="#f0b940"/>
<circle cx="700.9" cy="1748" r="7.5" fill="#fff"/>
<g transform="translate(646 1800) scale(1)" fill="none" stroke="#caab6e" stroke-width="18" stroke-linejoin="miter" stroke-miterlimit="10"><path d="M11.8 8.85H107.8M20.5 0V84M20.5 76C31 73 43 71.9 55.2 71.9C82 71.9 103.95 90.9 103.95 114.35C103.95 137.8 82 156.8 55.2 156.8C37 156.8 18 150 4.2 139.5"/></g>
<text font-family="Liberation Sans, sans-serif" font-size="58" fill="#7a5409" stroke="#7a5409" stroke-width="1.1" letter-spacing="4.76" text-anchor="middle"><textPath href="#tp_orange" startOffset="50.094%">Communicate</textPath></text>
<g opacity="0.69" fill="none" stroke="#6e6e6e" stroke-width="15">
<path d="M1288.2 1593.9 A321 321 0 1 1 1149.3 1591.4"/>
<path stroke-linejoin="miter" d="M1113.7 1578.1L1148.8 1587.7L1136.6 1619"/>
</g>
<text x="739.4" y="135.2" font-family="Liberation Sans, sans-serif" font-size="51" fill="#000" stroke="#fff" stroke-width="0.7" textLength="154.7" lengthAdjust="spacingAndGlyphs">Match</text>
<text x="576.3" y="195.1" font-family="Liberation Sans, sans-serif" font-size="51" fill="#000" stroke="#fff" stroke-width="0.7" textLength="317.2" lengthAdjust="spacingAndGlyphs">Expectations</text>
<text x="655.3" y="254.9" font-family="Liberation Sans, sans-serif" font-size="51" fill="#000" stroke="#fff" stroke-width="0.7" textLength="234.6" lengthAdjust="spacingAndGlyphs">with Data</text>
<text x="1507.2" y="164" font-family="Liberation Sans, sans-serif" font-size="51" fill="#000" stroke="#fff" stroke-width="0.7" textLength="199.9" lengthAdjust="spacingAndGlyphs">Develop</text>
<text x="1507.2" y="224" font-family="Liberation Sans, sans-serif" font-size="51" fill="#000" stroke="#fff" stroke-width="0.7" textLength="318.6" lengthAdjust="spacingAndGlyphs">Expectations</text>
<text x="1061.2" y="713.6" font-family="Liberation Sans, sans-serif" font-size="51" fill="#000" stroke="#fff" stroke-width="0.7" textLength="298.4" lengthAdjust="spacingAndGlyphs">Collect Data</text>
<path d="M916.7 169.15L1006.3 220.6" stroke="#000" stroke-width="9.6" fill="none"/>
<path d="M1412.6 223.6L1497.2 173.3" stroke="#000" stroke-width="9.6" fill="none"/>
<path d="M1209.85 571.7V662.9" stroke="#000" stroke-width="9.7" fill="none"/>
<g transform="translate(1025.6 197.1) scale(0.345)" fill="none" stroke="#000" stroke-width="18" stroke-linejoin="miter" stroke-miterlimit="10"><path d="M7.3 9H102.6M95.9 7.6L36 75M30.7 77.6H52.2C79.4 77.6 101.5 95.6 101.5 117.85C101.5 140.1 79.4 158.1 52.2 158.1C33 158.1 16 152 4.2 142.8"/></g>
<g transform="translate(1372 197.9) scale(0.351)" fill="none" stroke="#000" stroke-width="18" stroke-linejoin="miter" stroke-miterlimit="10"><path d="M0 9H52.7M43.35 0V165.8"/></g>
<g transform="translate(1194.3 492.4) scale(0.347)" fill="none" stroke="#000" stroke-width="18" stroke-linejoin="miter" stroke-miterlimit="10"><path d="M6.6 30.2C20 17 36 9 54 9C79 9 97 24 97 44C97 58 91 67 83 76L8 156M2.3 158H116.5"/></g>
<path d="M1212.4 741V858M1165 814.65L1212.4 861.3L1259.8 814.65" stroke="#000" stroke-width="25" fill="none" stroke-linejoin="miter"/>
</svg>
</body></html>
